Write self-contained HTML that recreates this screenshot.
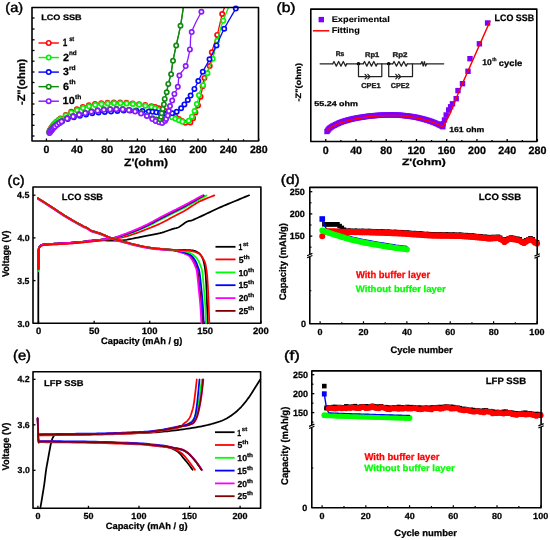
<!DOCTYPE html>
<html><head><meta charset="utf-8"><style>
html,body{margin:0;padding:0;background:#fff;width:550px;height:540px;overflow:hidden}
svg{display:block;will-change:transform}
text{font-family:"Liberation Sans",sans-serif;text-rendering:geometricPrecision}
</style></head><body>
<svg xmlns="http://www.w3.org/2000/svg" width="550" height="540" viewBox="0 0 550 540">
<rect width="550" height="540" fill="#fff"/>
<polyline points="49.50,131.00 49.76,130.57 50.09,130.00 50.49,129.32 50.94,128.56 51.42,127.77 51.94,126.97 52.47,126.20 53.00,125.50 53.54,124.85 54.10,124.21 54.68,123.59 55.28,122.97 55.91,122.35 56.57,121.74 57.27,121.12 58.00,120.50 58.76,119.88 59.54,119.26 60.35,118.65 61.19,118.03 62.07,117.41 62.99,116.79 63.97,116.15 65.00,115.50 66.09,114.83 67.22,114.14 68.40,113.43 69.62,112.72 70.90,112.01 72.22,111.32 73.59,110.64 75.00,110.00 76.49,109.37 78.06,108.75 79.70,108.13 81.38,107.54 83.07,106.97 84.75,106.43 86.40,105.94 88.00,105.50 89.55,105.11 91.07,104.78 92.57,104.48 94.06,104.22 95.54,103.99 97.02,103.78 98.51,103.59 100.00,103.40 101.50,103.22 103.00,103.06 104.50,102.93 106.00,102.81 107.50,102.70 109.00,102.62 110.50,102.55 112.00,102.50 113.50,102.47 115.00,102.45 116.50,102.45 118.00,102.48 119.50,102.51 121.00,102.56 122.50,102.62 124.00,102.70 125.50,102.79 127.00,102.90 128.50,103.02 130.00,103.16 131.50,103.30 133.00,103.46 134.50,103.63 136.00,103.80 137.51,103.98 139.05,104.16 140.59,104.36 142.12,104.56 143.65,104.78 145.14,105.00 146.60,105.25 148.00,105.50 149.35,105.76 150.66,106.03 151.94,106.31 153.19,106.61 154.41,106.92 155.62,107.25 156.81,107.61 158.00,108.00 159.18,108.42 160.34,108.88 161.49,109.37 162.62,109.88 163.74,110.40 164.84,110.93 165.93,111.47 167.00,112.00 168.05,112.54 169.09,113.09 170.12,113.65 171.12,114.22 172.12,114.79 173.09,115.36 174.05,115.93 175.00,116.50 175.94,117.08 176.87,117.67 177.79,118.27 178.69,118.87 179.57,119.45 180.41,120.01 181.23,120.53 182.00,121.00 182.73,121.44 183.41,121.88 184.07,122.30 184.69,122.68 185.29,123.02 185.87,123.29 186.44,123.49 187.00,123.60 187.55,123.63 188.09,123.60 188.62,123.50 189.12,123.34 189.62,123.11 190.09,122.81 190.55,122.44 191.00,122.00 191.42,121.47 191.82,120.86 192.20,120.16 192.56,119.40 192.92,118.59 193.27,117.74 193.63,116.88 194.00,116.00 194.38,115.09 194.76,114.12 195.15,113.10 195.53,112.06 195.91,111.01 196.29,109.98 196.65,108.97 197.00,108.00 197.34,107.10 197.66,106.27 197.97,105.48 198.28,104.69 198.58,103.87 198.89,103.01 199.19,102.06 199.50,101.00 199.81,99.82 200.13,98.56 200.44,97.22 200.76,95.82 201.07,94.38 201.38,92.92 201.69,91.45 202.00,90.00 202.28,88.54 202.54,87.05 202.78,85.53 203.03,84.00 203.29,82.46 203.60,80.93 203.96,79.41 204.40,77.90 204.95,76.43 205.60,74.98 206.32,73.55 207.07,72.11 207.82,70.67 208.53,69.19 209.17,67.67 209.70,66.10 210.09,64.49 210.37,62.85 210.58,61.19 210.74,59.49 210.91,57.75 211.12,55.96 211.40,54.11 211.80,52.20 212.32,50.22 212.93,48.20 213.60,46.12 214.32,43.99 215.06,41.80 215.80,39.56 216.52,37.26 217.20,34.90 217.86,32.36 218.54,29.59 219.22,26.69 219.89,23.77 220.53,20.93 221.14,18.29 221.70,15.94 222.20,14.00 222.64,12.46 223.04,11.23 223.40,10.26 223.71,9.49 223.99,8.89 224.23,8.41 224.43,7.99 224.60,7.60" fill="none" stroke="#ff0808" stroke-width="1.3" stroke-linejoin="round" stroke-linecap="round"/>
<circle cx="49.50" cy="131.00" r="2.15" fill="#fff" stroke="#ff0808" stroke-width="1.7"/>
<circle cx="50.21" cy="129.80" r="2.15" fill="#fff" stroke="#ff0808" stroke-width="1.7"/>
<circle cx="50.92" cy="128.59" r="2.15" fill="#fff" stroke="#ff0808" stroke-width="1.7"/>
<circle cx="51.66" cy="127.40" r="2.15" fill="#fff" stroke="#ff0808" stroke-width="1.7"/>
<circle cx="52.44" cy="126.24" r="2.15" fill="#fff" stroke="#ff0808" stroke-width="1.7"/>
<circle cx="53.30" cy="125.13" r="2.15" fill="#fff" stroke="#ff0808" stroke-width="1.7"/>
<circle cx="54.22" cy="124.08" r="2.15" fill="#fff" stroke="#ff0808" stroke-width="1.7"/>
<circle cx="56.19" cy="122.09" r="2.15" fill="#fff" stroke="#ff0808" stroke-width="1.7"/>
<circle cx="58.30" cy="120.25" r="2.15" fill="#fff" stroke="#ff0808" stroke-width="1.7"/>
<circle cx="60.51" cy="118.53" r="2.15" fill="#fff" stroke="#ff0808" stroke-width="1.7"/>
<circle cx="65.75" cy="115.04" r="2.15" fill="#fff" stroke="#ff0808" stroke-width="1.7"/>
<circle cx="71.19" cy="111.86" r="2.15" fill="#fff" stroke="#ff0808" stroke-width="1.7"/>
<circle cx="76.90" cy="109.21" r="2.15" fill="#fff" stroke="#ff0808" stroke-width="1.7"/>
<circle cx="82.82" cy="107.05" r="2.15" fill="#fff" stroke="#ff0808" stroke-width="1.7"/>
<circle cx="88.86" cy="105.28" r="2.15" fill="#fff" stroke="#ff0808" stroke-width="1.7"/>
<circle cx="95.04" cy="104.07" r="2.15" fill="#fff" stroke="#ff0808" stroke-width="1.7"/>
<circle cx="101.29" cy="103.25" r="2.15" fill="#fff" stroke="#ff0808" stroke-width="1.7"/>
<circle cx="107.56" cy="102.70" r="2.15" fill="#fff" stroke="#ff0808" stroke-width="1.7"/>
<circle cx="113.86" cy="102.46" r="2.15" fill="#fff" stroke="#ff0808" stroke-width="1.7"/>
<circle cx="120.16" cy="102.53" r="2.15" fill="#fff" stroke="#ff0808" stroke-width="1.7"/>
<circle cx="126.45" cy="102.86" r="2.15" fill="#fff" stroke="#ff0808" stroke-width="1.7"/>
<circle cx="132.72" cy="103.43" r="2.15" fill="#fff" stroke="#ff0808" stroke-width="1.7"/>
<circle cx="138.98" cy="104.16" r="2.15" fill="#fff" stroke="#ff0808" stroke-width="1.7"/>
<circle cx="145.22" cy="105.02" r="2.15" fill="#fff" stroke="#ff0808" stroke-width="1.7"/>
<circle cx="151.41" cy="106.19" r="2.15" fill="#fff" stroke="#ff0808" stroke-width="1.7"/>
<circle cx="155.10" cy="107.10" r="2.15" fill="#fff" stroke="#ff0808" stroke-width="1.7"/>
<circle cx="158.72" cy="108.26" r="2.15" fill="#fff" stroke="#ff0808" stroke-width="1.7"/>
<circle cx="162.23" cy="109.70" r="2.15" fill="#fff" stroke="#ff0808" stroke-width="1.7"/>
<circle cx="165.66" cy="111.33" r="2.15" fill="#fff" stroke="#ff0808" stroke-width="1.7"/>
<circle cx="169.05" cy="113.06" r="2.15" fill="#fff" stroke="#ff0808" stroke-width="1.7"/>
<circle cx="172.36" cy="114.93" r="2.15" fill="#fff" stroke="#ff0808" stroke-width="1.7"/>
<circle cx="175.62" cy="116.88" r="2.15" fill="#fff" stroke="#ff0808" stroke-width="1.7"/>
<circle cx="178.81" cy="118.95" r="2.15" fill="#fff" stroke="#ff0808" stroke-width="1.7"/>
<circle cx="182.00" cy="121.00" r="2.15" fill="#fff" stroke="#ff0808" stroke-width="1.7"/>
<circle cx="185.36" cy="122.79" r="2.15" fill="#fff" stroke="#ff0808" stroke-width="1.7"/>
<circle cx="190.40" cy="122.50" r="2.15" fill="#fff" stroke="#ff0808" stroke-width="1.7"/>
<circle cx="193.10" cy="118.15" r="2.15" fill="#fff" stroke="#ff0808" stroke-width="1.7"/>
<circle cx="195.42" cy="112.38" r="2.15" fill="#fff" stroke="#ff0808" stroke-width="1.7"/>
<circle cx="198.01" cy="105.38" r="2.15" fill="#fff" stroke="#ff0808" stroke-width="1.7"/>
<circle cx="200.54" cy="96.80" r="2.15" fill="#fff" stroke="#ff0808" stroke-width="1.7"/>
<circle cx="202.66" cy="86.26" r="2.15" fill="#fff" stroke="#ff0808" stroke-width="1.7"/>
<circle cx="204.40" cy="77.90" r="2.15" fill="#fff" stroke="#ff0808" stroke-width="1.7"/>
<circle cx="209.70" cy="66.10" r="2.15" fill="#fff" stroke="#ff0808" stroke-width="1.7"/>
<circle cx="211.80" cy="52.20" r="2.15" fill="#fff" stroke="#ff0808" stroke-width="1.7"/>
<circle cx="217.20" cy="34.90" r="2.15" fill="#fff" stroke="#ff0808" stroke-width="1.7"/>
<circle cx="222.20" cy="14.00" r="2.15" fill="#fff" stroke="#ff0808" stroke-width="1.7"/>
<polyline points="49.50,131.50 49.76,131.07 50.09,130.50 50.49,129.82 50.94,129.06 51.42,128.27 51.94,127.47 52.47,126.70 53.00,126.00 53.54,125.35 54.10,124.71 54.68,124.09 55.28,123.47 55.91,122.85 56.57,122.24 57.27,121.62 58.00,121.00 58.76,120.38 59.54,119.75 60.35,119.12 61.19,118.50 62.07,117.88 62.99,117.25 63.97,116.62 65.00,116.00 66.09,115.37 67.22,114.74 68.40,114.10 69.62,113.47 70.90,112.84 72.22,112.21 73.59,111.60 75.00,111.00 76.49,110.40 78.06,109.79 79.70,109.17 81.38,108.58 83.07,108.00 84.75,107.45 86.40,106.95 88.00,106.50 89.55,106.11 91.07,105.76 92.57,105.45 94.06,105.18 95.54,104.94 97.02,104.71 98.51,104.50 100.00,104.30 101.50,104.11 103.00,103.94 104.50,103.79 106.00,103.66 107.50,103.55 109.00,103.45 110.50,103.37 112.00,103.30 113.50,103.25 115.00,103.21 116.50,103.18 118.00,103.17 119.50,103.18 121.00,103.21 122.50,103.25 124.00,103.30 125.51,103.37 127.05,103.47 128.59,103.58 130.12,103.70 131.65,103.84 133.14,103.98 134.60,104.14 136.00,104.30 137.36,104.47 138.69,104.65 139.98,104.84 141.25,105.04 142.48,105.25 143.69,105.46 144.86,105.68 146.00,105.90 147.11,106.12 148.19,106.34 149.23,106.56 150.25,106.78 151.23,107.02 152.19,107.26 153.11,107.52 154.00,107.80 154.84,108.09 155.62,108.39 156.35,108.70 157.06,109.02 157.76,109.36 158.48,109.71 159.22,110.09 160.00,110.50 160.83,110.94 161.70,111.43 162.58,111.94 163.48,112.46 164.38,112.99 165.28,113.52 166.15,114.02 167.00,114.50 167.83,114.95 168.66,115.40 169.48,115.85 170.29,116.28 171.09,116.69 171.85,117.08 172.59,117.45 173.30,117.80 173.97,118.11 174.60,118.40 175.21,118.66 175.79,118.90 176.36,119.13 176.91,119.35 177.46,119.57 178.00,119.80 178.54,120.03 179.06,120.26 179.57,120.49 180.07,120.72 180.56,120.93 181.04,121.14 181.52,121.33 182.00,121.50 182.47,121.67 182.93,121.84 183.39,122.01 183.84,122.17 184.28,122.30 184.72,122.38 185.16,122.42 185.60,122.40 186.04,122.32 186.47,122.19 186.91,122.02 187.34,121.81 187.76,121.56 188.18,121.28 188.60,120.95 189.00,120.60 189.40,120.20 189.80,119.75 190.19,119.25 190.57,118.72 190.95,118.17 191.32,117.61 191.67,117.05 192.00,116.50 192.32,115.96 192.62,115.43 192.90,114.89 193.18,114.34 193.44,113.78 193.70,113.20 193.95,112.61 194.20,112.00 194.44,111.37 194.67,110.72 194.90,110.05 195.11,109.38 195.33,108.68 195.55,107.97 195.77,107.24 196.00,106.50 196.24,105.74 196.50,104.96 196.76,104.16 197.02,103.34 197.28,102.52 197.53,101.68 197.77,100.84 198.00,100.00 198.21,99.14 198.40,98.24 198.58,97.32 198.75,96.41 198.92,95.50 199.10,94.62 199.29,93.78 199.50,93.00 199.73,92.27 199.96,91.57 200.21,90.91 200.47,90.28 200.73,89.68 200.99,89.10 201.25,88.54 201.50,88.00 201.75,87.50 202.00,87.07 202.25,86.67 202.50,86.28 202.75,85.89 203.00,85.48 203.25,85.02 203.50,84.50 203.75,83.91 204.00,83.26 204.26,82.57 204.51,81.85 204.76,81.12 205.01,80.39 205.26,79.68 205.50,79.00 205.73,78.36 205.94,77.76 206.15,77.18 206.36,76.60 206.57,76.00 206.79,75.36 207.03,74.67 207.30,73.90 207.60,73.03 207.92,72.06 208.27,71.02 208.62,69.96 208.98,68.89 209.34,67.85 209.68,66.88 210.00,66.00 210.29,65.29 210.55,64.76 210.79,64.32 211.03,63.89 211.28,63.41 211.55,62.78 211.85,61.94 212.20,60.80 212.60,59.31 213.04,57.51 213.52,55.48 214.02,53.32 214.53,51.11 215.03,48.93 215.53,46.87 216.00,45.00 216.47,43.28 216.94,41.59 217.42,39.96 217.89,38.39 218.35,36.89 218.77,35.49 219.16,34.19 219.50,33.00 219.77,32.00 219.96,31.20 220.10,30.53 220.22,29.94 220.34,29.35 220.50,28.71 220.71,27.95 221.00,27.00 221.38,25.85 221.84,24.54 222.34,23.13 222.88,21.65 223.43,20.15 223.98,18.68 224.51,17.28 225.00,16.00 225.49,14.77 225.99,13.52 226.50,12.29 227.00,11.11 227.47,10.02 227.88,9.05 228.23,8.23 228.50,7.60" fill="none" stroke="#0af00a" stroke-width="1.3" stroke-linejoin="round" stroke-linecap="round"/>
<circle cx="49.50" cy="131.50" r="2.15" fill="#fff" stroke="#0af00a" stroke-width="1.7"/>
<circle cx="50.21" cy="130.30" r="2.15" fill="#fff" stroke="#0af00a" stroke-width="1.7"/>
<circle cx="50.92" cy="129.09" r="2.15" fill="#fff" stroke="#0af00a" stroke-width="1.7"/>
<circle cx="51.66" cy="127.90" r="2.15" fill="#fff" stroke="#0af00a" stroke-width="1.7"/>
<circle cx="52.44" cy="126.74" r="2.15" fill="#fff" stroke="#0af00a" stroke-width="1.7"/>
<circle cx="53.30" cy="125.63" r="2.15" fill="#fff" stroke="#0af00a" stroke-width="1.7"/>
<circle cx="54.22" cy="124.58" r="2.15" fill="#fff" stroke="#0af00a" stroke-width="1.7"/>
<circle cx="56.19" cy="122.59" r="2.15" fill="#fff" stroke="#0af00a" stroke-width="1.7"/>
<circle cx="58.30" cy="120.75" r="2.15" fill="#fff" stroke="#0af00a" stroke-width="1.7"/>
<circle cx="60.50" cy="119.01" r="2.15" fill="#fff" stroke="#0af00a" stroke-width="1.7"/>
<circle cx="65.76" cy="115.56" r="2.15" fill="#fff" stroke="#0af00a" stroke-width="1.7"/>
<circle cx="71.34" cy="112.63" r="2.15" fill="#fff" stroke="#0af00a" stroke-width="1.7"/>
<circle cx="77.13" cy="110.15" r="2.15" fill="#fff" stroke="#0af00a" stroke-width="1.7"/>
<circle cx="83.05" cy="108.00" r="2.15" fill="#fff" stroke="#0af00a" stroke-width="1.7"/>
<circle cx="89.09" cy="106.22" r="2.15" fill="#fff" stroke="#0af00a" stroke-width="1.7"/>
<circle cx="95.26" cy="104.98" r="2.15" fill="#fff" stroke="#0af00a" stroke-width="1.7"/>
<circle cx="101.50" cy="104.11" r="2.15" fill="#fff" stroke="#0af00a" stroke-width="1.7"/>
<circle cx="107.78" cy="103.53" r="2.15" fill="#fff" stroke="#0af00a" stroke-width="1.7"/>
<circle cx="114.07" cy="103.23" r="2.15" fill="#fff" stroke="#0af00a" stroke-width="1.7"/>
<circle cx="120.37" cy="103.19" r="2.15" fill="#fff" stroke="#0af00a" stroke-width="1.7"/>
<circle cx="126.66" cy="103.44" r="2.15" fill="#fff" stroke="#0af00a" stroke-width="1.7"/>
<circle cx="132.94" cy="103.96" r="2.15" fill="#fff" stroke="#0af00a" stroke-width="1.7"/>
<circle cx="139.19" cy="104.72" r="2.15" fill="#fff" stroke="#0af00a" stroke-width="1.7"/>
<circle cx="145.40" cy="105.78" r="2.15" fill="#fff" stroke="#0af00a" stroke-width="1.7"/>
<circle cx="151.56" cy="107.10" r="2.15" fill="#fff" stroke="#0af00a" stroke-width="1.7"/>
<circle cx="155.19" cy="108.22" r="2.15" fill="#fff" stroke="#0af00a" stroke-width="1.7"/>
<circle cx="158.65" cy="109.80" r="2.15" fill="#fff" stroke="#0af00a" stroke-width="1.7"/>
<circle cx="161.99" cy="111.60" r="2.15" fill="#fff" stroke="#0af00a" stroke-width="1.7"/>
<circle cx="165.27" cy="113.52" r="2.15" fill="#fff" stroke="#0af00a" stroke-width="1.7"/>
<circle cx="168.59" cy="115.37" r="2.15" fill="#fff" stroke="#0af00a" stroke-width="1.7"/>
<circle cx="171.96" cy="117.13" r="2.15" fill="#fff" stroke="#0af00a" stroke-width="1.7"/>
<circle cx="175.40" cy="118.74" r="2.15" fill="#fff" stroke="#0af00a" stroke-width="1.7"/>
<circle cx="178.91" cy="120.20" r="2.15" fill="#fff" stroke="#0af00a" stroke-width="1.7"/>
<circle cx="182.42" cy="121.64" r="2.15" fill="#fff" stroke="#0af00a" stroke-width="1.7"/>
<circle cx="188.80" cy="120.77" r="2.15" fill="#fff" stroke="#0af00a" stroke-width="1.7"/>
<circle cx="191.91" cy="116.65" r="2.15" fill="#fff" stroke="#0af00a" stroke-width="1.7"/>
<circle cx="194.56" cy="111.04" r="2.15" fill="#fff" stroke="#0af00a" stroke-width="1.7"/>
<circle cx="196.83" cy="103.93" r="2.15" fill="#fff" stroke="#0af00a" stroke-width="1.7"/>
<circle cx="198.97" cy="95.24" r="2.15" fill="#fff" stroke="#0af00a" stroke-width="1.7"/>
<circle cx="203.06" cy="85.37" r="2.15" fill="#fff" stroke="#0af00a" stroke-width="1.7"/>
<circle cx="207.51" cy="73.28" r="2.15" fill="#fff" stroke="#0af00a" stroke-width="1.7"/>
<circle cx="212.74" cy="58.74" r="2.15" fill="#fff" stroke="#0af00a" stroke-width="1.7"/>
<circle cx="217.20" cy="40.71" r="2.15" fill="#fff" stroke="#0af00a" stroke-width="1.7"/>
<circle cx="223.25" cy="20.63" r="2.15" fill="#fff" stroke="#0af00a" stroke-width="1.7"/>
<polyline points="49.50,132.50 49.76,132.15 50.09,131.68 50.49,131.12 50.94,130.50 51.42,129.85 51.94,129.20 52.47,128.57 53.00,128.00 53.54,127.48 54.10,126.96 54.68,126.46 55.28,125.97 55.91,125.48 56.57,124.99 57.27,124.50 58.00,124.00 58.76,123.49 59.54,122.98 60.35,122.46 61.19,121.94 62.07,121.43 62.99,120.93 63.97,120.45 65.00,120.00 66.09,119.58 67.22,119.18 68.40,118.80 69.62,118.44 70.90,118.08 72.22,117.73 73.59,117.37 75.00,117.00 76.49,116.62 78.06,116.22 79.70,115.81 81.38,115.41 83.07,115.02 84.75,114.65 86.40,114.31 88.00,114.00 89.55,113.73 91.07,113.49 92.57,113.27 94.06,113.07 95.54,112.89 97.02,112.72 98.51,112.56 100.00,112.40 101.50,112.25 103.00,112.13 104.50,112.01 106.00,111.91 107.50,111.81 109.00,111.71 110.50,111.61 112.00,111.50 113.51,111.38 115.02,111.26 116.54,111.13 118.06,111.01 119.57,110.89 121.07,110.78 122.55,110.68 124.00,110.60 125.43,110.53 126.84,110.48 128.24,110.43 129.62,110.39 130.99,110.37 132.34,110.36 133.68,110.37 135.00,110.40 136.30,110.45 137.59,110.53 138.87,110.63 140.12,110.74 141.37,110.86 142.59,110.98 143.80,111.09 145.00,111.20 146.19,111.30 147.39,111.40 148.58,111.49 149.75,111.59 150.89,111.69 151.98,111.79 153.03,111.89 154.00,112.00 154.89,112.12 155.70,112.24 156.45,112.36 157.16,112.49 157.85,112.62 158.54,112.75 159.25,112.87 160.00,113.00 160.78,113.14 161.59,113.29 162.40,113.45 163.21,113.61 164.03,113.75 164.83,113.87 165.63,113.96 166.40,114.00 167.16,114.00 167.92,113.97 168.68,113.90 169.42,113.81 170.15,113.70 170.86,113.58 171.54,113.44 172.20,113.30 172.83,113.16 173.42,113.01 173.99,112.85 174.54,112.67 175.08,112.47 175.61,112.25 176.15,111.99 176.70,111.70 177.26,111.36 177.83,110.99 178.41,110.58 178.97,110.14 179.53,109.69 180.08,109.23 180.60,108.76 181.10,108.30 181.56,107.84 182.00,107.37 182.41,106.90 182.81,106.41 183.20,105.92 183.59,105.42 183.99,104.91 184.40,104.40 184.82,103.87 185.26,103.34 185.69,102.79 186.13,102.23 186.56,101.67 186.99,101.11 187.40,100.55 187.80,100.00 188.17,99.47 188.52,98.95 188.85,98.45 189.18,97.94 189.50,97.42 189.84,96.86 190.21,96.26 190.60,95.60 191.03,94.88 191.48,94.11 191.95,93.30 192.43,92.46 192.92,91.59 193.42,90.71 193.91,89.81 194.40,88.90 194.88,87.99 195.35,87.06 195.83,86.13 196.31,85.17 196.79,84.19 197.28,83.19 197.78,82.16 198.30,81.10 198.82,80.02 199.33,78.93 199.85,77.82 200.38,76.69 200.93,75.52 201.51,74.30 202.13,73.03 202.80,71.70 203.53,70.30 204.31,68.85 205.14,67.34 205.99,65.78 206.87,64.19 207.75,62.58 208.63,60.94 209.50,59.30 210.36,57.65 211.21,55.99 212.07,54.32 212.94,52.61 213.81,50.88 214.69,49.10 215.59,47.28 216.50,45.40 217.40,43.48 218.28,41.52 219.16,39.53 220.06,37.49 221.00,35.41 221.98,33.27 223.05,31.07 224.20,28.80 225.54,26.32 227.09,23.55 228.75,20.64 230.45,17.73 232.09,14.93 233.59,12.38 234.85,10.23 235.80,8.60 236.40,7.55 236.72,6.98 236.82,6.77 236.78,6.84 236.64,7.06 236.47,7.33 236.34,7.55 236.30,7.60" fill="none" stroke="#0808ff" stroke-width="1.3" stroke-linejoin="round" stroke-linecap="round"/>
<circle cx="49.50" cy="132.50" r="2.15" fill="#fff" stroke="#0808ff" stroke-width="1.7"/>
<circle cx="50.32" cy="131.36" r="2.15" fill="#fff" stroke="#0808ff" stroke-width="1.7"/>
<circle cx="51.14" cy="130.23" r="2.15" fill="#fff" stroke="#0808ff" stroke-width="1.7"/>
<circle cx="52.00" cy="129.12" r="2.15" fill="#fff" stroke="#0808ff" stroke-width="1.7"/>
<circle cx="52.93" cy="128.08" r="2.15" fill="#fff" stroke="#0808ff" stroke-width="1.7"/>
<circle cx="53.94" cy="127.11" r="2.15" fill="#fff" stroke="#0808ff" stroke-width="1.7"/>
<circle cx="55.00" cy="126.20" r="2.15" fill="#fff" stroke="#0808ff" stroke-width="1.7"/>
<circle cx="57.24" cy="124.52" r="2.15" fill="#fff" stroke="#0808ff" stroke-width="1.7"/>
<circle cx="59.56" cy="122.96" r="2.15" fill="#fff" stroke="#0808ff" stroke-width="1.7"/>
<circle cx="61.95" cy="121.49" r="2.15" fill="#fff" stroke="#0808ff" stroke-width="1.7"/>
<circle cx="67.73" cy="119.01" r="2.15" fill="#fff" stroke="#0808ff" stroke-width="1.7"/>
<circle cx="73.79" cy="117.31" r="2.15" fill="#fff" stroke="#0808ff" stroke-width="1.7"/>
<circle cx="79.90" cy="115.77" r="2.15" fill="#fff" stroke="#0808ff" stroke-width="1.7"/>
<circle cx="86.05" cy="114.38" r="2.15" fill="#fff" stroke="#0808ff" stroke-width="1.7"/>
<circle cx="92.25" cy="113.31" r="2.15" fill="#fff" stroke="#0808ff" stroke-width="1.7"/>
<circle cx="98.51" cy="112.56" r="2.15" fill="#fff" stroke="#0808ff" stroke-width="1.7"/>
<circle cx="104.78" cy="111.99" r="2.15" fill="#fff" stroke="#0808ff" stroke-width="1.7"/>
<circle cx="111.07" cy="111.57" r="2.15" fill="#fff" stroke="#0808ff" stroke-width="1.7"/>
<circle cx="117.35" cy="111.07" r="2.15" fill="#fff" stroke="#0808ff" stroke-width="1.7"/>
<circle cx="123.63" cy="110.62" r="2.15" fill="#fff" stroke="#0808ff" stroke-width="1.7"/>
<circle cx="129.93" cy="110.39" r="2.15" fill="#fff" stroke="#0808ff" stroke-width="1.7"/>
<circle cx="136.23" cy="110.45" r="2.15" fill="#fff" stroke="#0808ff" stroke-width="1.7"/>
<circle cx="142.50" cy="110.97" r="2.15" fill="#fff" stroke="#0808ff" stroke-width="1.7"/>
<circle cx="148.78" cy="111.51" r="2.15" fill="#fff" stroke="#0808ff" stroke-width="1.7"/>
<circle cx="152.56" cy="111.84" r="2.15" fill="#fff" stroke="#0808ff" stroke-width="1.7"/>
<circle cx="156.33" cy="112.34" r="2.15" fill="#fff" stroke="#0808ff" stroke-width="1.7"/>
<circle cx="160.07" cy="113.01" r="2.15" fill="#fff" stroke="#0808ff" stroke-width="1.7"/>
<circle cx="163.83" cy="113.60" r="2.15" fill="#fff" stroke="#0808ff" stroke-width="1.7"/>
<circle cx="166.40" cy="114.00" r="2.15" fill="#fff" stroke="#0808ff" stroke-width="1.7"/>
<circle cx="172.20" cy="113.30" r="2.15" fill="#fff" stroke="#0808ff" stroke-width="1.7"/>
<circle cx="176.70" cy="111.70" r="2.15" fill="#fff" stroke="#0808ff" stroke-width="1.7"/>
<circle cx="181.10" cy="108.30" r="2.15" fill="#fff" stroke="#0808ff" stroke-width="1.7"/>
<circle cx="184.40" cy="104.40" r="2.15" fill="#fff" stroke="#0808ff" stroke-width="1.7"/>
<circle cx="187.80" cy="100.00" r="2.15" fill="#fff" stroke="#0808ff" stroke-width="1.7"/>
<circle cx="190.60" cy="95.60" r="2.15" fill="#fff" stroke="#0808ff" stroke-width="1.7"/>
<circle cx="194.40" cy="88.90" r="2.15" fill="#fff" stroke="#0808ff" stroke-width="1.7"/>
<circle cx="198.30" cy="81.10" r="2.15" fill="#fff" stroke="#0808ff" stroke-width="1.7"/>
<circle cx="202.80" cy="71.70" r="2.15" fill="#fff" stroke="#0808ff" stroke-width="1.7"/>
<circle cx="209.50" cy="59.30" r="2.15" fill="#fff" stroke="#0808ff" stroke-width="1.7"/>
<circle cx="216.50" cy="45.40" r="2.15" fill="#fff" stroke="#0808ff" stroke-width="1.7"/>
<circle cx="224.20" cy="28.80" r="2.15" fill="#fff" stroke="#0808ff" stroke-width="1.7"/>
<circle cx="235.80" cy="8.60" r="2.15" fill="#fff" stroke="#0808ff" stroke-width="1.7"/>
<polyline points="49.50,132.50 49.76,132.15 50.09,131.69 50.49,131.14 50.94,130.53 51.42,129.89 51.94,129.23 52.47,128.59 53.00,128.00 53.54,127.44 54.10,126.88 54.68,126.31 55.28,125.75 55.91,125.19 56.57,124.62 57.27,124.06 58.00,123.50 58.76,122.93 59.54,122.35 60.35,121.77 61.19,121.19 62.07,120.61 62.99,120.05 63.97,119.51 65.00,119.00 66.09,118.51 67.22,118.05 68.40,117.61 69.62,117.19 70.90,116.77 72.22,116.35 73.59,115.93 75.00,115.50 76.49,115.05 78.06,114.59 79.70,114.13 81.38,113.67 83.07,113.22 84.75,112.78 86.40,112.38 88.00,112.00 89.55,111.65 91.07,111.33 92.57,111.03 94.06,110.74 95.54,110.48 97.02,110.24 98.51,110.01 100.00,109.80 101.50,109.61 103.00,109.44 104.50,109.28 106.00,109.15 107.50,109.03 109.00,108.94 110.50,108.86 112.00,108.80 113.52,108.76 115.07,108.74 116.63,108.73 118.19,108.74 119.72,108.78 121.21,108.83 122.64,108.90 124.00,109.00 125.28,109.12 126.48,109.26 127.64,109.42 128.75,109.61 129.83,109.81 130.89,110.02 131.94,110.26 133.00,110.50 134.06,110.76 135.12,111.05 136.16,111.36 137.19,111.69 138.19,112.02 139.16,112.35 140.10,112.68 141.00,113.00 141.85,113.31 142.64,113.61 143.40,113.91 144.12,114.21 144.84,114.52 145.55,114.83 146.26,115.16 147.00,115.50 147.76,115.87 148.55,116.28 149.34,116.72 150.12,117.15 150.90,117.57 151.64,117.97 152.35,118.31 153.00,118.60 153.60,118.83 154.16,119.01 154.69,119.15 155.19,119.26 155.66,119.35 156.12,119.41 156.56,119.46 157.00,119.50 157.44,119.53 157.86,119.56 158.28,119.57 158.68,119.56 159.06,119.53 159.41,119.46 159.72,119.35 160.00,119.20 160.23,119.00 160.42,118.75 160.57,118.46 160.70,118.14 160.81,117.80 160.90,117.44 161.00,117.07 161.10,116.70 161.20,116.32 161.27,115.94 161.34,115.53 161.40,115.12 161.46,114.69 161.53,114.24 161.60,113.78 161.70,113.30 161.81,112.80 161.94,112.27 162.08,111.73 162.22,111.17 162.37,110.60 162.51,110.03 162.66,109.46 162.80,108.90 162.94,108.35 163.08,107.81 163.23,107.26 163.37,106.72 163.51,106.17 163.65,105.60 163.78,105.01 163.90,104.40 164.01,103.77 164.09,103.12 164.17,102.46 164.24,101.79 164.33,101.09 164.42,100.38 164.54,99.65 164.70,98.90 164.90,98.13 165.12,97.35 165.38,96.55 165.65,95.73 165.93,94.88 166.20,94.02 166.46,93.12 166.70,92.20 166.91,91.25 167.10,90.28 167.28,89.28 167.46,88.26 167.64,87.21 167.83,86.14 168.05,85.03 168.30,83.90 168.59,82.74 168.91,81.57 169.26,80.37 169.62,79.14 169.99,77.88 170.35,76.57 170.69,75.21 171.00,73.80 171.28,72.33 171.52,70.81 171.75,69.24 171.97,67.62 172.19,65.97 172.43,64.28 172.70,62.55 173.00,60.80 173.34,59.03 173.69,57.24 174.06,55.42 174.46,53.57 174.87,51.66 175.29,49.69 175.74,47.64 176.20,45.50 176.70,43.24 177.23,40.85 177.80,38.37 178.38,35.83 178.95,33.27 179.50,30.72 180.03,28.22 180.50,25.80 180.94,23.33 181.37,20.72 181.78,18.07 182.17,15.47 182.52,13.03 182.83,10.84 183.09,8.99 183.30,7.60" fill="none" stroke="#128a12" stroke-width="1.3" stroke-linejoin="round" stroke-linecap="round"/>
<circle cx="49.50" cy="132.50" r="2.15" fill="#fff" stroke="#128a12" stroke-width="1.7"/>
<circle cx="50.33" cy="131.37" r="2.15" fill="#fff" stroke="#128a12" stroke-width="1.7"/>
<circle cx="51.15" cy="130.24" r="2.15" fill="#fff" stroke="#128a12" stroke-width="1.7"/>
<circle cx="52.01" cy="129.14" r="2.15" fill="#fff" stroke="#128a12" stroke-width="1.7"/>
<circle cx="52.93" cy="128.08" r="2.15" fill="#fff" stroke="#128a12" stroke-width="1.7"/>
<circle cx="53.90" cy="127.07" r="2.15" fill="#fff" stroke="#128a12" stroke-width="1.7"/>
<circle cx="54.91" cy="126.10" r="2.15" fill="#fff" stroke="#128a12" stroke-width="1.7"/>
<circle cx="57.02" cy="124.26" r="2.15" fill="#fff" stroke="#128a12" stroke-width="1.7"/>
<circle cx="59.25" cy="122.57" r="2.15" fill="#fff" stroke="#128a12" stroke-width="1.7"/>
<circle cx="61.54" cy="120.95" r="2.15" fill="#fff" stroke="#128a12" stroke-width="1.7"/>
<circle cx="67.13" cy="118.09" r="2.15" fill="#fff" stroke="#128a12" stroke-width="1.7"/>
<circle cx="73.10" cy="116.08" r="2.15" fill="#fff" stroke="#128a12" stroke-width="1.7"/>
<circle cx="79.14" cy="114.29" r="2.15" fill="#fff" stroke="#128a12" stroke-width="1.7"/>
<circle cx="85.23" cy="112.66" r="2.15" fill="#fff" stroke="#128a12" stroke-width="1.7"/>
<circle cx="91.37" cy="111.27" r="2.15" fill="#fff" stroke="#128a12" stroke-width="1.7"/>
<circle cx="97.57" cy="110.15" r="2.15" fill="#fff" stroke="#128a12" stroke-width="1.7"/>
<circle cx="103.82" cy="109.35" r="2.15" fill="#fff" stroke="#128a12" stroke-width="1.7"/>
<circle cx="110.10" cy="108.88" r="2.15" fill="#fff" stroke="#128a12" stroke-width="1.7"/>
<circle cx="116.40" cy="108.73" r="2.15" fill="#fff" stroke="#128a12" stroke-width="1.7"/>
<circle cx="122.70" cy="108.91" r="2.15" fill="#fff" stroke="#128a12" stroke-width="1.7"/>
<circle cx="128.95" cy="109.64" r="2.15" fill="#fff" stroke="#128a12" stroke-width="1.7"/>
<circle cx="135.09" cy="111.05" r="2.15" fill="#fff" stroke="#128a12" stroke-width="1.7"/>
<circle cx="141.07" cy="113.03" r="2.15" fill="#fff" stroke="#128a12" stroke-width="1.7"/>
<circle cx="146.88" cy="115.45" r="2.15" fill="#fff" stroke="#128a12" stroke-width="1.7"/>
<circle cx="152.46" cy="118.37" r="2.15" fill="#fff" stroke="#128a12" stroke-width="1.7"/>
<circle cx="156.10" cy="119.41" r="2.15" fill="#fff" stroke="#128a12" stroke-width="1.7"/>
<circle cx="159.87" cy="119.22" r="2.15" fill="#fff" stroke="#128a12" stroke-width="1.7"/>
<polyline points="49.50,133.00 49.76,132.65 50.09,132.19 50.49,131.64 50.94,131.03 51.42,130.39 51.94,129.73 52.47,129.09 53.00,128.50 53.54,127.94 54.10,127.38 54.68,126.81 55.28,126.25 55.91,125.69 56.57,125.12 57.27,124.56 58.00,124.00 58.76,123.43 59.54,122.85 60.35,122.27 61.19,121.69 62.07,121.11 62.99,120.55 63.97,120.01 65.00,119.50 66.09,119.01 67.22,118.55 68.40,118.11 69.62,117.69 70.90,117.27 72.22,116.85 73.59,116.43 75.00,116.00 76.49,115.55 78.06,115.09 79.70,114.63 81.38,114.17 83.07,113.72 84.75,113.28 86.40,112.88 88.00,112.50 89.55,112.15 91.07,111.83 92.57,111.53 94.06,111.24 95.54,110.98 97.02,110.74 98.51,110.51 100.00,110.30 101.50,110.11 103.00,109.94 104.50,109.78 106.00,109.65 107.50,109.53 109.00,109.44 110.50,109.36 112.00,109.30 113.52,109.26 115.07,109.24 116.63,109.23 118.19,109.24 119.72,109.28 121.21,109.33 122.64,109.40 124.00,109.50 125.28,109.62 126.48,109.76 127.64,109.92 128.75,110.11 129.83,110.31 130.89,110.52 131.94,110.76 133.00,111.00 134.06,111.26 135.12,111.55 136.16,111.86 137.19,112.19 138.19,112.52 139.16,112.85 140.10,113.18 141.00,113.50 141.85,113.81 142.64,114.10 143.40,114.39 144.12,114.69 144.84,114.99 145.55,115.30 146.26,115.64 147.00,116.00 147.76,116.40 148.52,116.83 149.29,117.28 150.06,117.75 150.82,118.22 151.57,118.67 152.30,119.10 153.00,119.50 153.68,119.87 154.34,120.23 154.98,120.58 155.61,120.91 156.23,121.22 156.83,121.50 157.42,121.77 158.00,122.00 158.57,122.22 159.14,122.43 159.70,122.62 160.24,122.78 160.76,122.91 161.27,123.00 161.75,123.03 162.20,123.00 162.63,122.89 163.04,122.71 163.43,122.47 163.79,122.19 164.14,121.89 164.45,121.58 164.74,121.28 165.00,121.00 165.21,120.75 165.38,120.51 165.51,120.27 165.62,120.03 165.72,119.78 165.82,119.51 165.95,119.22 166.10,118.90 166.29,118.55 166.50,118.19 166.72,117.80 166.95,117.40 167.18,116.98 167.40,116.54 167.61,116.08 167.80,115.60 167.97,115.10 168.12,114.57 168.26,114.02 168.39,113.46 168.51,112.88 168.64,112.29 168.77,111.69 168.90,111.10 169.03,110.50 169.15,109.90 169.26,109.28 169.38,108.66 169.51,108.03 169.65,107.40 169.81,106.75 170.00,106.10 170.22,105.44 170.47,104.79 170.74,104.13 171.03,103.46 171.33,102.77 171.62,102.07 171.92,101.35 172.20,100.60 172.47,99.82 172.72,99.02 172.97,98.20 173.22,97.36 173.49,96.50 173.77,95.64 174.07,94.77 174.40,93.90 174.78,93.05 175.21,92.23 175.67,91.41 176.14,90.58 176.60,89.71 177.05,88.79 177.45,87.79 177.80,86.70 178.05,85.49 178.22,84.16 178.33,82.75 178.42,81.29 178.53,79.82 178.71,78.35 178.99,76.94 179.40,75.60 179.98,74.39 180.69,73.28 181.51,72.24 182.39,71.20 183.28,70.12 184.16,68.94 184.98,67.62 185.70,66.10 186.34,64.36 186.95,62.45 187.53,60.39 188.08,58.24 188.59,56.02 189.07,53.79 189.50,51.57 189.90,49.40 190.19,47.29 190.33,45.19 190.40,43.09 190.46,40.98 190.55,38.84 190.75,36.66 191.11,34.41 191.70,32.10 192.60,29.56 193.80,26.74 195.19,23.78 196.66,20.82 198.13,17.99 199.47,15.44 200.60,13.30 201.40,11.70" fill="none" stroke="#8c1aff" stroke-width="1.3" stroke-linejoin="round" stroke-linecap="round"/>
<circle cx="49.50" cy="133.00" r="2.15" fill="#fff" stroke="#8c1aff" stroke-width="1.7"/>
<circle cx="50.33" cy="131.87" r="2.15" fill="#fff" stroke="#8c1aff" stroke-width="1.7"/>
<circle cx="51.15" cy="130.74" r="2.15" fill="#fff" stroke="#8c1aff" stroke-width="1.7"/>
<circle cx="52.01" cy="129.64" r="2.15" fill="#fff" stroke="#8c1aff" stroke-width="1.7"/>
<circle cx="52.93" cy="128.58" r="2.15" fill="#fff" stroke="#8c1aff" stroke-width="1.7"/>
<circle cx="53.90" cy="127.57" r="2.15" fill="#fff" stroke="#8c1aff" stroke-width="1.7"/>
<circle cx="54.91" cy="126.60" r="2.15" fill="#fff" stroke="#8c1aff" stroke-width="1.7"/>
<circle cx="57.02" cy="124.76" r="2.15" fill="#fff" stroke="#8c1aff" stroke-width="1.7"/>
<circle cx="59.25" cy="123.07" r="2.15" fill="#fff" stroke="#8c1aff" stroke-width="1.7"/>
<circle cx="61.54" cy="121.45" r="2.15" fill="#fff" stroke="#8c1aff" stroke-width="1.7"/>
<circle cx="67.13" cy="118.59" r="2.15" fill="#fff" stroke="#8c1aff" stroke-width="1.7"/>
<circle cx="73.10" cy="116.58" r="2.15" fill="#fff" stroke="#8c1aff" stroke-width="1.7"/>
<circle cx="79.14" cy="114.79" r="2.15" fill="#fff" stroke="#8c1aff" stroke-width="1.7"/>
<circle cx="85.23" cy="113.16" r="2.15" fill="#fff" stroke="#8c1aff" stroke-width="1.7"/>
<circle cx="91.37" cy="111.77" r="2.15" fill="#fff" stroke="#8c1aff" stroke-width="1.7"/>
<circle cx="97.57" cy="110.65" r="2.15" fill="#fff" stroke="#8c1aff" stroke-width="1.7"/>
<circle cx="103.82" cy="109.85" r="2.15" fill="#fff" stroke="#8c1aff" stroke-width="1.7"/>
<circle cx="110.10" cy="109.38" r="2.15" fill="#fff" stroke="#8c1aff" stroke-width="1.7"/>
<circle cx="116.40" cy="109.23" r="2.15" fill="#fff" stroke="#8c1aff" stroke-width="1.7"/>
<circle cx="122.70" cy="109.41" r="2.15" fill="#fff" stroke="#8c1aff" stroke-width="1.7"/>
<circle cx="128.95" cy="110.14" r="2.15" fill="#fff" stroke="#8c1aff" stroke-width="1.7"/>
<circle cx="135.09" cy="111.55" r="2.15" fill="#fff" stroke="#8c1aff" stroke-width="1.7"/>
<circle cx="141.07" cy="113.53" r="2.15" fill="#fff" stroke="#8c1aff" stroke-width="1.7"/>
<circle cx="146.88" cy="115.94" r="2.15" fill="#fff" stroke="#8c1aff" stroke-width="1.7"/>
<circle cx="152.32" cy="119.12" r="2.15" fill="#fff" stroke="#8c1aff" stroke-width="1.7"/>
<circle cx="155.66" cy="120.93" r="2.15" fill="#fff" stroke="#8c1aff" stroke-width="1.7"/>
<circle cx="159.17" cy="122.37" r="2.15" fill="#fff" stroke="#8c1aff" stroke-width="1.7"/>
<circle cx="162.20" cy="123.00" r="2.15" fill="#fff" stroke="#8c1aff" stroke-width="1.7"/>
<circle cx="165.00" cy="121.00" r="2.15" fill="#fff" stroke="#8c1aff" stroke-width="1.7"/>
<circle cx="166.10" cy="118.90" r="2.15" fill="#fff" stroke="#8c1aff" stroke-width="1.7"/>
<circle cx="167.80" cy="115.60" r="2.15" fill="#fff" stroke="#8c1aff" stroke-width="1.7"/>
<circle cx="168.90" cy="111.10" r="2.15" fill="#fff" stroke="#8c1aff" stroke-width="1.7"/>
<circle cx="170.00" cy="106.10" r="2.15" fill="#fff" stroke="#8c1aff" stroke-width="1.7"/>
<circle cx="172.20" cy="100.60" r="2.15" fill="#fff" stroke="#8c1aff" stroke-width="1.7"/>
<circle cx="174.40" cy="93.90" r="2.15" fill="#fff" stroke="#8c1aff" stroke-width="1.7"/>
<circle cx="177.80" cy="86.70" r="2.15" fill="#fff" stroke="#8c1aff" stroke-width="1.7"/>
<circle cx="179.40" cy="75.60" r="2.15" fill="#fff" stroke="#8c1aff" stroke-width="1.7"/>
<circle cx="185.70" cy="66.10" r="2.15" fill="#fff" stroke="#8c1aff" stroke-width="1.7"/>
<circle cx="189.90" cy="49.40" r="2.15" fill="#fff" stroke="#8c1aff" stroke-width="1.7"/>
<circle cx="191.70" cy="32.10" r="2.15" fill="#fff" stroke="#8c1aff" stroke-width="1.7"/>
<circle cx="201.40" cy="11.70" r="2.15" fill="#fff" stroke="#8c1aff" stroke-width="1.7"/>
<polyline points="157.00,119.50 157.24,119.49 157.58,119.50 157.99,119.51 158.43,119.51 158.88,119.49 159.31,119.44 159.70,119.34 160.00,119.20 160.23,119.00 160.42,118.75 160.57,118.46 160.70,118.14 160.81,117.80 160.90,117.44 161.00,117.07 161.10,116.70 161.20,116.32 161.27,115.94 161.34,115.53 161.40,115.12 161.46,114.69 161.53,114.24 161.60,113.78 161.70,113.30 161.81,112.80 161.94,112.27 162.08,111.73 162.22,111.17 162.37,110.60 162.51,110.03 162.66,109.46 162.80,108.90 162.94,108.35 163.08,107.81 163.23,107.26 163.37,106.72 163.51,106.17 163.65,105.60 163.78,105.01 163.90,104.40 164.01,103.77 164.09,103.12 164.17,102.46 164.24,101.79 164.33,101.09 164.42,100.38 164.54,99.65 164.70,98.90 164.90,98.13 165.12,97.35 165.38,96.55 165.65,95.73 165.93,94.88 166.20,94.02 166.46,93.12 166.70,92.20 166.91,91.25 167.10,90.28 167.28,89.28 167.46,88.26 167.64,87.21 167.83,86.14 168.05,85.03 168.30,83.90 168.59,82.74 168.91,81.57 169.26,80.37 169.62,79.14 169.99,77.88 170.35,76.57 170.69,75.21 171.00,73.80 171.28,72.33 171.52,70.81 171.75,69.24 171.97,67.62 172.19,65.97 172.43,64.28 172.70,62.55 173.00,60.80 173.34,59.03 173.69,57.24 174.06,55.42 174.46,53.57 174.87,51.66 175.29,49.69 175.74,47.64 176.20,45.50 176.70,43.24 177.23,40.85 177.80,38.37 178.38,35.83 178.95,33.27 179.50,30.72 180.03,28.22 180.50,25.80 180.94,23.33 181.37,20.72 181.78,18.07 182.17,15.47 182.52,13.03 182.83,10.84 183.09,8.99 183.30,7.60" fill="none" stroke="#128a12" stroke-width="1.3" stroke-linejoin="round" stroke-linecap="round"/>
<circle cx="160.00" cy="119.20" r="2.15" fill="#fff" stroke="#128a12" stroke-width="1.7"/>
<circle cx="161.10" cy="116.70" r="2.15" fill="#fff" stroke="#128a12" stroke-width="1.7"/>
<circle cx="161.70" cy="113.30" r="2.15" fill="#fff" stroke="#128a12" stroke-width="1.7"/>
<circle cx="162.80" cy="108.90" r="2.15" fill="#fff" stroke="#128a12" stroke-width="1.7"/>
<circle cx="163.90" cy="104.40" r="2.15" fill="#fff" stroke="#128a12" stroke-width="1.7"/>
<circle cx="164.70" cy="98.90" r="2.15" fill="#fff" stroke="#128a12" stroke-width="1.7"/>
<circle cx="166.70" cy="92.20" r="2.15" fill="#fff" stroke="#128a12" stroke-width="1.7"/>
<circle cx="168.30" cy="83.90" r="2.15" fill="#fff" stroke="#128a12" stroke-width="1.7"/>
<circle cx="171.10" cy="74.20" r="2.15" fill="#fff" stroke="#128a12" stroke-width="1.7"/>
<circle cx="173.00" cy="60.80" r="2.15" fill="#fff" stroke="#128a12" stroke-width="1.7"/>
<circle cx="176.20" cy="45.50" r="2.15" fill="#fff" stroke="#128a12" stroke-width="1.7"/>
<circle cx="180.50" cy="25.80" r="2.15" fill="#fff" stroke="#128a12" stroke-width="1.7"/>
<rect x="32" y="7.5" width="226.50" height="133.50" fill="none" stroke="#000" stroke-width="1.6" stroke-linejoin="round"/>
<line x1="32.00" y1="18.00" x2="34.50" y2="18.00" stroke="#000" stroke-width="1.3"/>
<line x1="32.00" y1="29.00" x2="34.50" y2="29.00" stroke="#000" stroke-width="1.3"/>
<line x1="32.00" y1="39.80" x2="34.50" y2="39.80" stroke="#000" stroke-width="1.3"/>
<line x1="32.00" y1="50.50" x2="34.50" y2="50.50" stroke="#000" stroke-width="1.3"/>
<line x1="32.00" y1="61.20" x2="34.50" y2="61.20" stroke="#000" stroke-width="1.3"/>
<line x1="32.00" y1="72.00" x2="34.50" y2="72.00" stroke="#000" stroke-width="1.3"/>
<line x1="32.00" y1="82.50" x2="34.50" y2="82.50" stroke="#000" stroke-width="1.3"/>
<line x1="32.00" y1="93.20" x2="34.50" y2="93.20" stroke="#000" stroke-width="1.3"/>
<line x1="32.00" y1="104.00" x2="34.50" y2="104.00" stroke="#000" stroke-width="1.3"/>
<line x1="32.00" y1="114.60" x2="34.50" y2="114.60" stroke="#000" stroke-width="1.3"/>
<line x1="32.00" y1="125.30" x2="34.50" y2="125.30" stroke="#000" stroke-width="1.3"/>
<line x1="32.00" y1="136.00" x2="34.50" y2="136.00" stroke="#000" stroke-width="1.3"/>
<line x1="46.45" y1="141.00" x2="46.45" y2="138.50" stroke="#000" stroke-width="1.3"/>
<line x1="61.61" y1="141.00" x2="61.61" y2="139.30" stroke="#000" stroke-width="1.3"/>
<line x1="76.77" y1="141.00" x2="76.77" y2="138.50" stroke="#000" stroke-width="1.3"/>
<line x1="91.93" y1="141.00" x2="91.93" y2="139.30" stroke="#000" stroke-width="1.3"/>
<line x1="107.09" y1="141.00" x2="107.09" y2="138.50" stroke="#000" stroke-width="1.3"/>
<line x1="122.25" y1="141.00" x2="122.25" y2="139.30" stroke="#000" stroke-width="1.3"/>
<line x1="137.41" y1="141.00" x2="137.41" y2="138.50" stroke="#000" stroke-width="1.3"/>
<line x1="152.57" y1="141.00" x2="152.57" y2="139.30" stroke="#000" stroke-width="1.3"/>
<line x1="167.73" y1="141.00" x2="167.73" y2="138.50" stroke="#000" stroke-width="1.3"/>
<line x1="182.89" y1="141.00" x2="182.89" y2="139.30" stroke="#000" stroke-width="1.3"/>
<line x1="198.05" y1="141.00" x2="198.05" y2="138.50" stroke="#000" stroke-width="1.3"/>
<line x1="213.21" y1="141.00" x2="213.21" y2="139.30" stroke="#000" stroke-width="1.3"/>
<line x1="228.37" y1="141.00" x2="228.37" y2="138.50" stroke="#000" stroke-width="1.3"/>
<line x1="243.53" y1="141.00" x2="243.53" y2="139.30" stroke="#000" stroke-width="1.3"/>
<line x1="258.69" y1="141.00" x2="258.69" y2="138.50" stroke="#000" stroke-width="1.3"/>
<text x="43.53" y="153.45" font-size="10.52" font-weight="bold" fill="#000" textLength="5.85" lengthAdjust="spacingAndGlyphs" stroke="#000" stroke-width="0.25">0</text>
<text x="71.05" y="153.45" font-size="10.52" font-weight="bold" fill="#000" textLength="11.70" lengthAdjust="spacingAndGlyphs" stroke="#000" stroke-width="0.25">40</text>
<text x="101.29" y="153.45" font-size="10.52" font-weight="bold" fill="#000" textLength="11.70" lengthAdjust="spacingAndGlyphs" stroke="#000" stroke-width="0.25">80</text>
<text x="128.52" y="153.45" font-size="10.52" font-weight="bold" fill="#000" textLength="17.56" lengthAdjust="spacingAndGlyphs" stroke="#000" stroke-width="0.25">120</text>
<text x="158.84" y="153.45" font-size="10.52" font-weight="bold" fill="#000" textLength="17.56" lengthAdjust="spacingAndGlyphs" stroke="#000" stroke-width="0.25">160</text>
<text x="189.31" y="153.45" font-size="10.52" font-weight="bold" fill="#000" textLength="17.56" lengthAdjust="spacingAndGlyphs" stroke="#000" stroke-width="0.25">200</text>
<text x="219.63" y="153.45" font-size="10.52" font-weight="bold" fill="#000" textLength="17.56" lengthAdjust="spacingAndGlyphs" stroke="#000" stroke-width="0.25">240</text>
<text x="249.95" y="153.45" font-size="10.52" font-weight="bold" fill="#000" textLength="17.56" lengthAdjust="spacingAndGlyphs" stroke="#000" stroke-width="0.25">280</text>
<text x="123.94" y="166.20" font-size="10.62" font-weight="bold" fill="#000" textLength="44.17" lengthAdjust="spacingAndGlyphs" stroke="#000" stroke-width="0.25">Z'(ohm)</text>
<text transform="translate(25.07,105.03) rotate(-90)" font-size="10.73" font-weight="bold" fill="#000" textLength="46.18" lengthAdjust="spacingAndGlyphs" stroke="#000" stroke-width="0.25">-Z"(ohm)</text>
<text x="5.30" y="12.28" font-size="13.63" font-weight="normal" fill="#000" textLength="17.81" lengthAdjust="spacingAndGlyphs" stroke="#000" stroke-width="0.45">(a)</text>
<text x="41.19" y="19.72" font-size="7.91" font-weight="bold" fill="#000" textLength="40.52" lengthAdjust="spacingAndGlyphs" stroke="#000" stroke-width="0.25">LCO SSB</text>
<line x1="38.50" y1="43.00" x2="58.90" y2="43.00" stroke="#ff0808" stroke-width="1.45"/>
<circle cx="48.7" cy="43.00" r="2.2" fill="#fff" stroke="#ff0808" stroke-width="1.6"/>
<text x="62.79" y="46.00" font-size="10.61" font-weight="bold" fill="#000" textLength="4.54" lengthAdjust="spacingAndGlyphs" stroke="#000" stroke-width="0.25">1</text>
<text x="69.20" y="40.80" font-size="6.30" font-weight="bold" fill="#000" textLength="4.96" lengthAdjust="spacingAndGlyphs" stroke="#000" stroke-width="0.25">st</text>
<line x1="38.50" y1="57.55" x2="58.90" y2="57.55" stroke="#0af00a" stroke-width="1.45"/>
<circle cx="48.7" cy="57.55" r="2.2" fill="#fff" stroke="#0af00a" stroke-width="1.6"/>
<text x="62.93" y="60.55" font-size="10.45" font-weight="bold" fill="#000" textLength="6.01" lengthAdjust="spacingAndGlyphs" stroke="#000" stroke-width="0.25">2</text>
<text x="68.98" y="55.35" font-size="6.30" font-weight="bold" fill="#000" textLength="7.73" lengthAdjust="spacingAndGlyphs" stroke="#000" stroke-width="0.25">nd</text>
<line x1="38.50" y1="72.10" x2="58.90" y2="72.10" stroke="#0808ff" stroke-width="1.45"/>
<circle cx="48.7" cy="72.10" r="2.2" fill="#fff" stroke="#0808ff" stroke-width="1.6"/>
<text x="63.06" y="74.98" font-size="10.29" font-weight="bold" fill="#000" textLength="5.82" lengthAdjust="spacingAndGlyphs" stroke="#000" stroke-width="0.25">3</text>
<text x="68.96" y="69.90" font-size="6.30" font-weight="bold" fill="#000" textLength="6.68" lengthAdjust="spacingAndGlyphs" stroke="#000" stroke-width="0.25">rd</text>
<line x1="38.50" y1="86.65" x2="58.90" y2="86.65" stroke="#128a12" stroke-width="1.45"/>
<circle cx="48.7" cy="86.65" r="2.2" fill="#fff" stroke="#128a12" stroke-width="1.6"/>
<text x="62.91" y="89.55" font-size="10.31" font-weight="bold" fill="#000" textLength="5.98" lengthAdjust="spacingAndGlyphs" stroke="#000" stroke-width="0.25">6</text>
<text x="69.32" y="84.45" font-size="6.30" font-weight="bold" fill="#000" textLength="6.30" lengthAdjust="spacingAndGlyphs" stroke="#000" stroke-width="0.25">th</text>
<line x1="38.50" y1="101.20" x2="58.90" y2="101.20" stroke="#8c1aff" stroke-width="1.45"/>
<circle cx="48.7" cy="101.20" r="2.2" fill="#fff" stroke="#8c1aff" stroke-width="1.6"/>
<text x="62.61" y="104.10" font-size="10.31" font-weight="bold" fill="#000" textLength="12.24" lengthAdjust="spacingAndGlyphs" stroke="#000" stroke-width="0.25">10</text>
<text x="75.12" y="99.00" font-size="6.30" font-weight="bold" fill="#000" textLength="6.30" lengthAdjust="spacingAndGlyphs" stroke="#000" stroke-width="0.25">th</text>
<rect x="324.30" y="128.80" width="5.4" height="5.4" fill="#7d00ff"/>
<rect x="325.20" y="127.47" width="5.4" height="5.4" fill="#7d00ff"/>
<rect x="326.19" y="126.22" width="5.4" height="5.4" fill="#7d00ff"/>
<rect x="327.37" y="125.15" width="5.4" height="5.4" fill="#7d00ff"/>
<rect x="328.66" y="124.21" width="5.4" height="5.4" fill="#7d00ff"/>
<rect x="330.03" y="123.38" width="5.4" height="5.4" fill="#7d00ff"/>
<rect x="331.47" y="122.67" width="5.4" height="5.4" fill="#7d00ff"/>
<rect x="332.91" y="121.99" width="5.4" height="5.4" fill="#7d00ff"/>
<rect x="334.35" y="121.27" width="5.4" height="5.4" fill="#7d00ff"/>
<rect x="335.78" y="120.56" width="5.4" height="5.4" fill="#7d00ff"/>
<rect x="337.25" y="119.92" width="5.4" height="5.4" fill="#7d00ff"/>
<rect x="338.74" y="119.36" width="5.4" height="5.4" fill="#7d00ff"/>
<rect x="340.26" y="118.85" width="5.4" height="5.4" fill="#7d00ff"/>
<rect x="341.78" y="118.36" width="5.4" height="5.4" fill="#7d00ff"/>
<rect x="343.31" y="117.90" width="5.4" height="5.4" fill="#7d00ff"/>
<rect x="344.85" y="117.46" width="5.4" height="5.4" fill="#7d00ff"/>
<rect x="346.40" y="117.04" width="5.4" height="5.4" fill="#7d00ff"/>
<rect x="347.95" y="116.65" width="5.4" height="5.4" fill="#7d00ff"/>
<rect x="349.51" y="116.28" width="5.4" height="5.4" fill="#7d00ff"/>
<rect x="351.07" y="115.93" width="5.4" height="5.4" fill="#7d00ff"/>
<rect x="352.64" y="115.62" width="5.4" height="5.4" fill="#7d00ff"/>
<rect x="354.21" y="115.33" width="5.4" height="5.4" fill="#7d00ff"/>
<rect x="355.79" y="115.05" width="5.4" height="5.4" fill="#7d00ff"/>
<rect x="357.36" y="114.79" width="5.4" height="5.4" fill="#7d00ff"/>
<rect x="358.94" y="114.53" width="5.4" height="5.4" fill="#7d00ff"/>
<rect x="360.52" y="114.28" width="5.4" height="5.4" fill="#7d00ff"/>
<rect x="362.11" y="114.04" width="5.4" height="5.4" fill="#7d00ff"/>
<rect x="363.69" y="113.81" width="5.4" height="5.4" fill="#7d00ff"/>
<rect x="365.28" y="113.60" width="5.4" height="5.4" fill="#7d00ff"/>
<rect x="366.86" y="113.41" width="5.4" height="5.4" fill="#7d00ff"/>
<rect x="368.45" y="113.23" width="5.4" height="5.4" fill="#7d00ff"/>
<rect x="370.05" y="113.07" width="5.4" height="5.4" fill="#7d00ff"/>
<rect x="371.64" y="112.93" width="5.4" height="5.4" fill="#7d00ff"/>
<rect x="373.23" y="112.80" width="5.4" height="5.4" fill="#7d00ff"/>
<rect x="374.83" y="112.70" width="5.4" height="5.4" fill="#7d00ff"/>
<rect x="376.43" y="112.60" width="5.4" height="5.4" fill="#7d00ff"/>
<rect x="378.03" y="112.51" width="5.4" height="5.4" fill="#7d00ff"/>
<rect x="379.62" y="112.43" width="5.4" height="5.4" fill="#7d00ff"/>
<rect x="381.22" y="112.37" width="5.4" height="5.4" fill="#7d00ff"/>
<rect x="382.82" y="112.31" width="5.4" height="5.4" fill="#7d00ff"/>
<rect x="384.42" y="112.27" width="5.4" height="5.4" fill="#7d00ff"/>
<rect x="386.02" y="112.24" width="5.4" height="5.4" fill="#7d00ff"/>
<rect x="387.62" y="112.22" width="5.4" height="5.4" fill="#7d00ff"/>
<rect x="389.22" y="112.22" width="5.4" height="5.4" fill="#7d00ff"/>
<rect x="390.82" y="112.23" width="5.4" height="5.4" fill="#7d00ff"/>
<rect x="392.42" y="112.27" width="5.4" height="5.4" fill="#7d00ff"/>
<rect x="394.02" y="112.33" width="5.4" height="5.4" fill="#7d00ff"/>
<rect x="395.62" y="112.42" width="5.4" height="5.4" fill="#7d00ff"/>
<rect x="397.21" y="112.52" width="5.4" height="5.4" fill="#7d00ff"/>
<rect x="398.81" y="112.65" width="5.4" height="5.4" fill="#7d00ff"/>
<rect x="400.40" y="112.79" width="5.4" height="5.4" fill="#7d00ff"/>
<rect x="401.99" y="112.96" width="5.4" height="5.4" fill="#7d00ff"/>
<rect x="403.58" y="113.13" width="5.4" height="5.4" fill="#7d00ff"/>
<rect x="405.17" y="113.32" width="5.4" height="5.4" fill="#7d00ff"/>
<rect x="406.76" y="113.53" width="5.4" height="5.4" fill="#7d00ff"/>
<rect x="408.34" y="113.75" width="5.4" height="5.4" fill="#7d00ff"/>
<rect x="409.92" y="113.99" width="5.4" height="5.4" fill="#7d00ff"/>
<rect x="411.50" y="114.26" width="5.4" height="5.4" fill="#7d00ff"/>
<rect x="413.07" y="114.56" width="5.4" height="5.4" fill="#7d00ff"/>
<rect x="414.64" y="114.88" width="5.4" height="5.4" fill="#7d00ff"/>
<rect x="416.20" y="115.23" width="5.4" height="5.4" fill="#7d00ff"/>
<rect x="417.76" y="115.61" width="5.4" height="5.4" fill="#7d00ff"/>
<rect x="419.31" y="116.00" width="5.4" height="5.4" fill="#7d00ff"/>
<rect x="420.85" y="116.41" width="5.4" height="5.4" fill="#7d00ff"/>
<rect x="422.40" y="116.84" width="5.4" height="5.4" fill="#7d00ff"/>
<rect x="423.93" y="117.29" width="5.4" height="5.4" fill="#7d00ff"/>
<rect x="425.46" y="117.75" width="5.4" height="5.4" fill="#7d00ff"/>
<rect x="426.98" y="118.25" width="5.4" height="5.4" fill="#7d00ff"/>
<rect x="428.50" y="118.77" width="5.4" height="5.4" fill="#7d00ff"/>
<rect x="430.00" y="119.31" width="5.4" height="5.4" fill="#7d00ff"/>
<rect x="431.50" y="119.88" width="5.4" height="5.4" fill="#7d00ff"/>
<rect x="432.98" y="120.49" width="5.4" height="5.4" fill="#7d00ff"/>
<rect x="434.44" y="121.14" width="5.4" height="5.4" fill="#7d00ff"/>
<rect x="435.89" y="121.82" width="5.4" height="5.4" fill="#7d00ff"/>
<rect x="437.33" y="122.51" width="5.4" height="5.4" fill="#7d00ff"/>
<rect x="438.75" y="123.24" width="5.4" height="5.4" fill="#7d00ff"/>
<rect x="440.15" y="124.02" width="5.4" height="5.4" fill="#7d00ff"/>
<rect x="440.30" y="121.10" width="5.4" height="5.4" fill="#7d00ff"/>
<rect x="441.80" y="117.30" width="5.4" height="5.4" fill="#7d00ff"/>
<rect x="443.50" y="112.30" width="5.4" height="5.4" fill="#7d00ff"/>
<rect x="446.00" y="107.30" width="5.4" height="5.4" fill="#7d00ff"/>
<rect x="447.90" y="104.10" width="5.4" height="5.4" fill="#7d00ff"/>
<rect x="449.80" y="101.10" width="5.4" height="5.4" fill="#7d00ff"/>
<rect x="453.50" y="96.00" width="5.4" height="5.4" fill="#7d00ff"/>
<rect x="455.30" y="87.90" width="5.4" height="5.4" fill="#7d00ff"/>
<rect x="459.80" y="81.00" width="5.4" height="5.4" fill="#7d00ff"/>
<rect x="465.30" y="68.60" width="5.4" height="5.4" fill="#7d00ff"/>
<rect x="467.30" y="56.00" width="5.4" height="5.4" fill="#7d00ff"/>
<rect x="476.70" y="41.10" width="5.4" height="5.4" fill="#7d00ff"/>
<rect x="484.90" y="20.30" width="5.4" height="5.4" fill="#7d00ff"/>
<polyline points="327.50,130.50 327.68,130.31 327.91,130.05 328.19,129.74 328.50,129.39 328.84,129.03 329.21,128.67 329.60,128.32 330.00,128.00 330.41,127.70 330.85,127.42 331.30,127.13 331.78,126.85 332.29,126.57 332.82,126.28 333.39,126.00 334.00,125.70 334.64,125.40 335.31,125.09 336.02,124.77 336.75,124.46 337.52,124.14 338.31,123.82 339.14,123.51 340.00,123.20 340.89,122.90 341.81,122.59 342.77,122.29 343.75,121.99 344.77,121.70 345.81,121.40 346.89,121.10 348.00,120.80 349.15,120.49 350.36,120.18 351.60,119.86 352.88,119.55 354.16,119.24 355.45,118.94 356.74,118.66 358.00,118.40 359.25,118.16 360.50,117.93 361.75,117.71 363.00,117.51 364.25,117.31 365.50,117.13 366.75,116.96 368.00,116.80 369.25,116.65 370.50,116.51 371.75,116.39 373.00,116.27 374.25,116.17 375.50,116.07 376.75,115.98 378.00,115.90 379.25,115.82 380.50,115.75 381.75,115.69 383.00,115.64 384.25,115.59 385.50,115.55 386.75,115.52 388.00,115.50 389.25,115.48 390.50,115.47 391.75,115.47 393.00,115.47 394.25,115.48 395.50,115.51 396.75,115.55 398.00,115.60 399.25,115.67 400.50,115.75 401.75,115.84 403.00,115.95 404.25,116.07 405.50,116.20 406.75,116.34 408.00,116.50 409.25,116.67 410.50,116.85 411.75,117.04 413.00,117.24 414.25,117.46 415.50,117.69 416.75,117.94 418.00,118.20 419.26,118.48 420.55,118.78 421.84,119.10 423.12,119.43 424.40,119.77 425.64,120.11 426.85,120.46 428.00,120.80 429.10,121.14 430.17,121.47 431.19,121.80 432.19,122.14 433.17,122.49 434.12,122.85 435.07,123.22 436.00,123.60 436.96,124.03 437.96,124.51 438.97,125.02 439.95,125.52 440.87,126.01 441.69,126.45 442.38,126.83 442.90,127.10" fill="none" stroke="#ff0000" stroke-width="1.5" stroke-linejoin="round" stroke-linecap="round"/>
<polyline points="442.90,127.10 449.50,114.70 459.60,90.00 490.00,21.30" fill="none" stroke="#ff0000" stroke-width="1.5" stroke-linejoin="round" stroke-linecap="round"/>
<rect x="310.8" y="9.1" width="226.00" height="132.40" fill="none" stroke="#000" stroke-width="1.6" stroke-linejoin="round"/>
<line x1="325.75" y1="141.50" x2="325.75" y2="139.00" stroke="#000" stroke-width="1.3"/>
<line x1="340.87" y1="141.50" x2="340.87" y2="140.00" stroke="#000" stroke-width="1.3"/>
<line x1="355.99" y1="141.50" x2="355.99" y2="139.00" stroke="#000" stroke-width="1.3"/>
<line x1="371.11" y1="141.50" x2="371.11" y2="140.00" stroke="#000" stroke-width="1.3"/>
<line x1="386.23" y1="141.50" x2="386.23" y2="139.00" stroke="#000" stroke-width="1.3"/>
<line x1="401.35" y1="141.50" x2="401.35" y2="140.00" stroke="#000" stroke-width="1.3"/>
<line x1="416.47" y1="141.50" x2="416.47" y2="139.00" stroke="#000" stroke-width="1.3"/>
<line x1="431.59" y1="141.50" x2="431.59" y2="140.00" stroke="#000" stroke-width="1.3"/>
<line x1="446.71" y1="141.50" x2="446.71" y2="139.00" stroke="#000" stroke-width="1.3"/>
<line x1="461.83" y1="141.50" x2="461.83" y2="140.00" stroke="#000" stroke-width="1.3"/>
<line x1="476.95" y1="141.50" x2="476.95" y2="139.00" stroke="#000" stroke-width="1.3"/>
<line x1="492.07" y1="141.50" x2="492.07" y2="140.00" stroke="#000" stroke-width="1.3"/>
<line x1="507.19" y1="141.50" x2="507.19" y2="139.00" stroke="#000" stroke-width="1.3"/>
<line x1="522.31" y1="141.50" x2="522.31" y2="140.00" stroke="#000" stroke-width="1.3"/>
<line x1="537.43" y1="141.50" x2="537.43" y2="139.00" stroke="#000" stroke-width="1.3"/>
<text x="322.77" y="153.50" font-size="10.73" font-weight="bold" fill="#000" textLength="5.97" lengthAdjust="spacingAndGlyphs" stroke="#000" stroke-width="0.25">0</text>
<text x="350.16" y="153.50" font-size="10.73" font-weight="bold" fill="#000" textLength="11.94" lengthAdjust="spacingAndGlyphs" stroke="#000" stroke-width="0.25">40</text>
<text x="380.31" y="153.50" font-size="10.73" font-weight="bold" fill="#000" textLength="11.94" lengthAdjust="spacingAndGlyphs" stroke="#000" stroke-width="0.25">80</text>
<text x="407.40" y="153.50" font-size="10.73" font-weight="bold" fill="#000" textLength="17.91" lengthAdjust="spacingAndGlyphs" stroke="#000" stroke-width="0.25">120</text>
<text x="437.64" y="153.50" font-size="10.73" font-weight="bold" fill="#000" textLength="17.91" lengthAdjust="spacingAndGlyphs" stroke="#000" stroke-width="0.25">160</text>
<text x="468.03" y="153.50" font-size="10.73" font-weight="bold" fill="#000" textLength="17.91" lengthAdjust="spacingAndGlyphs" stroke="#000" stroke-width="0.25">200</text>
<text x="498.27" y="153.50" font-size="10.73" font-weight="bold" fill="#000" textLength="17.91" lengthAdjust="spacingAndGlyphs" stroke="#000" stroke-width="0.25">240</text>
<text x="528.51" y="153.50" font-size="10.73" font-weight="bold" fill="#000" textLength="17.91" lengthAdjust="spacingAndGlyphs" stroke="#000" stroke-width="0.25">280</text>
<text x="401.94" y="164.61" font-size="9.12" font-weight="bold" fill="#000" textLength="43.76" lengthAdjust="spacingAndGlyphs" stroke="#000" stroke-width="0.25">Z'(ohm)</text>
<text transform="translate(300.97,101.56) rotate(-90)" font-size="7.83" font-weight="bold" fill="#000" textLength="38.62" lengthAdjust="spacingAndGlyphs" stroke="#000" stroke-width="0.25">-Z"(ohm)</text>
<text x="276.43" y="12.30" font-size="13.52" font-weight="normal" fill="#000" textLength="19.14" lengthAdjust="spacingAndGlyphs" stroke="#000" stroke-width="0.45">(b)</text>
<text x="494.60" y="21.21" font-size="9.32" font-weight="bold" fill="#000" textLength="39.60" lengthAdjust="spacingAndGlyphs" stroke="#000" stroke-width="0.25">LCO SSB</text>
<rect x="318.6" y="16.9" width="5.4" height="5.4" fill="#7d00ff"/>
<text x="331.68" y="22.01" font-size="8.15" font-weight="bold" fill="#000" textLength="58.18" lengthAdjust="spacingAndGlyphs" stroke="#000" stroke-width="0.1">Experimental</text>
<line x1="312.90" y1="30.80" x2="329.30" y2="30.80" stroke="#ff0000" stroke-width="1.5"/>
<text x="331.68" y="33.24" font-size="8.33" font-weight="bold" fill="#000" textLength="28.13" lengthAdjust="spacingAndGlyphs" stroke="#000" stroke-width="0.1">Fitting</text>
<text x="314.33" y="106.33" font-size="7.08" font-weight="bold" fill="#000" textLength="43.63" lengthAdjust="spacingAndGlyphs" stroke="#000" stroke-width="0.25">55.24 ohm</text>
<text x="449.15" y="131.93" font-size="7.35" font-weight="bold" fill="#000" textLength="35.18" lengthAdjust="spacingAndGlyphs" stroke="#000" stroke-width="0.25">161 ohm</text>
<text x="482.16" y="65.22" font-size="8.33" font-weight="bold" fill="#000" textLength="9.49" lengthAdjust="spacingAndGlyphs" stroke="#000" stroke-width="0.25">10</text>
<text x="492.35" y="61.26" font-size="4.91" font-weight="bold" fill="#000" textLength="4.23" lengthAdjust="spacingAndGlyphs" stroke="#000" stroke-width="0.25">th</text>
<text x="498.83" y="65.54" font-size="8.48" font-weight="bold" fill="#000" textLength="23.49" lengthAdjust="spacingAndGlyphs" stroke="#000" stroke-width="0.25">cycle</text>
<polyline points="320.10,63.80 332.80,63.80" fill="none" stroke="#222" stroke-width="1.25" stroke-linejoin="round" stroke-linecap="round"/>
<polyline points="332.80,63.80 333.97,61.50 336.30,66.10 338.63,61.50 340.97,66.10 343.30,61.50 345.63,66.10 346.80,63.80" fill="none" stroke="#222" stroke-width="1.25" stroke-linejoin="round" stroke-linecap="round"/>
<polyline points="346.80,63.80 363.30,63.80" fill="none" stroke="#222" stroke-width="1.25" stroke-linejoin="round" stroke-linecap="round"/>
<polyline points="363.30,63.80 364.47,61.50 366.80,66.10 369.13,61.50 371.47,66.10 373.80,61.50 376.13,66.10 377.30,63.80" fill="none" stroke="#222" stroke-width="1.25" stroke-linejoin="round" stroke-linecap="round"/>
<polyline points="377.30,63.80 392.80,63.80" fill="none" stroke="#222" stroke-width="1.25" stroke-linejoin="round" stroke-linecap="round"/>
<polyline points="392.80,63.80 394.02,61.50 396.45,66.10 398.88,61.50 401.32,66.10 403.75,61.50 406.18,66.10 407.40,63.80" fill="none" stroke="#222" stroke-width="1.25" stroke-linejoin="round" stroke-linecap="round"/>
<polyline points="407.40,63.80 420.80,63.80" fill="none" stroke="#222" stroke-width="1.25" stroke-linejoin="round" stroke-linecap="round"/>
<polyline points="420.80,63.80 422.00,61.60 423.20,66.00 424.40,61.60 425.60,66.00 426.80,63.80" fill="none" stroke="#222" stroke-width="1.25" stroke-linejoin="round" stroke-linecap="round"/>
<polyline points="426.80,63.80 443.70,63.80" fill="none" stroke="#222" stroke-width="1.25" stroke-linejoin="round" stroke-linecap="round"/>
<circle cx="358.5" cy="63.8" r="1.8" fill="#000"/>
<polyline points="358.50,63.80 358.50,76.60 365.90,76.60" fill="none" stroke="#222" stroke-width="1.25" stroke-linejoin="round" stroke-linecap="round"/>
<polyline points="367.50,76.60 381.80,76.60 381.80,63.80" fill="none" stroke="#222" stroke-width="1.25" stroke-linejoin="round" stroke-linecap="round"/>
<polyline points="365.10,74.30 367.20,76.60 365.10,78.90" fill="none" stroke="#222" stroke-width="1.25" stroke-linejoin="round" stroke-linecap="round"/>
<polyline points="367.90,74.30 370.00,76.60 367.90,78.90" fill="none" stroke="#222" stroke-width="1.25" stroke-linejoin="round" stroke-linecap="round"/>
<circle cx="388.7" cy="63.8" r="1.8" fill="#000"/>
<polyline points="388.70,63.80 388.70,76.60 396.60,76.60" fill="none" stroke="#222" stroke-width="1.25" stroke-linejoin="round" stroke-linecap="round"/>
<polyline points="398.20,76.60 412.50,76.60 412.50,63.80" fill="none" stroke="#222" stroke-width="1.25" stroke-linejoin="round" stroke-linecap="round"/>
<polyline points="395.80,74.30 397.90,76.60 395.80,78.90" fill="none" stroke="#222" stroke-width="1.25" stroke-linejoin="round" stroke-linecap="round"/>
<polyline points="398.60,74.30 400.70,76.60 398.60,78.90" fill="none" stroke="#222" stroke-width="1.25" stroke-linejoin="round" stroke-linecap="round"/>
<text x="335.75" y="56.43" font-size="6.88" font-weight="bold" fill="#222" textLength="8.63" lengthAdjust="spacingAndGlyphs" stroke="#222" stroke-width="0.35">Rs</text>
<text x="365.00" y="56.54" font-size="7.04" font-weight="bold" fill="#222" textLength="14.21" lengthAdjust="spacingAndGlyphs" stroke="#222" stroke-width="0.35">Rp1</text>
<text x="392.47" y="56.56" font-size="6.96" font-weight="bold" fill="#222" textLength="15.05" lengthAdjust="spacingAndGlyphs" stroke="#222" stroke-width="0.35">Rp2</text>
<text x="361.30" y="87.83" font-size="7.20" font-weight="bold" fill="#222" textLength="19.21" lengthAdjust="spacingAndGlyphs" stroke="#222" stroke-width="0.35">CPE1</text>
<text x="390.81" y="87.83" font-size="7.20" font-weight="bold" fill="#222" textLength="18.68" lengthAdjust="spacingAndGlyphs" stroke="#222" stroke-width="0.35">CPE2</text>
<rect x="33" y="187" width="227.90" height="136.30" fill="none" stroke="#000" stroke-width="1.6" stroke-linejoin="round"/>
<line x1="33.00" y1="195.20" x2="35.50" y2="195.20" stroke="#000" stroke-width="1.3"/>
<line x1="33.00" y1="237.90" x2="35.50" y2="237.90" stroke="#000" stroke-width="1.3"/>
<line x1="33.00" y1="280.60" x2="35.50" y2="280.60" stroke="#000" stroke-width="1.3"/>
<line x1="38.55" y1="323.30" x2="38.55" y2="320.80" stroke="#000" stroke-width="1.3"/>
<line x1="94.15" y1="323.30" x2="94.15" y2="320.80" stroke="#000" stroke-width="1.3"/>
<line x1="149.75" y1="323.30" x2="149.75" y2="320.80" stroke="#000" stroke-width="1.3"/>
<line x1="205.35" y1="323.30" x2="205.35" y2="320.80" stroke="#000" stroke-width="1.3"/>
<line x1="260.95" y1="323.30" x2="260.95" y2="320.80" stroke="#000" stroke-width="1.3"/>
<polyline points="38.30,323.30 38.30,321.60 38.30,319.46 38.30,316.92 38.29,314.03 38.29,310.84 38.29,307.40 38.30,303.78 38.30,300.00 38.31,295.78 38.32,290.92 38.33,285.68 38.34,280.29 38.35,274.99 38.37,270.02 38.38,265.61 38.40,262.00 38.42,259.20 38.43,256.97 38.44,255.21 38.45,253.83 38.47,252.71 38.50,251.77 38.54,250.90 38.60,250.00 38.67,249.17 38.74,248.55 38.82,248.10 38.91,247.78 39.01,247.53 39.15,247.31 39.31,247.08 39.50,246.80 39.70,246.48 39.90,246.19 40.10,245.91 40.34,245.65 40.63,245.41 40.99,245.19 41.44,244.98 42.00,244.80 42.63,244.64 43.30,244.52 44.03,244.42 44.84,244.33 45.76,244.25 46.81,244.18 48.02,244.10 49.40,244.00 51.01,243.90 52.85,243.79 54.86,243.69 56.99,243.58 59.19,243.47 61.41,243.36 63.60,243.23 65.70,243.10 67.80,242.96 69.99,242.80 72.22,242.64 74.43,242.47 76.57,242.30 78.60,242.13 80.46,241.96 82.10,241.80 83.48,241.64 84.62,241.47 85.59,241.30 86.45,241.14 87.26,240.98 88.08,240.83 88.97,240.71 90.00,240.60 91.18,240.52 92.45,240.45 93.77,240.40 95.12,240.36 96.45,240.34 97.73,240.32 98.93,240.31 100.00,240.30 100.93,240.30 101.74,240.32 102.47,240.34 103.15,240.38 103.81,240.41 104.48,240.45 105.20,240.48 106.00,240.50 106.85,240.52 107.70,240.55 108.57,240.58 109.46,240.60 110.40,240.62 111.40,240.63 112.46,240.62 113.60,240.60 114.82,240.57 116.10,240.55 117.44,240.53 118.84,240.49 120.29,240.42 121.81,240.33 123.38,240.19 125.00,240.00 126.67,239.76 128.38,239.46 130.14,239.13 131.96,238.76 133.85,238.37 135.81,237.96 137.86,237.53 140.00,237.10 142.32,236.65 144.84,236.17 147.49,235.68 150.19,235.16 152.87,234.64 155.45,234.12 157.85,233.60 160.00,233.10 161.92,232.59 163.70,232.07 165.35,231.53 166.88,231.01 168.29,230.50 169.61,230.02 170.84,229.58 172.00,229.20 173.05,228.89 173.97,228.64 174.78,228.44 175.50,228.26 176.16,228.10 176.78,227.93 177.39,227.74 178.00,227.50 178.60,227.23 179.15,226.93 179.67,226.62 180.16,226.30 180.62,225.97 181.08,225.64 181.54,225.32 182.00,225.00 182.47,224.68 182.92,224.35 183.38,224.01 183.82,223.68 184.25,223.36 184.68,223.05 185.09,222.76 185.50,222.50 185.88,222.27 186.23,222.07 186.57,221.88 186.90,221.71 187.24,221.55 187.59,221.40 187.97,221.25 188.40,221.10 188.83,220.97 189.22,220.89 189.62,220.83 190.05,220.77 190.54,220.68 191.13,220.54 191.84,220.32 192.70,220.00 193.71,219.59 194.83,219.11 196.06,218.56 197.39,217.96 198.82,217.31 200.33,216.61 201.93,215.87 203.60,215.10 205.40,214.26 207.37,213.33 209.45,212.34 211.61,211.31 213.78,210.28 215.94,209.26 218.03,208.30 220.00,207.40 221.86,206.58 223.64,205.81 225.38,205.07 227.08,204.36 228.77,203.66 230.48,202.95 232.21,202.24 234.00,201.50 235.94,200.70 238.05,199.83 240.25,198.92 242.43,198.03 244.50,197.18 246.36,196.42 247.93,195.78 249.10,195.30" fill="none" stroke="#000" stroke-width="1.75" stroke-linejoin="round" stroke-linecap="round"/>
<polyline points="38.50,268.80 38.50,267.95 38.51,266.79 38.52,265.42 38.52,263.90 38.53,262.32 38.54,260.76 38.54,259.29 38.55,258.00 38.55,256.83 38.54,255.67 38.53,254.55 38.52,253.48 38.52,252.47 38.53,251.55 38.55,250.72 38.60,250.00 38.66,249.42 38.73,248.98 38.80,248.64 38.90,248.38 39.01,248.16 39.14,247.96 39.31,247.75 39.50,247.50 39.70,247.22 39.90,246.94 40.10,246.66 40.34,246.39 40.63,246.14 40.99,245.90 41.44,245.69 42.00,245.50 42.63,245.34 43.30,245.22 44.03,245.12 44.84,245.03 45.76,244.95 46.81,244.88 48.02,244.80 49.40,244.70 51.01,244.60 52.85,244.49 54.86,244.39 56.99,244.28 59.19,244.17 61.41,244.06 63.60,243.93 65.70,243.80 67.80,243.65 69.99,243.49 72.22,243.32 74.43,243.15 76.57,242.98 78.60,242.81 80.46,242.65 82.10,242.50 83.48,242.37 84.62,242.25 85.59,242.14 86.45,242.04 87.26,241.93 88.08,241.83 88.97,241.72 90.00,241.60 91.13,241.48 92.30,241.35 93.50,241.22 94.72,241.09 95.99,240.96 97.29,240.81 98.63,240.66 100.00,240.50 101.43,240.33 102.93,240.14 104.47,239.95 106.04,239.75 107.63,239.54 109.21,239.33 110.78,239.12 112.30,238.90 113.78,238.69 115.23,238.50 116.66,238.31 118.09,238.11 119.52,237.89 120.98,237.64 122.47,237.35 124.00,237.00 125.60,236.59 127.25,236.12 128.94,235.61 130.65,235.06 132.36,234.50 134.05,233.93 135.70,233.36 137.30,232.80 138.84,232.26 140.33,231.71 141.80,231.16 143.24,230.60 144.67,230.04 146.10,229.47 147.54,228.89 149.00,228.30 150.48,227.71 151.96,227.12 153.45,226.52 154.94,225.91 156.44,225.29 157.93,224.65 159.42,223.99 160.90,223.30 162.38,222.57 163.85,221.81 165.33,221.03 166.80,220.23 168.27,219.41 169.75,218.60 171.22,217.79 172.70,217.00 174.17,216.24 175.61,215.51 177.05,214.79 178.49,214.07 179.95,213.33 181.45,212.54 182.99,211.71 184.60,210.80 186.27,209.79 188.00,208.69 189.78,207.52 191.59,206.31 193.42,205.11 195.28,203.93 197.14,202.82 199.00,201.80 200.97,200.83 203.12,199.87 205.34,198.93 207.55,198.04 209.64,197.22 211.53,196.49 213.11,195.88 214.30,195.40" fill="none" stroke="#ff0000" stroke-width="1.75" stroke-linejoin="round" stroke-linecap="round"/>
<polyline points="38.50,271.30 38.50,270.24 38.51,268.79 38.52,267.05 38.52,265.15 38.53,263.18 38.54,261.26 38.54,259.50 38.55,258.00 38.55,256.71 38.54,255.51 38.53,254.40 38.52,253.37 38.52,252.42 38.53,251.54 38.55,250.73 38.60,250.00 38.66,249.36 38.73,248.83 38.80,248.40 38.90,248.03 39.01,247.70 39.14,247.40 39.31,247.11 39.50,246.80 39.70,246.48 39.90,246.19 40.10,245.91 40.34,245.65 40.63,245.41 40.99,245.19 41.44,244.98 42.00,244.80 42.63,244.64 43.30,244.52 44.03,244.42 44.84,244.33 45.76,244.25 46.81,244.18 48.02,244.10 49.40,244.00 51.01,243.90 52.85,243.79 54.86,243.69 56.99,243.58 59.19,243.47 61.41,243.36 63.60,243.23 65.70,243.10 67.80,242.95 69.99,242.79 72.22,242.62 74.43,242.45 76.57,242.28 78.60,242.11 80.46,241.95 82.10,241.80 83.48,241.67 84.62,241.55 85.59,241.44 86.45,241.34 87.26,241.23 88.08,241.13 88.97,241.02 90.00,240.90 91.13,240.78 92.30,240.65 93.50,240.52 94.72,240.39 95.99,240.26 97.29,240.11 98.63,239.96 100.00,239.80 101.43,239.63 102.93,239.46 104.47,239.28 106.04,239.10 107.63,238.90 109.21,238.69 110.78,238.46 112.30,238.20 113.78,237.93 115.23,237.65 116.66,237.36 118.09,237.04 119.52,236.71 120.98,236.34 122.47,235.94 124.00,235.50 125.60,235.01 127.25,234.48 128.94,233.91 130.65,233.31 132.36,232.69 134.05,232.06 135.70,231.43 137.30,230.80 138.84,230.18 140.33,229.56 141.80,228.93 143.24,228.29 144.67,227.64 146.10,226.98 147.54,226.30 149.00,225.60 150.48,224.88 151.96,224.14 153.45,223.37 154.94,222.60 156.44,221.82 157.93,221.04 159.42,220.26 160.90,219.50 162.38,218.74 163.85,217.99 165.33,217.24 166.80,216.49 168.27,215.74 169.75,214.99 171.22,214.24 172.70,213.50 174.11,212.80 175.43,212.16 176.72,211.55 178.02,210.93 179.40,210.26 180.92,209.51 182.63,208.63 184.60,207.60 187.01,206.30 189.89,204.73 193.04,202.98 196.29,201.18 199.45,199.42 202.33,197.82 204.74,196.48 206.50,195.50" fill="none" stroke="#00ff00" stroke-width="1.75" stroke-linejoin="round" stroke-linecap="round"/>
<polyline points="38.50,269.30 38.50,268.41 38.51,267.19 38.52,265.75 38.52,264.15 38.53,262.49 38.54,260.86 38.54,259.33 38.55,258.00 38.55,256.81 38.54,255.66 38.53,254.55 38.52,253.49 38.52,252.50 38.53,251.59 38.55,250.75 38.60,250.00 38.66,249.36 38.73,248.83 38.80,248.40 38.90,248.03 39.01,247.70 39.14,247.40 39.31,247.11 39.50,246.80 39.70,246.48 39.90,246.19 40.10,245.91 40.34,245.65 40.63,245.41 40.99,245.19 41.44,244.98 42.00,244.80 42.63,244.64 43.30,244.52 44.03,244.42 44.84,244.33 45.76,244.25 46.81,244.18 48.02,244.10 49.40,244.00 51.01,243.90 52.85,243.79 54.86,243.69 56.99,243.58 59.19,243.47 61.41,243.36 63.60,243.23 65.70,243.10 67.80,242.95 69.99,242.79 72.22,242.62 74.43,242.45 76.57,242.28 78.60,242.11 80.46,241.95 82.10,241.80 83.48,241.67 84.62,241.55 85.59,241.44 86.45,241.34 87.26,241.23 88.08,241.13 88.97,241.02 90.00,240.90 91.13,240.78 92.30,240.65 93.50,240.52 94.72,240.39 95.99,240.26 97.29,240.11 98.63,239.96 100.00,239.80 101.43,239.63 102.93,239.47 104.47,239.30 106.04,239.12 107.63,238.93 109.21,238.72 110.78,238.48 112.30,238.20 113.78,237.90 115.23,237.57 116.66,237.23 118.09,236.86 119.52,236.47 120.98,236.04 122.47,235.59 124.00,235.10 125.60,234.57 127.25,233.99 128.94,233.38 130.65,232.74 132.36,232.09 134.05,231.42 135.70,230.76 137.30,230.10 138.84,229.45 140.33,228.80 141.80,228.14 143.24,227.48 144.67,226.81 146.10,226.12 147.54,225.42 149.00,224.70 150.48,223.95 151.96,223.18 153.45,222.39 154.94,221.59 156.44,220.78 157.93,219.97 159.42,219.18 160.90,218.40 162.38,217.63 163.85,216.88 165.33,216.12 166.80,215.38 168.27,214.63 169.75,213.89 171.22,213.14 172.70,212.40 174.13,211.69 175.50,211.04 176.83,210.40 178.19,209.76 179.60,209.08 181.11,208.33 182.76,207.48 184.60,206.50 186.78,205.29 189.34,203.85 192.11,202.27 194.94,200.63 197.69,199.04 200.18,197.60 202.27,196.38 203.80,195.50" fill="none" stroke="#0000ff" stroke-width="1.75" stroke-linejoin="round" stroke-linecap="round"/>
<polyline points="38.50,268.50 38.50,267.67 38.51,266.55 38.52,265.22 38.52,263.75 38.53,262.22 38.54,260.70 38.54,259.26 38.55,258.00 38.55,256.85 38.54,255.71 38.53,254.61 38.52,253.54 38.52,252.54 38.53,251.60 38.55,250.75 38.60,250.00 38.66,249.36 38.73,248.83 38.80,248.40 38.90,248.03 39.01,247.70 39.14,247.40 39.31,247.11 39.50,246.80 39.70,246.48 39.90,246.19 40.10,245.91 40.34,245.65 40.63,245.41 40.99,245.19 41.44,244.98 42.00,244.80 42.63,244.64 43.30,244.52 44.03,244.42 44.84,244.33 45.76,244.25 46.81,244.18 48.02,244.10 49.40,244.00 51.01,243.90 52.85,243.79 54.86,243.69 56.99,243.58 59.19,243.47 61.41,243.36 63.60,243.23 65.70,243.10 67.80,242.95 69.99,242.79 72.22,242.62 74.43,242.45 76.57,242.28 78.60,242.11 80.46,241.95 82.10,241.80 83.48,241.67 84.62,241.55 85.59,241.44 86.45,241.34 87.26,241.23 88.08,241.13 88.97,241.02 90.00,240.90 91.13,240.78 92.30,240.65 93.50,240.52 94.72,240.39 95.99,240.26 97.29,240.11 98.63,239.96 100.00,239.80 101.43,239.64 102.93,239.48 104.47,239.32 106.04,239.15 107.63,238.96 109.21,238.75 110.78,238.49 112.30,238.20 113.78,237.87 115.23,237.50 116.66,237.10 118.09,236.67 119.52,236.22 120.98,235.74 122.47,235.23 124.00,234.70 125.60,234.13 127.25,233.53 128.94,232.89 130.65,232.22 132.36,231.55 134.05,230.86 135.70,230.18 137.30,229.50 138.84,228.83 140.33,228.16 141.80,227.49 143.24,226.82 144.67,226.13 146.10,225.44 147.54,224.73 149.00,224.00 150.48,223.25 151.96,222.47 153.45,221.68 154.94,220.88 156.44,220.08 157.93,219.27 159.42,218.48 160.90,217.70 162.38,216.94 163.85,216.18 165.33,215.43 166.80,214.68 168.27,213.94 169.75,213.19 171.22,212.45 172.70,211.70 174.14,210.98 175.51,210.30 176.86,209.63 178.22,208.96 179.64,208.26 181.14,207.50 182.79,206.65 184.60,205.70 186.74,204.56 189.24,203.21 191.94,201.73 194.69,200.22 197.36,198.76 199.78,197.43 201.81,196.32 203.30,195.50" fill="none" stroke="#800000" stroke-width="1.75" stroke-linejoin="round" stroke-linecap="round"/>
<polyline points="38.50,268.50 38.50,267.67 38.51,266.55 38.52,265.22 38.52,263.75 38.53,262.22 38.54,260.70 38.54,259.26 38.55,258.00 38.55,256.85 38.54,255.71 38.53,254.61 38.52,253.54 38.52,252.54 38.53,251.60 38.55,250.75 38.60,250.00 38.66,249.36 38.73,248.83 38.80,248.40 38.90,248.03 39.01,247.70 39.14,247.40 39.31,247.11 39.50,246.80 39.70,246.48 39.90,246.19 40.10,245.91 40.34,245.65 40.63,245.41 40.99,245.19 41.44,244.98 42.00,244.80 42.63,244.64 43.30,244.52 44.03,244.42 44.84,244.33 45.76,244.25 46.81,244.18 48.02,244.10 49.40,244.00 51.01,243.90 52.85,243.79 54.86,243.69 56.99,243.58 59.19,243.47 61.41,243.36 63.60,243.23 65.70,243.10 67.80,242.95 69.99,242.79 72.22,242.62 74.43,242.45 76.57,242.28 78.60,242.11 80.46,241.95 82.10,241.80 83.48,241.67 84.62,241.55 85.59,241.44 86.45,241.34 87.26,241.23 88.08,241.13 88.97,241.02 90.00,240.90 91.13,240.78 92.30,240.65 93.50,240.52 94.72,240.39 95.99,240.26 97.29,240.11 98.63,239.96 100.00,239.80 101.43,239.64 102.93,239.49 104.47,239.34 106.04,239.18 107.63,238.99 109.21,238.77 110.78,238.51 112.30,238.20 113.78,237.83 115.23,237.42 116.66,236.97 118.09,236.48 119.52,235.97 120.98,235.43 122.47,234.87 124.00,234.30 125.60,233.71 127.25,233.08 128.94,232.42 130.65,231.75 132.36,231.06 134.05,230.37 135.70,229.68 137.30,229.00 138.84,228.33 140.33,227.66 141.80,226.99 143.24,226.32 144.67,225.64 146.10,224.94 147.54,224.23 149.00,223.50 150.48,222.74 151.96,221.95 153.45,221.15 154.94,220.33 156.44,219.51 157.93,218.69 159.42,217.89 160.90,217.10 162.38,216.33 163.85,215.57 165.33,214.82 166.80,214.07 168.27,213.33 169.75,212.59 171.22,211.85 172.70,211.10 174.14,210.37 175.53,209.68 176.90,209.01 178.28,208.33 179.71,207.61 181.21,206.85 182.83,206.02 184.60,205.10 186.66,204.01 189.03,202.73 191.59,201.34 194.19,199.92 196.70,198.56 198.98,197.31 200.89,196.27 202.30,195.50" fill="none" stroke="#ff00ff" stroke-width="1.75" stroke-linejoin="round" stroke-linecap="round"/>
<polyline points="38.50,268.80 38.50,267.95 38.51,266.79 38.52,265.42 38.52,263.90 38.53,262.32 38.54,260.76 38.54,259.29 38.55,258.00 38.55,256.83 38.54,255.67 38.53,254.55 38.52,253.48 38.52,252.47 38.53,251.55 38.55,250.72 38.60,250.00 38.66,249.42 38.73,248.98 38.80,248.64 38.90,248.38 39.01,248.16 39.14,247.96 39.31,247.75 39.50,247.50 39.70,247.22 39.90,246.94 40.10,246.66 40.34,246.39 40.63,246.14 40.99,245.90 41.44,245.69 42.00,245.50 42.63,245.34 43.30,245.22 44.03,245.12 44.84,245.03 45.76,244.95 46.81,244.88 48.02,244.80 49.40,244.70 51.01,244.60 52.85,244.49 54.86,244.39 56.99,244.28 59.19,244.17 61.41,244.06 63.60,243.93 65.70,243.80 67.80,243.65 69.99,243.49 72.22,243.32 74.43,243.15 76.57,242.98 78.60,242.81 80.46,242.65 82.10,242.50 83.48,242.37 84.62,242.25 85.59,242.14 86.45,242.04 87.26,241.93 88.08,241.83 88.97,241.72 90.00,241.60 91.22,241.46 92.59,241.31 94.04,241.15 95.49,240.99 96.89,240.84 98.15,240.70 99.21,240.59 100.00,240.50" fill="none" stroke="#ff0000" stroke-width="1.75" stroke-linejoin="round" stroke-linecap="round"/>
<polyline points="37.90,198.60 38.75,199.14 39.85,199.83 41.16,200.65 42.63,201.58 44.23,202.59 45.92,203.66 47.65,204.77 49.40,205.90 51.21,207.08 53.14,208.37 55.16,209.72 57.24,211.12 59.37,212.53 61.51,213.94 63.62,215.30 65.70,216.60 67.83,217.89 70.09,219.22 72.39,220.56 74.68,221.86 76.86,223.10 78.88,224.22 80.65,225.20 82.10,226.00 83.19,226.58 83.98,226.97 84.54,227.21 84.91,227.34 85.18,227.41 85.41,227.46 85.66,227.54 86.00,227.70 86.38,227.90 86.72,228.10 87.04,228.29 87.34,228.48 87.63,228.68 87.93,228.87 88.25,229.08 88.60,229.30 88.95,229.53 89.26,229.76 89.58,230.00 89.91,230.24 90.28,230.50 90.72,230.76 91.25,231.02 91.90,231.30 92.65,231.57 93.49,231.83 94.40,232.09 95.39,232.36 96.44,232.66 97.57,232.99 98.75,233.36 100.00,233.80 101.33,234.31 102.77,234.91 104.29,235.55 105.86,236.23 107.47,236.92 109.10,237.59 110.71,238.22 112.30,238.80 113.85,239.32 115.39,239.79 116.93,240.24 118.48,240.68 120.05,241.10 121.65,241.52 123.30,241.95 125.00,242.40 126.78,242.88 128.64,243.37 130.54,243.88 132.48,244.38 134.42,244.88 136.34,245.35 138.20,245.80 140.00,246.20 141.71,246.57 143.34,246.90 144.93,247.22 146.50,247.51 148.07,247.78 149.66,248.03 151.29,248.27 153.00,248.50 154.80,248.72 156.68,248.93 158.61,249.12 160.56,249.29 162.51,249.45 164.41,249.59 166.25,249.71 168.00,249.80 169.67,249.86 171.30,249.88 172.90,249.88 174.44,249.86 175.92,249.84 177.35,249.81 178.71,249.79 180.00,249.80 181.21,249.82 182.34,249.85 183.40,249.88 184.40,249.92 185.35,249.96 186.26,250.00 187.14,250.05 188.00,250.10 188.83,250.15 189.61,250.19 190.35,250.22 191.06,250.27 191.73,250.32 192.38,250.39 193.00,250.48 193.60,250.60 194.17,250.74 194.72,250.90 195.23,251.08 195.71,251.27 196.18,251.48 196.63,251.70 197.07,251.94 197.50,252.20 197.92,252.46 198.32,252.72 198.70,252.99 199.07,253.28 199.44,253.59 199.79,253.94 200.15,254.34 200.50,254.80 200.86,255.29 201.21,255.80 201.57,256.35 201.91,256.94 202.25,257.58 202.58,258.30 202.90,259.10 203.20,260.00 203.49,260.99 203.77,262.05 204.04,263.18 204.30,264.39 204.55,265.67 204.78,267.04 205.00,268.48 205.20,270.00 205.38,271.62 205.55,273.33 205.70,275.13 205.83,277.00 205.96,278.94 206.07,280.92 206.19,282.95 206.30,285.00 206.41,287.09 206.50,289.24 206.59,291.43 206.68,293.67 206.76,295.95 206.83,298.27 206.92,300.62 207.00,303.00 207.09,305.57 207.19,308.39 207.29,311.34 207.39,314.27 207.49,317.07 207.57,319.60 207.65,321.72 207.70,323.30" fill="none" stroke="#000" stroke-width="1.75" stroke-linejoin="round" stroke-linecap="round"/>
<polyline points="37.90,198.20 38.75,198.74 39.85,199.43 41.16,200.25 42.63,201.18 44.23,202.19 45.92,203.26 47.65,204.37 49.40,205.50 51.21,206.68 53.14,207.97 55.16,209.32 57.24,210.72 59.37,212.13 61.51,213.54 63.62,214.90 65.70,216.20 67.83,217.49 70.09,218.82 72.39,220.16 74.68,221.46 76.86,222.70 78.88,223.82 80.65,224.80 82.10,225.60 83.19,226.18 83.98,226.57 84.54,226.81 84.91,226.94 85.18,227.01 85.41,227.06 85.66,227.14 86.00,227.30 86.38,227.50 86.72,227.70 87.04,227.89 87.34,228.08 87.63,228.28 87.93,228.47 88.25,228.68 88.60,228.90 88.95,229.13 89.26,229.36 89.58,229.60 89.91,229.84 90.28,230.10 90.72,230.36 91.25,230.62 91.90,230.90 92.65,231.17 93.49,231.43 94.40,231.69 95.39,231.96 96.44,232.26 97.57,232.59 98.75,232.96 100.00,233.40 101.33,233.91 102.77,234.51 104.29,235.15 105.86,235.83 107.47,236.52 109.10,237.19 110.71,237.82 112.30,238.40 113.85,238.92 115.39,239.39 116.93,239.84 118.48,240.28 120.05,240.70 121.65,241.12 123.30,241.55 125.00,242.00 126.78,242.48 128.64,242.97 130.54,243.48 132.48,243.98 134.42,244.48 136.34,244.95 138.20,245.40 140.00,245.80 141.71,246.17 143.34,246.50 144.93,246.82 146.50,247.11 148.07,247.38 149.66,247.63 151.29,247.87 153.00,248.10 154.84,248.31 156.82,248.50 158.87,248.67 160.94,248.82 162.95,248.97 164.84,249.11 166.54,249.25 168.00,249.40 169.18,249.55 170.13,249.68 170.91,249.81 171.56,249.94 172.15,250.07 172.71,250.21 173.31,250.35 174.00,250.50 174.75,250.66 175.50,250.81 176.25,250.97 177.00,251.14 177.75,251.31 178.50,251.49 179.25,251.69 180.00,251.90 180.76,252.13 181.54,252.37 182.33,252.63 183.11,252.89 183.88,253.17 184.63,253.44 185.34,253.72 186.00,254.00 186.62,254.26 187.20,254.50 187.74,254.74 188.26,254.99 188.76,255.25 189.25,255.55 189.73,255.90 190.20,256.30 190.67,256.77 191.12,257.29 191.57,257.85 192.00,258.45 192.42,259.07 192.82,259.71 193.22,260.36 193.60,261.00 193.97,261.65 194.33,262.32 194.68,263.00 195.01,263.70 195.33,264.40 195.64,265.11 195.93,265.81 196.20,266.50 196.45,267.10 196.66,267.58 196.86,268.01 197.04,268.47 197.21,269.02 197.40,269.75 197.59,270.71 197.80,272.00 198.03,273.67 198.28,275.69 198.54,277.97 198.80,280.41 199.06,282.92 199.32,285.42 199.57,287.81 199.80,290.00 200.02,292.00 200.23,293.88 200.43,295.70 200.63,297.48 200.82,299.27 201.02,301.09 201.21,302.99 201.40,305.00 201.60,307.25 201.82,309.77 202.04,312.42 202.25,315.09 202.45,317.63 202.63,319.93 202.78,321.87 202.90,323.30" fill="none" stroke="#800000" stroke-width="1.75" stroke-linejoin="round" stroke-linecap="round"/>
<polyline points="37.90,199.00 38.75,199.54 39.85,200.23 41.16,201.05 42.63,201.98 44.23,202.99 45.92,204.06 47.65,205.17 49.40,206.30 51.21,207.48 53.14,208.77 55.16,210.12 57.24,211.52 59.37,212.93 61.51,214.34 63.62,215.70 65.70,217.00 67.83,218.29 70.09,219.62 72.39,220.96 74.68,222.26 76.86,223.50 78.88,224.62 80.65,225.60 82.10,226.40 83.19,226.98 83.98,227.37 84.54,227.61 84.91,227.74 85.18,227.81 85.41,227.86 85.66,227.94 86.00,228.10 86.38,228.30 86.72,228.50 87.04,228.69 87.34,228.88 87.63,229.08 87.93,229.27 88.25,229.48 88.60,229.70 88.95,229.93 89.26,230.16 89.58,230.40 89.91,230.64 90.28,230.90 90.72,231.16 91.25,231.42 91.90,231.70 92.65,231.97 93.49,232.23 94.40,232.49 95.39,232.76 96.44,233.06 97.57,233.39 98.75,233.76 100.00,234.20 101.33,234.71 102.77,235.31 104.29,235.95 105.86,236.63 107.47,237.32 109.10,237.99 110.71,238.62 112.30,239.20 113.85,239.72 115.39,240.19 116.93,240.64 118.48,241.08 120.05,241.50 121.65,241.92 123.30,242.35 125.00,242.80 126.78,243.28 128.64,243.77 130.54,244.28 132.48,244.78 134.42,245.28 136.34,245.75 138.20,246.20 140.00,246.60 141.71,246.97 143.34,247.30 144.93,247.62 146.50,247.91 148.07,248.18 149.66,248.43 151.29,248.67 153.00,248.90 154.84,249.12 156.82,249.32 158.87,249.50 160.94,249.67 162.95,249.82 164.84,249.96 166.54,250.09 168.00,250.20 169.18,250.29 170.13,250.34 170.91,250.37 171.56,250.39 172.15,250.42 172.71,250.45 173.31,250.51 174.00,250.60 174.75,250.72 175.51,250.87 176.27,251.03 177.03,251.20 177.79,251.39 178.54,251.58 179.27,251.79 180.00,252.00 180.72,252.22 181.45,252.45 182.17,252.69 182.88,252.94 183.57,253.20 184.24,253.46 184.89,253.73 185.50,254.00 186.08,254.26 186.62,254.50 187.14,254.74 187.64,254.98 188.12,255.25 188.58,255.55 189.04,255.90 189.50,256.30 189.95,256.77 190.39,257.29 190.82,257.85 191.24,258.45 191.65,259.07 192.05,259.71 192.43,260.36 192.80,261.00 193.16,261.65 193.50,262.32 193.84,263.00 194.16,263.70 194.46,264.40 194.76,265.11 195.04,265.81 195.30,266.50 195.54,267.10 195.76,267.58 195.95,268.01 196.14,268.47 196.32,269.02 196.50,269.75 196.69,270.71 196.90,272.00 197.13,273.67 197.36,275.69 197.61,277.97 197.86,280.41 198.10,282.92 198.35,285.42 198.58,287.81 198.80,290.00 199.01,292.00 199.21,293.88 199.41,295.70 199.60,297.48 199.78,299.27 199.96,301.09 200.13,302.99 200.30,305.00 200.46,307.25 200.63,309.77 200.79,312.42 200.94,315.09 201.09,317.63 201.21,319.93 201.32,321.87 201.40,323.30" fill="none" stroke="#ff00ff" stroke-width="1.75" stroke-linejoin="round" stroke-linecap="round"/>
<polyline points="37.90,198.20 38.75,198.74 39.85,199.43 41.16,200.25 42.63,201.18 44.23,202.19 45.92,203.26 47.65,204.37 49.40,205.50 51.21,206.68 53.14,207.97 55.16,209.32 57.24,210.72 59.37,212.13 61.51,213.54 63.62,214.90 65.70,216.20 67.83,217.49 70.09,218.82 72.39,220.16 74.68,221.46 76.86,222.70 78.88,223.82 80.65,224.80 82.10,225.60 83.19,226.18 83.98,226.57 84.54,226.81 84.91,226.94 85.18,227.01 85.41,227.06 85.66,227.14 86.00,227.30 86.38,227.50 86.72,227.70 87.04,227.89 87.34,228.08 87.63,228.28 87.93,228.47 88.25,228.68 88.60,228.90 88.95,229.13 89.26,229.36 89.58,229.60 89.91,229.84 90.28,230.10 90.72,230.36 91.25,230.62 91.90,230.90 92.65,231.17 93.49,231.43 94.40,231.69 95.39,231.96 96.44,232.26 97.57,232.59 98.75,232.96 100.00,233.40 101.33,233.91 102.77,234.51 104.29,235.15 105.86,235.83 107.47,236.52 109.10,237.19 110.71,237.82 112.30,238.40 113.85,238.92 115.39,239.39 116.93,239.84 118.48,240.28 120.05,240.70 121.65,241.12 123.30,241.55 125.00,242.00 126.78,242.48 128.64,242.97 130.54,243.48 132.48,243.98 134.42,244.48 136.34,244.95 138.20,245.40 140.00,245.80 141.71,246.17 143.34,246.50 144.93,246.82 146.50,247.11 148.07,247.38 149.66,247.63 151.29,247.87 153.00,248.10 154.83,248.31 156.80,248.50 158.83,248.67 160.88,248.83 162.87,248.98 164.77,249.12 166.49,249.26 168.00,249.40 169.26,249.54 170.31,249.66 171.21,249.78 172.00,249.89 172.73,250.01 173.44,250.13 174.18,250.26 175.00,250.40 175.88,250.55 176.77,250.71 177.67,250.87 178.56,251.04 179.45,251.21 180.32,251.40 181.17,251.59 182.00,251.80 182.81,252.02 183.62,252.25 184.41,252.49 185.19,252.74 185.94,252.99 186.66,253.26 187.35,253.53 188.00,253.80 188.60,254.06 189.15,254.32 189.67,254.57 190.16,254.82 190.62,255.11 191.08,255.42 191.54,255.78 192.00,256.20 192.47,256.68 192.93,257.20 193.39,257.77 193.84,258.38 194.28,259.01 194.71,259.66 195.11,260.33 195.50,261.00 195.87,261.69 196.22,262.42 196.55,263.16 196.87,263.93 197.17,264.70 197.46,265.47 197.74,266.24 198.00,267.00 198.24,267.67 198.46,268.24 198.65,268.77 198.84,269.31 199.02,269.94 199.20,270.73 199.39,271.72 199.60,273.00 199.83,274.61 200.07,276.52 200.32,278.66 200.57,280.94 200.82,283.29 201.06,285.63 201.29,287.90 201.50,290.00 201.69,291.95 201.87,293.81 202.04,295.63 202.21,297.42 202.36,299.22 202.51,301.06 202.66,302.98 202.80,305.00 202.95,307.25 203.09,309.77 203.24,312.42 203.38,315.09 203.51,317.63 203.63,319.93 203.72,321.87 203.80,323.30" fill="none" stroke="#0000ff" stroke-width="1.75" stroke-linejoin="round" stroke-linecap="round"/>
<polyline points="37.90,198.20 38.75,198.74 39.85,199.43 41.16,200.25 42.63,201.18 44.23,202.19 45.92,203.26 47.65,204.37 49.40,205.50 51.21,206.68 53.14,207.97 55.16,209.32 57.24,210.72 59.37,212.13 61.51,213.54 63.62,214.90 65.70,216.20 67.83,217.49 70.09,218.82 72.39,220.16 74.68,221.46 76.86,222.70 78.88,223.82 80.65,224.80 82.10,225.60 83.19,226.18 83.98,226.57 84.54,226.81 84.91,226.94 85.18,227.01 85.41,227.06 85.66,227.14 86.00,227.30 86.38,227.50 86.72,227.70 87.04,227.89 87.34,228.08 87.63,228.28 87.93,228.47 88.25,228.68 88.60,228.90 88.95,229.13 89.26,229.36 89.58,229.60 89.91,229.84 90.28,230.10 90.72,230.36 91.25,230.62 91.90,230.90 92.65,231.17 93.49,231.43 94.40,231.69 95.39,231.96 96.44,232.26 97.57,232.59 98.75,232.96 100.00,233.40 101.33,233.91 102.77,234.51 104.29,235.15 105.86,235.83 107.47,236.52 109.10,237.19 110.71,237.82 112.30,238.40 113.85,238.92 115.39,239.39 116.93,239.84 118.48,240.28 120.05,240.70 121.65,241.12 123.30,241.55 125.00,242.00 126.78,242.48 128.64,242.97 130.54,243.48 132.48,243.98 134.42,244.48 136.34,244.95 138.20,245.40 140.00,245.80 141.71,246.17 143.34,246.50 144.93,246.82 146.50,247.11 148.07,247.38 149.66,247.63 151.29,247.87 153.00,248.10 154.83,248.31 156.77,248.51 158.79,248.68 160.81,248.84 162.80,248.99 164.70,249.13 166.45,249.27 168.00,249.40 169.33,249.52 170.49,249.63 171.51,249.73 172.44,249.82 173.31,249.91 174.16,250.00 175.05,250.09 176.00,250.20 177.01,250.31 178.05,250.42 179.09,250.53 180.12,250.64 181.15,250.76 182.14,250.89 183.10,251.04 184.00,251.20 184.86,251.38 185.68,251.57 186.46,251.77 187.22,251.99 187.95,252.22 188.65,252.46 189.34,252.72 190.00,253.00 190.64,253.29 191.25,253.59 191.83,253.89 192.39,254.22 192.94,254.57 193.47,254.94 193.99,255.35 194.50,255.80 195.01,256.29 195.51,256.82 196.00,257.39 196.48,257.98 196.94,258.60 197.39,259.22 197.81,259.86 198.20,260.50 198.57,261.15 198.91,261.81 199.23,262.48 199.52,263.17 199.81,263.87 200.08,264.57 200.34,265.28 200.60,266.00 200.85,266.64 201.07,267.18 201.29,267.69 201.49,268.22 201.69,268.85 201.89,269.64 202.09,270.67 202.30,272.00 202.52,273.70 202.74,275.73 202.96,278.00 203.18,280.44 203.40,282.94 203.61,285.43 203.81,287.81 204.00,290.00 204.18,292.00 204.34,293.88 204.50,295.70 204.65,297.48 204.79,299.27 204.93,301.09 205.07,302.99 205.20,305.00 205.33,307.25 205.47,309.77 205.60,312.42 205.72,315.09 205.84,317.63 205.95,319.93 206.03,321.87 206.10,323.30" fill="none" stroke="#00ff00" stroke-width="1.75" stroke-linejoin="round" stroke-linecap="round"/>
<polyline points="37.90,198.20 38.75,198.74 39.85,199.43 41.16,200.25 42.63,201.18 44.23,202.19 45.92,203.26 47.65,204.37 49.40,205.50 51.21,206.68 53.14,207.97 55.16,209.32 57.24,210.72 59.37,212.13 61.51,213.54 63.62,214.90 65.70,216.20 67.83,217.49 70.09,218.82 72.39,220.16 74.68,221.46 76.86,222.70 78.88,223.82 80.65,224.80 82.10,225.60 83.19,226.18 83.98,226.57 84.54,226.81 84.91,226.94 85.18,227.01 85.41,227.06 85.66,227.14 86.00,227.30 86.38,227.50 86.72,227.70 87.04,227.89 87.34,228.08 87.63,228.28 87.93,228.47 88.25,228.68 88.60,228.90 88.95,229.13 89.26,229.36 89.58,229.60 89.91,229.84 90.28,230.10 90.72,230.36 91.25,230.62 91.90,230.90 92.65,231.17 93.49,231.43 94.40,231.69 95.39,231.96 96.44,232.26 97.57,232.59 98.75,232.96 100.00,233.40 101.33,233.91 102.77,234.51 104.29,235.15 105.86,235.83 107.47,236.52 109.10,237.19 110.71,237.82 112.30,238.40 113.85,238.92 115.39,239.39 116.93,239.84 118.48,240.28 120.05,240.70 121.65,241.12 123.30,241.55 125.00,242.00 126.78,242.48 128.64,242.97 130.54,243.48 132.48,243.98 134.42,244.48 136.34,244.95 138.20,245.40 140.00,245.80 141.71,246.17 143.34,246.50 144.93,246.82 146.50,247.11 148.07,247.38 149.66,247.63 151.29,247.87 153.00,248.10 154.81,248.32 156.73,248.51 158.70,248.69 160.69,248.86 162.65,249.01 164.55,249.15 166.35,249.28 168.00,249.40 169.50,249.51 170.90,249.60 172.20,249.68 173.44,249.75 174.62,249.81 175.76,249.87 176.88,249.93 178.00,250.00 179.11,250.07 180.19,250.13 181.23,250.19 182.25,250.24 183.23,250.30 184.19,250.36 185.11,250.43 186.00,250.50 186.86,250.57 187.68,250.65 188.46,250.72 189.22,250.80 189.95,250.88 190.65,250.98 191.34,251.08 192.00,251.20 192.64,251.33 193.25,251.47 193.84,251.61 194.41,251.77 194.95,251.93 195.48,252.11 196.00,252.30 196.50,252.50 196.99,252.70 197.46,252.90 197.91,253.11 198.34,253.33 198.77,253.57 199.18,253.84 199.59,254.15 200.00,254.50 200.40,254.89 200.80,255.32 201.19,255.79 201.57,256.28 201.94,256.80 202.30,257.35 202.66,257.91 203.00,258.50 203.33,259.08 203.66,259.66 203.98,260.25 204.29,260.88 204.58,261.54 204.87,262.27 205.14,263.09 205.40,264.00 205.64,265.01 205.87,266.11 206.09,267.29 206.29,268.53 206.49,269.83 206.67,271.18 206.84,272.58 207.00,274.00 207.15,275.45 207.28,276.92 207.39,278.44 207.50,280.00 207.60,281.63 207.70,283.33 207.80,285.12 207.90,287.00 208.01,289.01 208.11,291.14 208.22,293.37 208.32,295.67 208.42,298.01 208.52,300.36 208.61,302.70 208.70,305.00 208.79,307.40 208.88,309.98 208.97,312.64 209.05,315.27 209.13,317.76 209.20,320.00 209.26,321.89 209.30,323.30" fill="none" stroke="#ff0000" stroke-width="1.75" stroke-linejoin="round" stroke-linecap="round"/>
<line x1="215.50" y1="246.80" x2="235.50" y2="246.80" stroke="#000" stroke-width="1.8"/>
<text x="238.57" y="250.10" font-size="8.87" font-weight="bold" fill="#000" textLength="3.82" lengthAdjust="spacingAndGlyphs" stroke="#000" stroke-width="0.25">1</text>
<text x="243.09" y="245.90" font-size="5.60" font-weight="bold" fill="#000" textLength="5.28" lengthAdjust="spacingAndGlyphs" stroke="#000" stroke-width="0.25">st</text>
<line x1="215.50" y1="259.40" x2="235.50" y2="259.40" stroke="#ff0000" stroke-width="1.8"/>
<text x="238.73" y="262.61" font-size="8.74" font-weight="bold" fill="#000" textLength="4.81" lengthAdjust="spacingAndGlyphs" stroke="#000" stroke-width="0.25">5</text>
<text x="243.52" y="258.50" font-size="5.60" font-weight="bold" fill="#000" textLength="6.08" lengthAdjust="spacingAndGlyphs" stroke="#000" stroke-width="0.25">th</text>
<line x1="215.50" y1="272.40" x2="235.50" y2="272.40" stroke="#00ff00" stroke-width="1.8"/>
<text x="238.44" y="275.62" font-size="8.62" font-weight="bold" fill="#000" textLength="9.82" lengthAdjust="spacingAndGlyphs" stroke="#000" stroke-width="0.25">10</text>
<text x="248.12" y="271.50" font-size="5.60" font-weight="bold" fill="#000" textLength="6.08" lengthAdjust="spacingAndGlyphs" stroke="#000" stroke-width="0.25">th</text>
<line x1="215.50" y1="285.20" x2="235.50" y2="285.20" stroke="#0000ff" stroke-width="1.8"/>
<text x="238.45" y="288.41" font-size="8.74" font-weight="bold" fill="#000" textLength="9.69" lengthAdjust="spacingAndGlyphs" stroke="#000" stroke-width="0.25">15</text>
<text x="248.12" y="284.30" font-size="5.60" font-weight="bold" fill="#000" textLength="6.08" lengthAdjust="spacingAndGlyphs" stroke="#000" stroke-width="0.25">th</text>
<line x1="215.50" y1="298.10" x2="235.50" y2="298.10" stroke="#ff00ff" stroke-width="1.8"/>
<text x="238.70" y="301.32" font-size="8.62" font-weight="bold" fill="#000" textLength="9.55" lengthAdjust="spacingAndGlyphs" stroke="#000" stroke-width="0.25">20</text>
<text x="248.12" y="297.20" font-size="5.60" font-weight="bold" fill="#000" textLength="6.08" lengthAdjust="spacingAndGlyphs" stroke="#000" stroke-width="0.25">th</text>
<line x1="215.50" y1="310.90" x2="235.50" y2="310.90" stroke="#800000" stroke-width="1.8"/>
<text x="238.71" y="314.12" font-size="8.62" font-weight="bold" fill="#000" textLength="9.43" lengthAdjust="spacingAndGlyphs" stroke="#000" stroke-width="0.25">25</text>
<text x="248.12" y="310.00" font-size="5.60" font-weight="bold" fill="#000" textLength="6.08" lengthAdjust="spacingAndGlyphs" stroke="#000" stroke-width="0.25">th</text>
<text x="17.10" y="198.11" font-size="8.89" font-weight="bold" fill="#000" textLength="12.35" lengthAdjust="spacingAndGlyphs" stroke="#000" stroke-width="0.25">4.5</text>
<text x="17.39" y="240.81" font-size="8.76" font-weight="bold" fill="#000" textLength="12.17" lengthAdjust="spacingAndGlyphs" stroke="#000" stroke-width="0.25">4.0</text>
<text x="17.29" y="283.50" font-size="8.74" font-weight="bold" fill="#000" textLength="12.15" lengthAdjust="spacingAndGlyphs" stroke="#000" stroke-width="0.25">3.5</text>
<text x="17.41" y="326.50" font-size="8.74" font-weight="bold" fill="#000" textLength="12.15" lengthAdjust="spacingAndGlyphs" stroke="#000" stroke-width="0.25">3.0</text>
<text x="35.93" y="334.31" font-size="9.18" font-weight="bold" fill="#000" textLength="5.26" lengthAdjust="spacingAndGlyphs" stroke="#000" stroke-width="0.25">0</text>
<text x="88.94" y="334.31" font-size="9.18" font-weight="bold" fill="#000" textLength="10.52" lengthAdjust="spacingAndGlyphs" stroke="#000" stroke-width="0.25">50</text>
<text x="141.76" y="334.31" font-size="9.18" font-weight="bold" fill="#000" textLength="15.78" lengthAdjust="spacingAndGlyphs" stroke="#000" stroke-width="0.25">100</text>
<text x="197.36" y="334.31" font-size="9.18" font-weight="bold" fill="#000" textLength="15.78" lengthAdjust="spacingAndGlyphs" stroke="#000" stroke-width="0.25">150</text>
<text x="253.09" y="334.31" font-size="9.18" font-weight="bold" fill="#000" textLength="15.78" lengthAdjust="spacingAndGlyphs" stroke="#000" stroke-width="0.25">200</text>
<text x="101.12" y="343.53" font-size="9.29" font-weight="bold" fill="#000" textLength="81.24" lengthAdjust="spacingAndGlyphs" stroke="#000" stroke-width="0.25">Capacity (mAh / g)</text>
<text transform="translate(9.44,277.06) rotate(-90)" font-size="9.72" font-weight="bold" fill="#000" textLength="46.71" lengthAdjust="spacingAndGlyphs" stroke="#000" stroke-width="0.25">Voltage (V)</text>
<text x="7.60" y="184.71" font-size="13.95" font-weight="normal" fill="#000" textLength="17.01" lengthAdjust="spacingAndGlyphs" stroke="#000" stroke-width="0.45">(c)</text>
<text x="61.88" y="200.41" font-size="9.04" font-weight="bold" fill="#000" textLength="41.14" lengthAdjust="spacingAndGlyphs" stroke="#000" stroke-width="0.25">LCO SSB</text>
<rect x="322.14" y="222.00" width="4.6" height="4.6" fill="#000"/>
<rect x="324.31" y="222.00" width="4.6" height="4.6" fill="#000"/>
<rect x="326.48" y="222.00" width="4.6" height="4.6" fill="#000"/>
<rect x="328.65" y="222.00" width="4.6" height="4.6" fill="#000"/>
<rect x="330.81" y="222.00" width="4.6" height="4.6" fill="#000"/>
<rect x="332.98" y="222.00" width="4.6" height="4.6" fill="#000"/>
<rect x="335.15" y="222.00" width="4.6" height="4.6" fill="#000"/>
<rect x="337.32" y="223.80" width="4.6" height="4.6" fill="#000"/>
<rect x="339.49" y="225.60" width="4.6" height="4.6" fill="#000"/>
<rect x="341.66" y="227.40" width="4.6" height="4.6" fill="#000"/>
<rect x="343.83" y="228.88" width="4.6" height="4.6" fill="#000"/>
<rect x="346.00" y="228.42" width="4.6" height="4.6" fill="#000"/>
<rect x="348.17" y="228.45" width="4.6" height="4.6" fill="#000"/>
<rect x="350.34" y="228.99" width="4.6" height="4.6" fill="#000"/>
<rect x="352.50" y="228.53" width="4.6" height="4.6" fill="#000"/>
<rect x="354.67" y="228.57" width="4.6" height="4.6" fill="#000"/>
<rect x="356.84" y="229.11" width="4.6" height="4.6" fill="#000"/>
<rect x="359.01" y="228.65" width="4.6" height="4.6" fill="#000"/>
<rect x="361.18" y="228.68" width="4.6" height="4.6" fill="#000"/>
<rect x="363.35" y="229.22" width="4.6" height="4.6" fill="#000"/>
<rect x="365.52" y="228.76" width="4.6" height="4.6" fill="#000"/>
<rect x="367.69" y="228.80" width="4.6" height="4.6" fill="#000"/>
<rect x="369.86" y="229.38" width="4.6" height="4.6" fill="#000"/>
<rect x="372.03" y="228.96" width="4.6" height="4.6" fill="#000"/>
<rect x="374.19" y="229.04" width="4.6" height="4.6" fill="#000"/>
<rect x="376.36" y="229.61" width="4.6" height="4.6" fill="#000"/>
<rect x="378.53" y="229.19" width="4.6" height="4.6" fill="#000"/>
<rect x="380.70" y="229.27" width="4.6" height="4.6" fill="#000"/>
<rect x="382.87" y="229.85" width="4.6" height="4.6" fill="#000"/>
<rect x="385.04" y="229.43" width="4.6" height="4.6" fill="#000"/>
<rect x="387.21" y="229.51" width="4.6" height="4.6" fill="#000"/>
<rect x="389.38" y="230.09" width="4.6" height="4.6" fill="#000"/>
<rect x="391.55" y="229.66" width="4.6" height="4.6" fill="#000"/>
<rect x="393.72" y="229.74" width="4.6" height="4.6" fill="#000"/>
<rect x="395.88" y="230.32" width="4.6" height="4.6" fill="#000"/>
<rect x="398.05" y="229.90" width="4.6" height="4.6" fill="#000"/>
<rect x="400.22" y="230.05" width="4.6" height="4.6" fill="#000"/>
<rect x="402.39" y="230.70" width="4.6" height="4.6" fill="#000"/>
<rect x="404.56" y="230.35" width="4.6" height="4.6" fill="#000"/>
<rect x="406.73" y="230.50" width="4.6" height="4.6" fill="#000"/>
<rect x="408.90" y="231.15" width="4.6" height="4.6" fill="#000"/>
<rect x="411.07" y="230.80" width="4.6" height="4.6" fill="#000"/>
<rect x="413.24" y="230.95" width="4.6" height="4.6" fill="#000"/>
<rect x="415.41" y="231.60" width="4.6" height="4.6" fill="#000"/>
<rect x="417.57" y="231.25" width="4.6" height="4.6" fill="#000"/>
<rect x="419.74" y="231.40" width="4.6" height="4.6" fill="#000"/>
<rect x="421.91" y="232.05" width="4.6" height="4.6" fill="#000"/>
<rect x="424.08" y="231.70" width="4.6" height="4.6" fill="#000"/>
<rect x="426.25" y="231.85" width="4.6" height="4.6" fill="#000"/>
<rect x="428.42" y="232.50" width="4.6" height="4.6" fill="#000"/>
<rect x="430.59" y="232.03" width="4.6" height="4.6" fill="#000"/>
<rect x="432.76" y="232.07" width="4.6" height="4.6" fill="#000"/>
<rect x="434.93" y="232.60" width="4.6" height="4.6" fill="#000"/>
<rect x="437.10" y="232.13" width="4.6" height="4.6" fill="#000"/>
<rect x="439.26" y="232.17" width="4.6" height="4.6" fill="#000"/>
<rect x="441.43" y="232.70" width="4.6" height="4.6" fill="#000"/>
<rect x="443.60" y="232.23" width="4.6" height="4.6" fill="#000"/>
<rect x="445.77" y="232.27" width="4.6" height="4.6" fill="#000"/>
<rect x="447.94" y="232.80" width="4.6" height="4.6" fill="#000"/>
<rect x="450.11" y="232.34" width="4.6" height="4.6" fill="#000"/>
<rect x="452.28" y="232.38" width="4.6" height="4.6" fill="#000"/>
<rect x="454.45" y="232.92" width="4.6" height="4.6" fill="#000"/>
<rect x="456.62" y="232.46" width="4.6" height="4.6" fill="#000"/>
<rect x="458.79" y="232.50" width="4.6" height="4.6" fill="#000"/>
<rect x="460.95" y="233.16" width="4.6" height="4.6" fill="#000"/>
<rect x="463.12" y="232.82" width="4.6" height="4.6" fill="#000"/>
<rect x="465.29" y="232.98" width="4.6" height="4.6" fill="#000"/>
<rect x="467.46" y="233.64" width="4.6" height="4.6" fill="#000"/>
<rect x="469.63" y="233.30" width="4.6" height="4.6" fill="#000"/>
<rect x="471.80" y="233.50" width="4.6" height="4.6" fill="#000"/>
<rect x="473.97" y="234.20" width="4.6" height="4.6" fill="#000"/>
<rect x="476.14" y="233.90" width="4.6" height="4.6" fill="#000"/>
<rect x="478.31" y="234.10" width="4.6" height="4.6" fill="#000"/>
<rect x="480.48" y="234.80" width="4.6" height="4.6" fill="#000"/>
<rect x="482.64" y="234.50" width="4.6" height="4.6" fill="#000"/>
<rect x="484.81" y="234.80" width="4.6" height="4.6" fill="#000"/>
<rect x="486.98" y="235.60" width="4.6" height="4.6" fill="#000"/>
<rect x="489.15" y="234.90" width="4.6" height="4.6" fill="#000"/>
<rect x="491.32" y="234.70" width="4.6" height="4.6" fill="#000"/>
<rect x="493.49" y="235.10" width="4.6" height="4.6" fill="#000"/>
<rect x="495.66" y="234.50" width="4.6" height="4.6" fill="#000"/>
<rect x="497.83" y="235.50" width="4.6" height="4.6" fill="#000"/>
<rect x="500.00" y="237.00" width="4.6" height="4.6" fill="#000"/>
<rect x="502.17" y="238.50" width="4.6" height="4.6" fill="#000"/>
<rect x="504.33" y="237.00" width="4.6" height="4.6" fill="#000"/>
<rect x="506.50" y="236.00" width="4.6" height="4.6" fill="#000"/>
<rect x="508.67" y="235.30" width="4.6" height="4.6" fill="#000"/>
<rect x="510.84" y="235.65" width="4.6" height="4.6" fill="#000"/>
<rect x="513.01" y="236.50" width="4.6" height="4.6" fill="#000"/>
<rect x="515.18" y="236.50" width="4.6" height="4.6" fill="#000"/>
<rect x="517.35" y="237.00" width="4.6" height="4.6" fill="#000"/>
<rect x="519.52" y="239.00" width="4.6" height="4.6" fill="#000"/>
<rect x="521.69" y="239.50" width="4.6" height="4.6" fill="#000"/>
<rect x="523.86" y="238.00" width="4.6" height="4.6" fill="#000"/>
<rect x="526.02" y="237.20" width="4.6" height="4.6" fill="#000"/>
<rect x="528.19" y="236.00" width="4.6" height="4.6" fill="#000"/>
<rect x="530.36" y="237.00" width="4.6" height="4.6" fill="#000"/>
<rect x="532.53" y="239.50" width="4.6" height="4.6" fill="#000"/>
<rect x="534.70" y="240.00" width="4.6" height="4.6" fill="#000"/>
<polyline points="322.27,219.00 324.44,225.50 326.61,229.07 328.78,229.83 330.95,230.60 333.11,231.30 335.28,232.00 337.45,232.70 339.62,233.40 341.79,234.10 343.96,234.70 346.13,235.30 348.30,235.90 350.47,236.50 352.64,237.10 354.80,237.60 356.97,238.10 359.14,238.60 361.31,239.10 363.48,239.60 365.65,240.00 367.82,240.40 369.99,240.80 372.16,241.20 374.33,241.60 376.49,241.96 378.66,242.32 380.83,242.68 383.00,243.04 385.17,243.40 387.34,243.74 389.51,244.08 391.68,244.42 393.85,244.76 396.02,245.10 398.18,245.38 400.35,245.66 402.52,245.94 404.69,246.22 406.86,246.50" fill="none" stroke="#0000ff" stroke-width="1.4" stroke-linejoin="round" stroke-linecap="round"/>
<rect x="319.47" y="216.20" width="5.6" height="5.6" fill="#0000ff"/>
<circle cx="322.27" cy="236.2" r="3" fill="#ff0000"/>
<circle cx="324.44" cy="231.50" r="3.1" fill="#ff0000"/>
<circle cx="326.61" cy="231.30" r="3.1" fill="#ff0000"/>
<circle cx="328.78" cy="231.34" r="3.1" fill="#ff0000"/>
<circle cx="330.95" cy="231.38" r="3.1" fill="#ff0000"/>
<circle cx="333.11" cy="231.42" r="3.1" fill="#ff0000"/>
<circle cx="335.28" cy="231.46" r="3.1" fill="#ff0000"/>
<circle cx="337.45" cy="231.50" r="3.1" fill="#ff0000"/>
<circle cx="339.62" cy="231.65" r="3.1" fill="#ff0000"/>
<circle cx="341.79" cy="231.80" r="3.1" fill="#ff0000"/>
<circle cx="343.96" cy="231.84" r="3.1" fill="#ff0000"/>
<circle cx="346.13" cy="231.88" r="3.1" fill="#ff0000"/>
<circle cx="348.30" cy="231.92" r="3.1" fill="#ff0000"/>
<circle cx="350.47" cy="231.95" r="3.1" fill="#ff0000"/>
<circle cx="352.64" cy="231.99" r="3.1" fill="#ff0000"/>
<circle cx="354.80" cy="232.03" r="3.1" fill="#ff0000"/>
<circle cx="356.97" cy="232.07" r="3.1" fill="#ff0000"/>
<circle cx="359.14" cy="232.11" r="3.1" fill="#ff0000"/>
<circle cx="361.31" cy="232.15" r="3.1" fill="#ff0000"/>
<circle cx="363.48" cy="232.18" r="3.1" fill="#ff0000"/>
<circle cx="365.65" cy="232.22" r="3.1" fill="#ff0000"/>
<circle cx="367.82" cy="232.26" r="3.1" fill="#ff0000"/>
<circle cx="369.99" cy="232.30" r="3.1" fill="#ff0000"/>
<circle cx="372.16" cy="232.38" r="3.1" fill="#ff0000"/>
<circle cx="374.33" cy="232.46" r="3.1" fill="#ff0000"/>
<circle cx="376.49" cy="232.54" r="3.1" fill="#ff0000"/>
<circle cx="378.66" cy="232.61" r="3.1" fill="#ff0000"/>
<circle cx="380.83" cy="232.69" r="3.1" fill="#ff0000"/>
<circle cx="383.00" cy="232.77" r="3.1" fill="#ff0000"/>
<circle cx="385.17" cy="232.85" r="3.1" fill="#ff0000"/>
<circle cx="387.34" cy="232.93" r="3.1" fill="#ff0000"/>
<circle cx="389.51" cy="233.01" r="3.1" fill="#ff0000"/>
<circle cx="391.68" cy="233.09" r="3.1" fill="#ff0000"/>
<circle cx="393.85" cy="233.16" r="3.1" fill="#ff0000"/>
<circle cx="396.02" cy="233.24" r="3.1" fill="#ff0000"/>
<circle cx="398.18" cy="233.32" r="3.1" fill="#ff0000"/>
<circle cx="400.35" cy="233.40" r="3.1" fill="#ff0000"/>
<circle cx="402.52" cy="233.55" r="3.1" fill="#ff0000"/>
<circle cx="404.69" cy="233.70" r="3.1" fill="#ff0000"/>
<circle cx="406.86" cy="233.85" r="3.1" fill="#ff0000"/>
<circle cx="409.03" cy="234.00" r="3.1" fill="#ff0000"/>
<circle cx="411.20" cy="234.15" r="3.1" fill="#ff0000"/>
<circle cx="413.37" cy="234.30" r="3.1" fill="#ff0000"/>
<circle cx="415.54" cy="234.45" r="3.1" fill="#ff0000"/>
<circle cx="417.71" cy="234.60" r="3.1" fill="#ff0000"/>
<circle cx="419.87" cy="234.75" r="3.1" fill="#ff0000"/>
<circle cx="422.04" cy="234.90" r="3.1" fill="#ff0000"/>
<circle cx="424.21" cy="235.05" r="3.1" fill="#ff0000"/>
<circle cx="426.38" cy="235.20" r="3.1" fill="#ff0000"/>
<circle cx="428.55" cy="235.35" r="3.1" fill="#ff0000"/>
<circle cx="430.72" cy="235.50" r="3.1" fill="#ff0000"/>
<circle cx="432.89" cy="235.53" r="3.1" fill="#ff0000"/>
<circle cx="435.06" cy="235.57" r="3.1" fill="#ff0000"/>
<circle cx="437.23" cy="235.60" r="3.1" fill="#ff0000"/>
<circle cx="439.40" cy="235.63" r="3.1" fill="#ff0000"/>
<circle cx="441.56" cy="235.67" r="3.1" fill="#ff0000"/>
<circle cx="443.73" cy="235.70" r="3.1" fill="#ff0000"/>
<circle cx="445.90" cy="235.73" r="3.1" fill="#ff0000"/>
<circle cx="448.07" cy="235.77" r="3.1" fill="#ff0000"/>
<circle cx="450.24" cy="235.80" r="3.1" fill="#ff0000"/>
<circle cx="452.41" cy="235.84" r="3.1" fill="#ff0000"/>
<circle cx="454.58" cy="235.88" r="3.1" fill="#ff0000"/>
<circle cx="456.75" cy="235.92" r="3.1" fill="#ff0000"/>
<circle cx="458.92" cy="235.96" r="3.1" fill="#ff0000"/>
<circle cx="461.09" cy="236.00" r="3.1" fill="#ff0000"/>
<circle cx="463.25" cy="236.16" r="3.1" fill="#ff0000"/>
<circle cx="465.42" cy="236.32" r="3.1" fill="#ff0000"/>
<circle cx="467.59" cy="236.48" r="3.1" fill="#ff0000"/>
<circle cx="469.76" cy="236.64" r="3.1" fill="#ff0000"/>
<circle cx="471.93" cy="236.80" r="3.1" fill="#ff0000"/>
<circle cx="474.10" cy="237.00" r="3.1" fill="#ff0000"/>
<circle cx="476.27" cy="237.20" r="3.1" fill="#ff0000"/>
<circle cx="478.44" cy="237.40" r="3.1" fill="#ff0000"/>
<circle cx="480.61" cy="237.60" r="3.1" fill="#ff0000"/>
<circle cx="482.78" cy="237.80" r="3.1" fill="#ff0000"/>
<circle cx="484.94" cy="238.00" r="3.1" fill="#ff0000"/>
<circle cx="487.11" cy="238.30" r="3.1" fill="#ff0000"/>
<circle cx="489.28" cy="238.60" r="3.1" fill="#ff0000"/>
<circle cx="491.45" cy="238.40" r="3.1" fill="#ff0000"/>
<circle cx="493.62" cy="238.20" r="3.1" fill="#ff0000"/>
<circle cx="495.79" cy="238.10" r="3.1" fill="#ff0000"/>
<circle cx="497.96" cy="238.00" r="3.1" fill="#ff0000"/>
<circle cx="500.13" cy="239.00" r="3.1" fill="#ff0000"/>
<circle cx="502.30" cy="240.00" r="3.1" fill="#ff0000"/>
<circle cx="504.47" cy="242.00" r="3.1" fill="#ff0000"/>
<circle cx="506.63" cy="240.50" r="3.1" fill="#ff0000"/>
<circle cx="508.80" cy="239.00" r="3.1" fill="#ff0000"/>
<circle cx="510.97" cy="238.80" r="3.1" fill="#ff0000"/>
<circle cx="513.14" cy="239.15" r="3.1" fill="#ff0000"/>
<circle cx="515.31" cy="239.50" r="3.1" fill="#ff0000"/>
<circle cx="517.48" cy="240.00" r="3.1" fill="#ff0000"/>
<circle cx="519.65" cy="240.50" r="3.1" fill="#ff0000"/>
<circle cx="521.82" cy="242.00" r="3.1" fill="#ff0000"/>
<circle cx="523.99" cy="243.00" r="3.1" fill="#ff0000"/>
<circle cx="526.15" cy="241.50" r="3.1" fill="#ff0000"/>
<circle cx="528.32" cy="240.20" r="3.1" fill="#ff0000"/>
<circle cx="530.49" cy="239.50" r="3.1" fill="#ff0000"/>
<circle cx="532.66" cy="240.50" r="3.1" fill="#ff0000"/>
<circle cx="534.83" cy="242.50" r="3.1" fill="#ff0000"/>
<circle cx="537.00" cy="243.50" r="3.1" fill="#ff0000"/>
<circle cx="322.27" cy="230.50" r="3" fill="#00ff00"/>
<circle cx="324.44" cy="231.20" r="3" fill="#00ff00"/>
<circle cx="326.61" cy="231.97" r="3" fill="#00ff00"/>
<circle cx="328.78" cy="232.73" r="3" fill="#00ff00"/>
<circle cx="330.95" cy="233.50" r="3" fill="#00ff00"/>
<circle cx="333.11" cy="234.20" r="3" fill="#00ff00"/>
<circle cx="335.28" cy="234.90" r="3" fill="#00ff00"/>
<circle cx="337.45" cy="235.60" r="3" fill="#00ff00"/>
<circle cx="339.62" cy="236.30" r="3" fill="#00ff00"/>
<circle cx="341.79" cy="237.00" r="3" fill="#00ff00"/>
<circle cx="343.96" cy="237.60" r="3" fill="#00ff00"/>
<circle cx="346.13" cy="238.20" r="3" fill="#00ff00"/>
<circle cx="348.30" cy="238.80" r="3" fill="#00ff00"/>
<circle cx="350.47" cy="239.40" r="3" fill="#00ff00"/>
<circle cx="352.64" cy="240.00" r="3" fill="#00ff00"/>
<circle cx="354.80" cy="240.50" r="3" fill="#00ff00"/>
<circle cx="356.97" cy="241.00" r="3" fill="#00ff00"/>
<circle cx="359.14" cy="241.50" r="3" fill="#00ff00"/>
<circle cx="361.31" cy="242.00" r="3" fill="#00ff00"/>
<circle cx="363.48" cy="242.50" r="3" fill="#00ff00"/>
<circle cx="365.65" cy="242.90" r="3" fill="#00ff00"/>
<circle cx="367.82" cy="243.30" r="3" fill="#00ff00"/>
<circle cx="369.99" cy="243.70" r="3" fill="#00ff00"/>
<circle cx="372.16" cy="244.10" r="3" fill="#00ff00"/>
<circle cx="374.33" cy="244.50" r="3" fill="#00ff00"/>
<circle cx="376.49" cy="244.86" r="3" fill="#00ff00"/>
<circle cx="378.66" cy="245.22" r="3" fill="#00ff00"/>
<circle cx="380.83" cy="245.58" r="3" fill="#00ff00"/>
<circle cx="383.00" cy="245.94" r="3" fill="#00ff00"/>
<circle cx="385.17" cy="246.30" r="3" fill="#00ff00"/>
<circle cx="387.34" cy="246.64" r="3" fill="#00ff00"/>
<circle cx="389.51" cy="246.98" r="3" fill="#00ff00"/>
<circle cx="391.68" cy="247.32" r="3" fill="#00ff00"/>
<circle cx="393.85" cy="247.66" r="3" fill="#00ff00"/>
<circle cx="396.02" cy="248.00" r="3" fill="#00ff00"/>
<circle cx="398.18" cy="248.28" r="3" fill="#00ff00"/>
<circle cx="400.35" cy="248.56" r="3" fill="#00ff00"/>
<circle cx="402.52" cy="248.84" r="3" fill="#00ff00"/>
<circle cx="404.69" cy="249.12" r="3" fill="#00ff00"/>
<circle cx="406.86" cy="249.40" r="3" fill="#00ff00"/>
<rect x="309.8" y="187.4" width="227.40" height="136.40" fill="none" stroke="#000" stroke-width="1.6" stroke-linejoin="round"/>
<line x1="309.80" y1="191.70" x2="312.30" y2="191.70" stroke="#000" stroke-width="1.3"/>
<line x1="309.80" y1="213.90" x2="312.30" y2="213.90" stroke="#000" stroke-width="1.3"/>
<line x1="309.80" y1="236.10" x2="312.30" y2="236.10" stroke="#000" stroke-width="1.3"/>
<line x1="309.80" y1="202.80" x2="311.50" y2="202.80" stroke="#000" stroke-width="1.2"/>
<line x1="309.80" y1="225.00" x2="311.50" y2="225.00" stroke="#000" stroke-width="1.2"/>
<line x1="309.80" y1="247.20" x2="311.50" y2="247.20" stroke="#000" stroke-width="1.2"/>
<line x1="320.10" y1="323.80" x2="320.10" y2="321.30" stroke="#000" stroke-width="1.2"/>
<line x1="341.79" y1="323.80" x2="341.79" y2="322.20" stroke="#000" stroke-width="1.2"/>
<line x1="363.48" y1="323.80" x2="363.48" y2="321.30" stroke="#000" stroke-width="1.2"/>
<line x1="385.17" y1="323.80" x2="385.17" y2="322.20" stroke="#000" stroke-width="1.2"/>
<line x1="406.86" y1="323.80" x2="406.86" y2="321.30" stroke="#000" stroke-width="1.2"/>
<line x1="428.55" y1="323.80" x2="428.55" y2="322.20" stroke="#000" stroke-width="1.2"/>
<line x1="450.24" y1="323.80" x2="450.24" y2="321.30" stroke="#000" stroke-width="1.2"/>
<line x1="471.93" y1="323.80" x2="471.93" y2="322.20" stroke="#000" stroke-width="1.2"/>
<line x1="493.62" y1="323.80" x2="493.62" y2="321.30" stroke="#000" stroke-width="1.2"/>
<line x1="515.31" y1="323.80" x2="515.31" y2="322.20" stroke="#000" stroke-width="1.2"/>
<line x1="537.00" y1="323.80" x2="537.00" y2="321.30" stroke="#000" stroke-width="1.2"/>
<rect x="305.8" y="254.30" width="8" height="2.4" fill="#fff"/>
<line x1="307.10" y1="255.70" x2="312.40" y2="253.40" stroke="#000" stroke-width="1.15"/>
<line x1="307.10" y1="257.80" x2="312.40" y2="255.50" stroke="#000" stroke-width="1.15"/>
<rect x="533.2" y="254.70" width="8" height="2.4" fill="#fff"/>
<line x1="534.50" y1="256.10" x2="539.80" y2="253.80" stroke="#000" stroke-width="1.15"/>
<line x1="534.50" y1="258.20" x2="539.80" y2="255.90" stroke="#000" stroke-width="1.15"/>
<line x1="309.80" y1="290.70" x2="311.30" y2="290.70" stroke="#000" stroke-width="1.1"/>
<text x="289.79" y="194.51" font-size="9.04" font-weight="bold" fill="#000" textLength="15.08" lengthAdjust="spacingAndGlyphs" stroke="#000" stroke-width="0.25">250</text>
<text x="289.79" y="216.71" font-size="9.04" font-weight="bold" fill="#000" textLength="15.08" lengthAdjust="spacingAndGlyphs" stroke="#000" stroke-width="0.25">200</text>
<text x="289.79" y="238.91" font-size="9.04" font-weight="bold" fill="#000" textLength="15.08" lengthAdjust="spacingAndGlyphs" stroke="#000" stroke-width="0.25">150</text>
<text x="301.04" y="327.31" font-size="9.04" font-weight="bold" fill="#000" textLength="5.03" lengthAdjust="spacingAndGlyphs" stroke="#000" stroke-width="0.25">0</text>
<text x="317.60" y="335.01" font-size="8.76" font-weight="bold" fill="#000" textLength="5.02" lengthAdjust="spacingAndGlyphs" stroke="#000" stroke-width="0.25">0</text>
<text x="358.49" y="335.01" font-size="8.76" font-weight="bold" fill="#000" textLength="10.03" lengthAdjust="spacingAndGlyphs" stroke="#000" stroke-width="0.25">20</text>
<text x="401.96" y="335.01" font-size="8.76" font-weight="bold" fill="#000" textLength="10.03" lengthAdjust="spacingAndGlyphs" stroke="#000" stroke-width="0.25">40</text>
<text x="445.24" y="335.01" font-size="8.76" font-weight="bold" fill="#000" textLength="10.03" lengthAdjust="spacingAndGlyphs" stroke="#000" stroke-width="0.25">60</text>
<text x="488.65" y="335.01" font-size="8.76" font-weight="bold" fill="#000" textLength="10.03" lengthAdjust="spacingAndGlyphs" stroke="#000" stroke-width="0.25">80</text>
<text x="529.38" y="335.01" font-size="8.76" font-weight="bold" fill="#000" textLength="15.05" lengthAdjust="spacingAndGlyphs" stroke="#000" stroke-width="0.25">100</text>
<text x="390.51" y="352.66" font-size="9.33" font-weight="bold" fill="#000" textLength="62.23" lengthAdjust="spacingAndGlyphs" stroke="#000" stroke-width="0.25">Cycle number</text>
<text transform="translate(286.46,300.18) rotate(-90)" font-size="9.61" font-weight="bold" fill="#000" textLength="77.15" lengthAdjust="spacingAndGlyphs" stroke="#000" stroke-width="0.25">Capacity (mAh/g)</text>
<text x="280.84" y="183.88" font-size="13.63" font-weight="normal" fill="#000" textLength="18.92" lengthAdjust="spacingAndGlyphs" stroke="#000" stroke-width="0.45">(d)</text>
<text x="478.66" y="200.21" font-size="9.18" font-weight="bold" fill="#000" textLength="42.47" lengthAdjust="spacingAndGlyphs" stroke="#000" stroke-width="0.25">LCO SSB</text>
<text x="355.89" y="278.33" font-size="9.98" font-weight="bold" fill="#ff0000" textLength="74.25" lengthAdjust="spacingAndGlyphs" stroke="#ff0000" stroke-width="0.25">With buffer layer</text>
<text x="355.89" y="292.14" font-size="9.44" font-weight="bold" fill="#00ff00" textLength="89.95" lengthAdjust="spacingAndGlyphs" stroke="#00ff00" stroke-width="0.25">Without buffer layer</text>
<rect x="33" y="371.7" width="227.60" height="136.60" fill="none" stroke="#000" stroke-width="1.6" stroke-linejoin="round"/>
<line x1="33.00" y1="379.34" x2="35.50" y2="379.34" stroke="#000" stroke-width="1.3"/>
<line x1="33.00" y1="424.82" x2="35.50" y2="424.82" stroke="#000" stroke-width="1.3"/>
<line x1="33.00" y1="470.30" x2="35.50" y2="470.30" stroke="#000" stroke-width="1.3"/>
<line x1="37.90" y1="508.30" x2="37.90" y2="505.80" stroke="#000" stroke-width="1.3"/>
<line x1="88.45" y1="508.30" x2="88.45" y2="505.80" stroke="#000" stroke-width="1.3"/>
<line x1="139.00" y1="508.30" x2="139.00" y2="505.80" stroke="#000" stroke-width="1.3"/>
<line x1="189.55" y1="508.30" x2="189.55" y2="505.80" stroke="#000" stroke-width="1.3"/>
<line x1="240.10" y1="508.30" x2="240.10" y2="505.80" stroke="#000" stroke-width="1.3"/>
<polyline points="40.30,508.30 40.59,506.60 40.98,504.30 41.45,501.57 41.96,498.54 42.49,495.39 43.01,492.26 43.49,489.31 43.90,486.70 44.24,484.34 44.56,482.04 44.84,479.81 45.11,477.67 45.36,475.61 45.60,473.64 45.85,471.77 46.10,470.00 46.34,468.42 46.57,467.05 46.78,465.82 46.99,464.66 47.21,463.50 47.44,462.27 47.70,460.89 48.00,459.30 48.34,457.41 48.72,455.26 49.13,452.96 49.56,450.58 49.99,448.24 50.41,446.03 50.82,444.05 51.20,442.40 51.55,441.06 51.89,439.94 52.21,439.01 52.53,438.23 52.84,437.57 53.16,437.00 53.47,436.49 53.80,436.00 53.99,435.58 53.98,435.27 53.89,435.05 53.84,434.91 53.96,434.81 54.36,434.74 55.17,434.68 56.50,434.60 58.33,434.53 60.53,434.50 63.06,434.50 65.92,434.52 69.06,434.54 72.48,434.55 76.13,434.54 80.00,434.50 84.28,434.43 89.07,434.33 94.23,434.23 99.59,434.11 105.01,433.98 110.32,433.85 115.37,433.72 120.00,433.60 124.30,433.48 128.44,433.37 132.42,433.26 136.25,433.14 139.92,433.02 143.44,432.89 146.80,432.75 150.00,432.60 152.98,432.44 155.70,432.27 158.23,432.09 160.62,431.91 162.94,431.71 165.23,431.49 167.57,431.26 170.00,431.00 172.53,430.72 175.12,430.40 177.72,430.07 180.31,429.72 182.87,429.36 185.35,429.00 187.74,428.65 190.00,428.30 192.15,427.96 194.22,427.62 196.21,427.28 198.12,426.94 199.96,426.61 201.72,426.27 203.40,425.93 205.00,425.60 206.50,425.27 207.88,424.96 209.16,424.64 210.38,424.33 211.54,424.01 212.69,423.69 213.83,423.35 215.00,423.00 216.18,422.64 217.34,422.28 218.49,421.91 219.62,421.54 220.74,421.14 221.84,420.73 222.93,420.28 224.00,419.80 225.05,419.28 226.09,418.74 227.12,418.16 228.12,417.56 229.12,416.94 230.09,416.31 231.05,415.66 232.00,415.00 232.93,414.33 233.84,413.64 234.74,412.94 235.62,412.22 236.49,411.48 237.34,410.74 238.18,409.97 239.00,409.20 239.80,408.41 240.58,407.61 241.35,406.79 242.09,405.96 242.83,405.11 243.56,404.25 244.28,403.38 245.00,402.50 245.71,401.60 246.42,400.69 247.12,399.77 247.81,398.83 248.50,397.88 249.17,396.93 249.84,395.97 250.50,395.00 251.15,394.02 251.79,393.02 252.42,392.01 253.04,391.00 253.66,389.99 254.28,388.98 254.89,387.98 255.50,387.00 256.14,385.99 256.83,384.91 257.53,383.82 258.21,382.75 258.86,381.74 259.44,380.84 259.93,380.08 260.30,379.50" fill="none" stroke="#000" stroke-width="1.75" stroke-linejoin="round" stroke-linecap="round"/>
<polyline points="39.00,435.40 40.17,435.39 41.66,435.37 43.43,435.34 45.44,435.32 47.64,435.29 49.99,435.26 52.46,435.23 55.00,435.20 57.73,435.17 60.73,435.13 63.94,435.09 67.25,435.06 70.60,435.02 73.89,434.98 77.05,434.94 80.00,434.90 82.74,434.86 85.35,434.83 87.87,434.80 90.31,434.77 92.72,434.73 95.12,434.70 97.53,434.65 100.00,434.60 102.50,434.54 105.00,434.48 107.50,434.41 110.00,434.34 112.50,434.26 115.00,434.18 117.50,434.09 120.00,434.00 122.57,433.90 125.23,433.79 127.94,433.67 130.62,433.55 133.23,433.43 135.70,433.31 137.98,433.20 140.00,433.10 141.69,433.02 143.09,432.96 144.26,432.92 145.31,432.88 146.32,432.82 147.38,432.75 148.58,432.64 150.00,432.50 151.64,432.32 153.42,432.10 155.30,431.86 157.24,431.60 159.22,431.32 161.20,431.02 163.13,430.72 165.00,430.40 166.87,430.07 168.80,429.73 170.76,429.38 172.68,429.01 174.53,428.63 176.24,428.23 177.78,427.82 179.10,427.40 180.17,426.95 181.01,426.46 181.69,425.94 182.24,425.42 182.70,424.90 183.12,424.40 183.54,423.93 184.00,423.50 184.47,423.13 184.91,422.81 185.30,422.53 185.67,422.26 186.03,421.99 186.38,421.70 186.73,421.37 187.10,421.00 187.48,420.59 187.86,420.16 188.23,419.71 188.61,419.23 188.97,418.73 189.33,418.19 189.67,417.62 190.00,417.00 190.31,416.33 190.62,415.60 190.91,414.82 191.19,414.01 191.46,413.19 191.72,412.37 191.97,411.57 192.20,410.80 192.41,410.08 192.61,409.42 192.78,408.78 192.95,408.14 193.11,407.47 193.27,406.74 193.43,405.92 193.60,405.00 193.77,403.99 193.94,402.92 194.11,401.80 194.28,400.61 194.45,399.34 194.62,397.99 194.81,396.54 195.00,395.00 195.22,393.22 195.46,391.15 195.72,388.91 195.99,386.62 196.24,384.42 196.47,382.41 196.66,380.73 196.80,379.50" fill="none" stroke="#ff0000" stroke-width="1.75" stroke-linejoin="round" stroke-linecap="round"/>
<polyline points="39.00,434.80 40.17,434.79 41.66,434.77 43.43,434.74 45.44,434.72 47.64,434.69 49.99,434.66 52.46,434.63 55.00,434.60 57.73,434.57 60.73,434.53 63.94,434.49 67.25,434.46 70.60,434.42 73.89,434.38 77.05,434.34 80.00,434.30 82.74,434.26 85.35,434.23 87.87,434.20 90.31,434.17 92.72,434.13 95.12,434.10 97.53,434.05 100.00,434.00 102.50,433.94 105.00,433.88 107.50,433.81 110.00,433.74 112.50,433.66 115.00,433.58 117.50,433.49 120.00,433.40 122.57,433.30 125.23,433.19 127.94,433.07 130.62,432.95 133.23,432.83 135.70,432.71 137.98,432.60 140.00,432.50 141.69,432.42 143.09,432.36 144.26,432.32 145.31,432.27 146.32,432.22 147.38,432.15 148.58,432.04 150.00,431.90 151.64,431.72 153.42,431.50 155.30,431.26 157.24,431.00 159.22,430.72 161.20,430.42 163.13,430.12 165.00,429.80 166.85,429.46 168.76,429.09 170.67,428.70 172.56,428.29 174.38,427.89 176.10,427.50 177.69,427.13 179.10,426.80 180.33,426.50 181.40,426.23 182.34,425.99 183.18,425.75 183.94,425.52 184.65,425.29 185.33,425.05 186.00,424.80 186.64,424.54 187.22,424.30 187.73,424.05 188.21,423.80 188.66,423.54 189.10,423.25 189.54,422.94 190.00,422.60 190.46,422.24 190.92,421.88 191.37,421.50 191.81,421.10 192.25,420.66 192.67,420.17 193.09,419.62 193.50,419.00 193.91,418.30 194.31,417.54 194.71,416.71 195.09,415.84 195.47,414.92 195.83,413.97 196.18,412.99 196.50,412.00 196.80,411.00 197.07,409.98 197.32,408.95 197.56,407.88 197.79,406.76 198.02,405.58 198.26,404.33 198.50,403.00 198.75,401.55 199.01,399.97 199.28,398.31 199.54,396.59 199.79,394.87 200.04,393.17 200.28,391.53 200.50,390.00 200.71,388.50 200.93,386.95 201.13,385.42 201.32,383.94 201.50,382.56 201.66,381.33 201.80,380.29 201.90,379.50" fill="none" stroke="#00ff00" stroke-width="1.75" stroke-linejoin="round" stroke-linecap="round"/>
<polyline points="39.00,434.20 40.17,434.19 41.66,434.17 43.43,434.14 45.44,434.12 47.64,434.09 49.99,434.06 52.46,434.03 55.00,434.00 57.73,433.97 60.73,433.93 63.94,433.89 67.25,433.86 70.60,433.82 73.89,433.78 77.05,433.74 80.00,433.70 82.74,433.66 85.35,433.63 87.87,433.60 90.31,433.57 92.72,433.53 95.12,433.50 97.53,433.45 100.00,433.40 102.50,433.34 105.00,433.28 107.50,433.21 110.00,433.14 112.50,433.06 115.00,432.98 117.50,432.89 120.00,432.80 122.57,432.70 125.23,432.59 127.94,432.47 130.62,432.35 133.23,432.23 135.70,432.11 137.98,432.00 140.00,431.90 141.69,431.82 143.09,431.76 144.26,431.72 145.31,431.67 146.32,431.62 147.38,431.55 148.58,431.44 150.00,431.30 151.64,431.12 153.42,430.90 155.30,430.66 157.24,430.40 159.22,430.12 161.20,429.82 163.13,429.52 165.00,429.20 166.85,428.86 168.76,428.48 170.67,428.07 172.56,427.66 174.38,427.25 176.10,426.86 177.69,426.50 179.10,426.20 180.33,425.95 181.41,425.74 182.36,425.56 183.21,425.41 183.98,425.26 184.68,425.12 185.35,424.97 186.00,424.80 186.61,424.62 187.13,424.44 187.60,424.26 188.01,424.08 188.40,423.89 188.76,423.70 189.12,423.50 189.50,423.30 189.88,423.11 190.23,422.93 190.58,422.77 190.91,422.59 191.23,422.39 191.55,422.15 191.87,421.86 192.20,421.50 192.54,421.10 192.88,420.67 193.22,420.21 193.56,419.70 193.90,419.14 194.22,418.50 194.52,417.80 194.80,417.00 195.06,416.12 195.29,415.16 195.51,414.13 195.72,413.03 195.92,411.87 196.11,410.64 196.30,409.35 196.50,408.00 196.70,406.58 196.89,405.09 197.08,403.53 197.26,401.91 197.45,400.23 197.63,398.52 197.81,396.77 198.00,395.00 198.20,393.08 198.41,390.94 198.63,388.69 198.84,386.44 199.05,384.29 199.23,382.34 199.38,380.71 199.50,379.50" fill="none" stroke="#0000ff" stroke-width="1.75" stroke-linejoin="round" stroke-linecap="round"/>
<polyline points="39.00,434.80 40.17,434.79 41.66,434.77 43.43,434.74 45.44,434.72 47.64,434.69 49.99,434.66 52.46,434.63 55.00,434.60 57.73,434.57 60.73,434.53 63.94,434.49 67.25,434.46 70.60,434.42 73.89,434.38 77.05,434.34 80.00,434.30 82.74,434.26 85.35,434.23 87.87,434.20 90.31,434.17 92.72,434.13 95.12,434.10 97.53,434.05 100.00,434.00 102.50,433.94 105.00,433.88 107.50,433.81 110.00,433.74 112.50,433.66 115.00,433.58 117.50,433.49 120.00,433.40 122.57,433.30 125.23,433.19 127.94,433.07 130.62,432.95 133.23,432.83 135.70,432.71 137.98,432.60 140.00,432.50 141.69,432.42 143.09,432.36 144.26,432.32 145.31,432.27 146.32,432.22 147.38,432.15 148.58,432.04 150.00,431.90 151.64,431.72 153.42,431.50 155.30,431.26 157.24,431.00 159.22,430.72 161.20,430.42 163.13,430.12 165.00,429.80 166.85,429.46 168.73,429.07 170.63,428.66 172.49,428.24 174.31,427.83 176.03,427.44 177.64,427.10 179.10,426.80 180.41,426.56 181.60,426.38 182.69,426.22 183.68,426.09 184.60,425.98 185.44,425.86 186.24,425.74 187.00,425.60 187.70,425.44 188.31,425.28 188.85,425.12 189.33,424.96 189.77,424.79 190.19,424.63 190.59,424.46 191.00,424.30 191.39,424.16 191.74,424.05 192.06,423.95 192.37,423.85 192.66,423.72 192.96,423.55 193.27,423.32 193.60,423.00 193.95,422.60 194.32,422.15 194.71,421.63 195.09,421.07 195.47,420.47 195.83,419.84 196.18,419.18 196.50,418.50 196.79,417.81 197.06,417.10 197.32,416.36 197.56,415.59 197.79,414.78 198.02,413.92 198.26,412.99 198.50,412.00 198.75,410.92 199.01,409.75 199.27,408.51 199.53,407.22 199.79,405.90 200.04,404.58 200.27,403.27 200.50,402.00 200.71,400.77 200.91,399.56 201.10,398.36 201.29,397.16 201.47,395.93 201.64,394.68 201.82,393.37 202.00,392.00 202.19,390.47 202.39,388.76 202.59,386.95 202.79,385.12 202.98,383.38 203.15,381.80 203.29,380.48 203.40,379.50" fill="none" stroke="#ff00ff" stroke-width="1.75" stroke-linejoin="round" stroke-linecap="round"/>
<polyline points="39.00,434.80 40.17,434.79 41.66,434.77 43.43,434.74 45.44,434.72 47.64,434.69 49.99,434.66 52.46,434.63 55.00,434.60 57.73,434.57 60.73,434.53 63.94,434.49 67.25,434.46 70.60,434.42 73.89,434.38 77.05,434.34 80.00,434.30 82.74,434.26 85.35,434.23 87.87,434.20 90.31,434.17 92.72,434.13 95.12,434.10 97.53,434.05 100.00,434.00 102.50,433.94 105.00,433.88 107.50,433.81 110.00,433.74 112.50,433.66 115.00,433.58 117.50,433.49 120.00,433.40 122.57,433.30 125.23,433.19 127.94,433.07 130.62,432.95 133.23,432.83 135.70,432.71 137.98,432.60 140.00,432.50 141.69,432.42 143.09,432.36 144.26,432.32 145.31,432.27 146.32,432.22 147.38,432.15 148.58,432.04 150.00,431.90 151.64,431.72 153.42,431.50 155.30,431.26 157.24,431.00 159.22,430.72 161.20,430.42 163.13,430.12 165.00,429.80 166.85,429.46 168.73,429.08 170.63,428.67 172.49,428.26 174.31,427.85 176.03,427.46 177.64,427.10 179.10,426.80 180.41,426.55 181.60,426.34 182.69,426.16 183.68,426.00 184.60,425.85 185.44,425.71 186.24,425.56 187.00,425.40 187.70,425.23 188.31,425.05 188.85,424.88 189.33,424.71 189.77,424.53 190.19,424.36 190.59,424.18 191.00,424.00 191.39,423.84 191.75,423.70 192.07,423.58 192.38,423.44 192.68,423.29 192.98,423.09 193.28,422.83 193.60,422.50 193.94,422.09 194.28,421.63 194.64,421.12 194.99,420.56 195.33,419.97 195.67,419.34 196.00,418.68 196.30,418.00 196.58,417.31 196.85,416.60 197.10,415.86 197.34,415.09 197.58,414.28 197.82,413.42 198.05,412.49 198.30,411.50 198.55,410.42 198.81,409.26 199.07,408.03 199.33,406.75 199.59,405.44 199.84,404.12 200.07,402.80 200.30,401.50 200.51,400.22 200.72,398.93 200.91,397.64 201.10,396.34 201.28,395.03 201.46,393.71 201.63,392.36 201.80,391.00 201.97,389.53 202.15,387.93 202.32,386.26 202.49,384.59 202.65,383.01 202.79,381.59 202.91,380.39 203.00,379.50" fill="none" stroke="#800000" stroke-width="1.75" stroke-linejoin="round" stroke-linecap="round"/>
<polyline points="41.00,441.80 42.32,441.80 43.92,441.81 45.81,441.81 48.00,441.82 50.50,441.83 53.33,441.84 56.49,441.87 60.00,441.90 64.00,441.94 68.52,441.97 73.46,442.01 78.69,442.06 84.08,442.12 89.51,442.20 94.86,442.29 100.00,442.40 105.19,442.54 110.66,442.71 116.23,442.91 121.75,443.11 127.05,443.32 131.97,443.53 136.34,443.72 140.00,443.90 142.83,444.05 144.94,444.19 146.49,444.32 147.66,444.45 148.63,444.58 149.56,444.71 150.62,444.85 152.00,445.00 153.66,445.17 155.45,445.35 157.29,445.53 159.13,445.73 160.92,445.92 162.60,446.12 164.11,446.31 165.40,446.50 166.43,446.68 167.26,446.86 167.92,447.03 168.47,447.20 168.95,447.38 169.42,447.57 169.92,447.77 170.50,448.00 171.14,448.24 171.80,448.50 172.45,448.76 173.11,449.04 173.75,449.34 174.39,449.64 175.01,449.96 175.60,450.30 176.17,450.65 176.73,451.01 177.27,451.38 177.80,451.77 178.32,452.17 178.82,452.59 179.31,453.04 179.80,453.50 180.26,453.98 180.70,454.49 181.11,455.01 181.52,455.55 181.93,456.11 182.36,456.69 182.81,457.28 183.30,457.90 183.83,458.54 184.39,459.20 184.98,459.88 185.58,460.58 186.19,461.30 186.80,462.02 187.41,462.76 188.00,463.50 188.61,464.30 189.26,465.17 189.93,466.09 190.59,467.00 191.22,467.87 191.78,468.65 192.25,469.31 192.60,469.80" fill="none" stroke="#000" stroke-width="1.75" stroke-linejoin="round" stroke-linecap="round"/>
<polyline points="37.60,418.40 37.64,419.29 37.69,420.48 37.74,421.89 37.81,423.46 37.88,425.13 37.95,426.81 38.03,428.46 38.10,430.00 38.17,431.54 38.22,433.20 38.27,434.91 38.33,436.60 38.40,438.20 38.50,439.65 38.62,440.87 38.78,441.80 38.87,442.40 38.83,442.71 38.76,442.79 38.75,442.73 38.87,442.57 39.23,442.38 39.91,442.24 41.00,442.20 42.43,442.23 44.08,442.25 45.97,442.27 48.14,442.29 50.60,442.30 53.38,442.33 56.51,442.36 60.00,442.40 64.00,442.45 68.52,442.50 73.46,442.56 78.69,442.62 84.08,442.69 89.51,442.78 94.86,442.88 100.00,443.00 105.19,443.15 110.66,443.32 116.23,443.51 121.75,443.72 127.05,443.93 131.97,444.13 136.34,444.33 140.00,444.50 142.83,444.65 144.94,444.79 146.49,444.92 147.66,445.05 148.63,445.18 149.56,445.31 150.62,445.45 152.00,445.60 153.65,445.77 155.41,445.95 157.22,446.15 159.04,446.34 160.81,446.54 162.50,446.74 164.04,446.92 165.40,447.10 166.55,447.25 167.54,447.39 168.39,447.51 169.15,447.63 169.85,447.76 170.54,447.91 171.24,448.09 172.00,448.30 172.80,448.55 173.61,448.83 174.42,449.13 175.21,449.45 176.00,449.79 176.76,450.15 177.49,450.52 178.20,450.90 178.87,451.29 179.51,451.70 180.13,452.13 180.73,452.57 181.31,453.03 181.88,453.50 182.44,453.99 183.00,454.50 183.55,455.03 184.08,455.59 184.60,456.16 185.11,456.76 185.61,457.36 186.11,457.97 186.60,458.59 187.10,459.20 187.60,459.82 188.09,460.44 188.58,461.07 189.06,461.70 189.55,462.34 190.03,462.99 190.51,463.64 191.00,464.30 191.51,465.01 192.07,465.78 192.63,466.57 193.19,467.37 193.72,468.12 194.20,468.80 194.60,469.37 194.90,469.80" fill="none" stroke="#ff0000" stroke-width="1.75" stroke-linejoin="round" stroke-linecap="round"/>
<polyline points="37.60,418.40 37.64,419.30 37.69,420.49 37.75,421.92 37.82,423.50 37.89,425.17 37.96,426.86 38.03,428.49 38.10,430.00 38.15,431.49 38.18,433.08 38.20,434.70 38.23,436.30 38.27,437.81 38.34,439.17 38.45,440.32 38.60,441.20 38.70,441.77 38.68,442.06 38.63,442.15 38.64,442.09 38.80,441.94 39.19,441.77 39.89,441.63 41.00,441.60 42.44,441.63 44.09,441.65 45.99,441.67 48.15,441.69 50.61,441.70 53.38,441.73 56.51,441.76 60.00,441.80 64.00,441.85 68.52,441.90 73.46,441.96 78.69,442.02 84.08,442.09 89.51,442.18 94.86,442.28 100.00,442.40 105.19,442.55 110.66,442.72 116.23,442.91 121.75,443.12 127.05,443.33 131.97,443.53 136.34,443.73 140.00,443.90 142.83,444.05 144.94,444.19 146.49,444.32 147.66,444.45 148.63,444.58 149.56,444.71 150.62,444.85 152.00,445.00 153.64,445.17 155.36,445.35 157.13,445.53 158.91,445.73 160.67,445.92 162.35,446.12 163.95,446.31 165.40,446.50 166.71,446.69 167.90,446.87 169.00,447.05 170.04,447.23 171.03,447.42 172.00,447.60 172.99,447.80 174.00,448.00 175.05,448.20 176.11,448.41 177.18,448.61 178.22,448.83 179.25,449.05 180.22,449.28 181.15,449.53 182.00,449.80 182.78,450.09 183.49,450.39 184.14,450.71 184.76,451.04 185.34,451.39 185.90,451.75 186.45,452.12 187.00,452.50 187.53,452.88 188.01,453.25 188.47,453.62 188.91,454.01 189.36,454.43 189.83,454.90 190.34,455.41 190.90,456.00 191.52,456.66 192.19,457.40 192.90,458.18 193.63,459.01 194.36,459.87 195.10,460.75 195.81,461.63 196.50,462.50 197.20,463.42 197.93,464.44 198.67,465.50 199.40,466.56 200.08,467.56 200.70,468.47 201.21,469.23 201.60,469.80" fill="none" stroke="#00ff00" stroke-width="1.75" stroke-linejoin="round" stroke-linecap="round"/>
<polyline points="37.60,418.40 37.64,419.30 37.69,420.51 37.76,421.94 37.83,423.54 37.90,425.21 37.98,426.90 38.04,428.52 38.10,430.00 38.13,431.44 38.14,432.96 38.13,434.50 38.13,436.00 38.14,437.42 38.19,438.69 38.27,439.77 38.42,440.60 38.52,441.14 38.52,441.42 38.50,441.51 38.54,441.45 38.73,441.31 39.15,441.15 39.88,441.03 41.00,441.00 42.45,441.03 44.10,441.05 46.00,441.07 48.16,441.09 50.62,441.10 53.39,441.13 56.51,441.16 60.00,441.20 64.00,441.25 68.52,441.30 73.46,441.36 78.69,441.42 84.08,441.49 89.51,441.58 94.86,441.68 100.00,441.80 105.19,441.95 110.66,442.12 116.23,442.31 121.75,442.52 127.05,442.73 131.97,442.93 136.34,443.13 140.00,443.30 142.83,443.45 144.94,443.59 146.49,443.72 147.66,443.85 148.63,443.98 149.56,444.11 150.62,444.25 152.00,444.40 153.64,444.56 155.36,444.73 157.13,444.91 158.91,445.09 160.67,445.28 162.35,445.47 163.95,445.68 165.40,445.90 166.71,446.14 167.90,446.39 169.00,446.66 170.04,446.93 171.03,447.21 172.00,447.48 172.99,447.75 174.00,448.00 175.05,448.23 176.11,448.45 177.18,448.66 178.22,448.86 179.25,449.07 180.22,449.29 181.15,449.53 182.00,449.80 182.78,450.09 183.49,450.39 184.14,450.71 184.76,451.04 185.34,451.39 185.90,451.75 186.45,452.12 187.00,452.50 187.53,452.88 188.01,453.25 188.47,453.62 188.91,454.01 189.36,454.43 189.83,454.90 190.34,455.41 190.90,456.00 191.52,456.66 192.19,457.40 192.90,458.18 193.63,459.01 194.36,459.87 195.10,460.75 195.81,461.63 196.50,462.50 197.20,463.42 197.93,464.44 198.67,465.50 199.40,466.56 200.08,467.56 200.70,468.47 201.21,469.23 201.60,469.80" fill="none" stroke="#0000ff" stroke-width="1.75" stroke-linejoin="round" stroke-linecap="round"/>
<polyline points="37.60,418.40 37.64,419.30 37.69,420.49 37.75,421.92 37.82,423.50 37.89,425.17 37.96,426.86 38.03,428.49 38.10,430.00 38.15,431.49 38.18,433.08 38.20,434.70 38.23,436.30 38.27,437.81 38.34,439.17 38.45,440.32 38.60,441.20 38.70,441.77 38.68,442.06 38.63,442.15 38.64,442.09 38.80,441.94 39.19,441.77 39.89,441.63 41.00,441.60 42.44,441.63 44.09,441.65 45.99,441.67 48.15,441.69 50.61,441.70 53.38,441.73 56.51,441.76 60.00,441.80 64.00,441.85 68.52,441.90 73.46,441.96 78.69,442.02 84.08,442.09 89.51,442.18 94.86,442.28 100.00,442.40 105.19,442.55 110.66,442.72 116.23,442.91 121.75,443.12 127.05,443.33 131.97,443.53 136.34,443.73 140.00,443.90 142.83,444.05 144.94,444.19 146.49,444.32 147.66,444.45 148.63,444.58 149.56,444.71 150.62,444.85 152.00,445.00 153.64,445.17 155.36,445.35 157.13,445.54 158.91,445.74 160.67,445.93 162.35,446.13 163.95,446.32 165.40,446.50 166.71,446.67 167.90,446.83 169.00,446.99 170.04,447.14 171.03,447.30 172.00,447.46 172.99,447.62 174.00,447.80 175.05,447.98 176.11,448.16 177.18,448.33 178.22,448.52 179.25,448.71 180.22,448.92 181.15,449.15 182.00,449.40 182.78,449.67 183.48,449.96 184.14,450.26 184.75,450.57 185.33,450.91 185.89,451.26 186.44,451.62 187.00,452.00 187.54,452.38 188.03,452.76 188.50,453.14 188.96,453.54 189.42,453.98 189.90,454.46 190.43,454.99 191.00,455.60 191.63,456.28 192.32,457.04 193.03,457.85 193.78,458.71 194.52,459.59 195.27,460.50 196.00,461.40 196.70,462.30 197.41,463.25 198.16,464.29 198.92,465.38 199.66,466.47 200.35,467.50 200.98,468.43 201.50,469.22 201.90,469.80" fill="none" stroke="#ff00ff" stroke-width="1.75" stroke-linejoin="round" stroke-linecap="round"/>
<polyline points="37.60,418.40 37.64,419.30 37.69,420.49 37.75,421.92 37.82,423.50 37.89,425.17 37.96,426.86 38.03,428.49 38.10,430.00 38.15,431.49 38.18,433.08 38.20,434.70 38.23,436.30 38.27,437.81 38.34,439.17 38.45,440.32 38.60,441.20 38.70,441.77 38.68,442.06 38.63,442.15 38.64,442.09 38.80,441.94 39.19,441.77 39.89,441.63 41.00,441.60 42.44,441.63 44.09,441.65 45.99,441.67 48.15,441.69 50.61,441.70 53.38,441.73 56.51,441.76 60.00,441.80 64.00,441.85 68.52,441.90 73.46,441.96 78.69,442.02 84.08,442.09 89.51,442.18 94.86,442.28 100.00,442.40 105.19,442.55 110.66,442.72 116.23,442.91 121.75,443.12 127.05,443.33 131.97,443.53 136.34,443.73 140.00,443.90 142.83,444.05 144.94,444.19 146.49,444.32 147.66,444.45 148.63,444.58 149.56,444.71 150.62,444.85 152.00,445.00 153.64,445.17 155.36,445.35 157.13,445.54 158.91,445.73 160.67,445.93 162.35,446.12 163.95,446.31 165.40,446.50 166.71,446.68 167.90,446.85 169.00,447.02 170.04,447.19 171.03,447.36 172.00,447.53 172.99,447.71 174.00,447.90 175.05,448.09 176.11,448.28 177.18,448.47 178.22,448.67 179.25,448.88 180.22,449.10 181.15,449.34 182.00,449.60 182.78,449.88 183.49,450.19 184.14,450.50 184.76,450.84 185.34,451.18 185.90,451.55 186.45,451.92 187.00,452.30 187.53,452.68 188.01,453.04 188.47,453.41 188.91,453.80 189.36,454.22 189.83,454.68 190.34,455.20 190.90,455.80 191.52,456.48 192.19,457.24 192.90,458.05 193.63,458.91 194.37,459.80 195.10,460.71 195.82,461.61 196.50,462.50 197.19,463.43 197.91,464.45 198.64,465.51 199.35,466.57 200.02,467.57 200.62,468.47 201.12,469.23 201.50,469.80" fill="none" stroke="#800000" stroke-width="1.75" stroke-linejoin="round" stroke-linecap="round"/>
<line x1="215.00" y1="432.20" x2="234.60" y2="432.20" stroke="#000" stroke-width="1.8"/>
<text x="237.37" y="435.50" font-size="8.87" font-weight="bold" fill="#000" textLength="3.82" lengthAdjust="spacingAndGlyphs" stroke="#000" stroke-width="0.25">1</text>
<text x="241.89" y="431.30" font-size="5.60" font-weight="bold" fill="#000" textLength="5.28" lengthAdjust="spacingAndGlyphs" stroke="#000" stroke-width="0.25">st</text>
<line x1="215.00" y1="445.00" x2="234.60" y2="445.00" stroke="#ff0000" stroke-width="1.8"/>
<text x="237.53" y="448.21" font-size="8.74" font-weight="bold" fill="#000" textLength="4.81" lengthAdjust="spacingAndGlyphs" stroke="#000" stroke-width="0.25">5</text>
<text x="242.32" y="444.10" font-size="5.60" font-weight="bold" fill="#000" textLength="6.08" lengthAdjust="spacingAndGlyphs" stroke="#000" stroke-width="0.25">th</text>
<line x1="215.00" y1="457.80" x2="234.60" y2="457.80" stroke="#00ff00" stroke-width="1.8"/>
<text x="237.24" y="461.02" font-size="8.62" font-weight="bold" fill="#000" textLength="9.82" lengthAdjust="spacingAndGlyphs" stroke="#000" stroke-width="0.25">10</text>
<text x="246.92" y="456.90" font-size="5.60" font-weight="bold" fill="#000" textLength="6.08" lengthAdjust="spacingAndGlyphs" stroke="#000" stroke-width="0.25">th</text>
<line x1="215.00" y1="470.60" x2="234.60" y2="470.60" stroke="#0000ff" stroke-width="1.8"/>
<text x="237.25" y="473.81" font-size="8.74" font-weight="bold" fill="#000" textLength="9.69" lengthAdjust="spacingAndGlyphs" stroke="#000" stroke-width="0.25">15</text>
<text x="246.92" y="469.70" font-size="5.60" font-weight="bold" fill="#000" textLength="6.08" lengthAdjust="spacingAndGlyphs" stroke="#000" stroke-width="0.25">th</text>
<line x1="215.00" y1="483.40" x2="234.60" y2="483.40" stroke="#ff00ff" stroke-width="1.8"/>
<text x="237.50" y="486.62" font-size="8.62" font-weight="bold" fill="#000" textLength="9.55" lengthAdjust="spacingAndGlyphs" stroke="#000" stroke-width="0.25">20</text>
<text x="246.92" y="482.50" font-size="5.60" font-weight="bold" fill="#000" textLength="6.08" lengthAdjust="spacingAndGlyphs" stroke="#000" stroke-width="0.25">th</text>
<line x1="215.00" y1="496.20" x2="234.60" y2="496.20" stroke="#800000" stroke-width="1.8"/>
<text x="237.51" y="499.42" font-size="8.62" font-weight="bold" fill="#000" textLength="9.43" lengthAdjust="spacingAndGlyphs" stroke="#000" stroke-width="0.25">25</text>
<text x="246.92" y="495.30" font-size="5.60" font-weight="bold" fill="#000" textLength="6.08" lengthAdjust="spacingAndGlyphs" stroke="#000" stroke-width="0.25">th</text>
<text x="17.41" y="382.30" font-size="8.88" font-weight="bold" fill="#000" textLength="12.34" lengthAdjust="spacingAndGlyphs" stroke="#000" stroke-width="0.25">4.2</text>
<text x="17.57" y="427.80" font-size="8.74" font-weight="bold" fill="#000" textLength="12.15" lengthAdjust="spacingAndGlyphs" stroke="#000" stroke-width="0.25">3.6</text>
<text x="17.61" y="473.20" font-size="8.74" font-weight="bold" fill="#000" textLength="12.15" lengthAdjust="spacingAndGlyphs" stroke="#000" stroke-width="0.25">3.0</text>
<text x="35.40" y="519.21" font-size="8.76" font-weight="bold" fill="#000" textLength="5.02" lengthAdjust="spacingAndGlyphs" stroke="#000" stroke-width="0.25">0</text>
<text x="83.48" y="519.21" font-size="8.76" font-weight="bold" fill="#000" textLength="10.03" lengthAdjust="spacingAndGlyphs" stroke="#000" stroke-width="0.25">50</text>
<text x="131.38" y="519.21" font-size="8.76" font-weight="bold" fill="#000" textLength="15.05" lengthAdjust="spacingAndGlyphs" stroke="#000" stroke-width="0.25">100</text>
<text x="181.93" y="519.21" font-size="8.76" font-weight="bold" fill="#000" textLength="15.05" lengthAdjust="spacingAndGlyphs" stroke="#000" stroke-width="0.25">150</text>
<text x="232.60" y="519.21" font-size="8.76" font-weight="bold" fill="#000" textLength="15.05" lengthAdjust="spacingAndGlyphs" stroke="#000" stroke-width="0.25">200</text>
<text x="105.72" y="528.88" font-size="9.08" font-weight="bold" fill="#000" textLength="81.85" lengthAdjust="spacingAndGlyphs" stroke="#000" stroke-width="0.25">Capacity (mAh / g)</text>
<text transform="translate(9.44,470.46) rotate(-90)" font-size="9.72" font-weight="bold" fill="#000" textLength="47.92" lengthAdjust="spacingAndGlyphs" stroke="#000" stroke-width="0.25">Voltage (V)</text>
<text x="12.99" y="360.37" font-size="14.17" font-weight="normal" fill="#000" textLength="18.03" lengthAdjust="spacingAndGlyphs" stroke="#000" stroke-width="0.45">(e)</text>
<text x="44.08" y="385.72" font-size="8.47" font-weight="bold" fill="#000" textLength="39.35" lengthAdjust="spacingAndGlyphs" stroke="#000" stroke-width="0.25">LFP SSB</text>
<rect x="324.27" y="405.50" width="4.4" height="4.4" fill="#000"/>
<rect x="326.46" y="405.25" width="4.4" height="4.4" fill="#000"/>
<rect x="328.65" y="405.60" width="4.4" height="4.4" fill="#000"/>
<rect x="330.83" y="404.83" width="4.4" height="4.4" fill="#000"/>
<rect x="333.02" y="404.67" width="4.4" height="4.4" fill="#000"/>
<rect x="335.21" y="405.10" width="4.4" height="4.4" fill="#000"/>
<rect x="337.39" y="404.80" width="4.4" height="4.4" fill="#000"/>
<rect x="339.58" y="405.10" width="4.4" height="4.4" fill="#000"/>
<rect x="341.77" y="405.20" width="4.4" height="4.4" fill="#000"/>
<rect x="343.95" y="404.10" width="4.4" height="4.4" fill="#000"/>
<rect x="346.14" y="404.45" width="4.4" height="4.4" fill="#000"/>
<rect x="348.32" y="405.40" width="4.4" height="4.4" fill="#000"/>
<rect x="350.51" y="404.35" width="4.4" height="4.4" fill="#000"/>
<rect x="352.70" y="403.90" width="4.4" height="4.4" fill="#000"/>
<rect x="354.88" y="404.90" width="4.4" height="4.4" fill="#000"/>
<rect x="357.07" y="404.70" width="4.4" height="4.4" fill="#000"/>
<rect x="359.26" y="404.25" width="4.4" height="4.4" fill="#000"/>
<rect x="361.44" y="404.40" width="4.4" height="4.4" fill="#000"/>
<rect x="363.63" y="404.10" width="4.4" height="4.4" fill="#000"/>
<rect x="365.82" y="404.40" width="4.4" height="4.4" fill="#000"/>
<rect x="368.00" y="404.65" width="4.4" height="4.4" fill="#000"/>
<rect x="370.19" y="403.70" width="4.4" height="4.4" fill="#000"/>
<rect x="372.38" y="404.10" width="4.4" height="4.4" fill="#000"/>
<rect x="374.56" y="405.10" width="4.4" height="4.4" fill="#000"/>
<rect x="376.75" y="404.25" width="4.4" height="4.4" fill="#000"/>
<rect x="378.94" y="404.00" width="4.4" height="4.4" fill="#000"/>
<rect x="381.12" y="405.05" width="4.4" height="4.4" fill="#000"/>
<rect x="383.31" y="404.90" width="4.4" height="4.4" fill="#000"/>
<rect x="385.50" y="405.20" width="4.4" height="4.4" fill="#000"/>
<rect x="387.68" y="406.10" width="4.4" height="4.4" fill="#000"/>
<rect x="389.87" y="405.40" width="4.4" height="4.4" fill="#000"/>
<rect x="392.05" y="405.30" width="4.4" height="4.4" fill="#000"/>
<rect x="394.24" y="405.60" width="4.4" height="4.4" fill="#000"/>
<rect x="396.43" y="404.70" width="4.4" height="4.4" fill="#000"/>
<rect x="398.61" y="405.00" width="4.4" height="4.4" fill="#000"/>
<rect x="400.80" y="405.90" width="4.4" height="4.4" fill="#000"/>
<rect x="402.99" y="405.00" width="4.4" height="4.4" fill="#000"/>
<rect x="405.17" y="404.70" width="4.4" height="4.4" fill="#000"/>
<rect x="407.36" y="405.40" width="4.4" height="4.4" fill="#000"/>
<rect x="409.55" y="404.90" width="4.4" height="4.4" fill="#000"/>
<rect x="411.73" y="405.07" width="4.4" height="4.4" fill="#000"/>
<rect x="413.92" y="405.83" width="4.4" height="4.4" fill="#000"/>
<rect x="416.11" y="405.40" width="4.4" height="4.4" fill="#000"/>
<rect x="418.29" y="405.43" width="4.4" height="4.4" fill="#000"/>
<rect x="420.48" y="406.07" width="4.4" height="4.4" fill="#000"/>
<rect x="422.67" y="405.50" width="4.4" height="4.4" fill="#000"/>
<rect x="424.85" y="405.43" width="4.4" height="4.4" fill="#000"/>
<rect x="427.04" y="405.97" width="4.4" height="4.4" fill="#000"/>
<rect x="429.23" y="405.30" width="4.4" height="4.4" fill="#000"/>
<rect x="431.41" y="405.17" width="4.4" height="4.4" fill="#000"/>
<rect x="433.60" y="405.63" width="4.4" height="4.4" fill="#000"/>
<rect x="435.78" y="404.90" width="4.4" height="4.4" fill="#000"/>
<rect x="437.97" y="404.77" width="4.4" height="4.4" fill="#000"/>
<rect x="440.16" y="405.23" width="4.4" height="4.4" fill="#000"/>
<rect x="442.34" y="404.50" width="4.4" height="4.4" fill="#000"/>
<rect x="444.53" y="404.40" width="4.4" height="4.4" fill="#000"/>
<rect x="446.72" y="404.90" width="4.4" height="4.4" fill="#000"/>
<rect x="448.90" y="404.57" width="4.4" height="4.4" fill="#000"/>
<rect x="451.09" y="404.83" width="4.4" height="4.4" fill="#000"/>
<rect x="453.28" y="405.70" width="4.4" height="4.4" fill="#000"/>
<rect x="455.46" y="405.50" width="4.4" height="4.4" fill="#000"/>
<rect x="457.65" y="405.90" width="4.4" height="4.4" fill="#000"/>
<rect x="459.84" y="406.90" width="4.4" height="4.4" fill="#000"/>
<rect x="462.02" y="406.63" width="4.4" height="4.4" fill="#000"/>
<rect x="464.21" y="406.97" width="4.4" height="4.4" fill="#000"/>
<rect x="466.40" y="407.90" width="4.4" height="4.4" fill="#000"/>
<rect x="468.58" y="407.53" width="4.4" height="4.4" fill="#000"/>
<rect x="470.77" y="407.77" width="4.4" height="4.4" fill="#000"/>
<rect x="472.96" y="408.60" width="4.4" height="4.4" fill="#000"/>
<rect x="475.14" y="408.25" width="4.4" height="4.4" fill="#000"/>
<rect x="477.33" y="408.50" width="4.4" height="4.4" fill="#000"/>
<rect x="479.51" y="408.97" width="4.4" height="4.4" fill="#000"/>
<rect x="481.70" y="408.23" width="4.4" height="4.4" fill="#000"/>
<rect x="483.89" y="408.10" width="4.4" height="4.4" fill="#000"/>
<rect x="486.07" y="409.10" width="4.4" height="4.4" fill="#000"/>
<rect x="488.26" y="408.90" width="4.4" height="4.4" fill="#000"/>
<rect x="490.45" y="409.30" width="4.4" height="4.4" fill="#000"/>
<rect x="492.63" y="410.10" width="4.4" height="4.4" fill="#000"/>
<rect x="494.82" y="409.70" width="4.4" height="4.4" fill="#000"/>
<rect x="497.01" y="409.90" width="4.4" height="4.4" fill="#000"/>
<rect x="499.19" y="410.33" width="4.4" height="4.4" fill="#000"/>
<rect x="501.38" y="409.57" width="4.4" height="4.4" fill="#000"/>
<rect x="503.57" y="409.40" width="4.4" height="4.4" fill="#000"/>
<rect x="505.75" y="410.37" width="4.4" height="4.4" fill="#000"/>
<rect x="507.94" y="410.13" width="4.4" height="4.4" fill="#000"/>
<rect x="510.13" y="410.50" width="4.4" height="4.4" fill="#000"/>
<rect x="512.31" y="411.33" width="4.4" height="4.4" fill="#000"/>
<rect x="514.50" y="410.97" width="4.4" height="4.4" fill="#000"/>
<rect x="516.68" y="411.20" width="4.4" height="4.4" fill="#000"/>
<rect x="518.87" y="411.57" width="4.4" height="4.4" fill="#000"/>
<rect x="521.06" y="410.73" width="4.4" height="4.4" fill="#000"/>
<rect x="523.24" y="410.50" width="4.4" height="4.4" fill="#000"/>
<rect x="525.43" y="411.43" width="4.4" height="4.4" fill="#000"/>
<rect x="527.62" y="411.17" width="4.4" height="4.4" fill="#000"/>
<rect x="529.80" y="411.50" width="4.4" height="4.4" fill="#000"/>
<rect x="531.99" y="412.23" width="4.4" height="4.4" fill="#000"/>
<rect x="534.18" y="411.75" width="4.4" height="4.4" fill="#000"/>
<rect x="536.36" y="411.88" width="4.4" height="4.4" fill="#000"/>
<rect x="538.55" y="412.60" width="4.4" height="4.4" fill="#000"/>
<polyline points="324.29,393.90 326.47,408.10 328.66,412.78" fill="none" stroke="#0000ff" stroke-width="1.4" stroke-linejoin="round" stroke-linecap="round"/>
<rect x="321.89" y="391.30" width="4.8" height="5.2" fill="#0000ff"/>
<rect x="321.99" y="383.80" width="4.6" height="4.6" fill="#000"/>
<rect x="324.27" y="407.30" width="4.4" height="3.2" fill="#000"/>
<circle cx="328.66" cy="408.34" r="2.85" fill="#ff0000"/>
<circle cx="330.85" cy="408.07" r="2.85" fill="#ff0000"/>
<circle cx="333.03" cy="408.49" r="2.85" fill="#ff0000"/>
<circle cx="335.22" cy="408.56" r="2.85" fill="#ff0000"/>
<circle cx="337.41" cy="408.32" r="2.85" fill="#ff0000"/>
<circle cx="339.59" cy="407.69" r="2.85" fill="#ff0000"/>
<circle cx="341.78" cy="408.45" r="2.85" fill="#ff0000"/>
<circle cx="343.97" cy="408.06" r="2.85" fill="#ff0000"/>
<circle cx="346.15" cy="408.34" r="2.85" fill="#ff0000"/>
<circle cx="348.34" cy="407.77" r="2.85" fill="#ff0000"/>
<circle cx="350.52" cy="408.05" r="2.85" fill="#ff0000"/>
<circle cx="352.71" cy="407.38" r="2.85" fill="#ff0000"/>
<circle cx="354.90" cy="407.83" r="2.85" fill="#ff0000"/>
<circle cx="357.08" cy="408.20" r="2.85" fill="#ff0000"/>
<circle cx="359.27" cy="408.15" r="2.85" fill="#ff0000"/>
<circle cx="361.46" cy="407.31" r="2.85" fill="#ff0000"/>
<circle cx="363.64" cy="406.98" r="2.85" fill="#ff0000"/>
<circle cx="365.83" cy="408.14" r="2.85" fill="#ff0000"/>
<circle cx="368.02" cy="408.11" r="2.85" fill="#ff0000"/>
<circle cx="370.20" cy="407.62" r="2.85" fill="#ff0000"/>
<circle cx="372.39" cy="406.45" r="2.85" fill="#ff0000"/>
<circle cx="374.58" cy="407.74" r="2.85" fill="#ff0000"/>
<circle cx="376.76" cy="408.21" r="2.85" fill="#ff0000"/>
<circle cx="378.95" cy="408.30" r="2.85" fill="#ff0000"/>
<circle cx="381.14" cy="407.07" r="2.85" fill="#ff0000"/>
<circle cx="383.32" cy="407.59" r="2.85" fill="#ff0000"/>
<circle cx="385.51" cy="408.33" r="2.85" fill="#ff0000"/>
<circle cx="387.70" cy="409.19" r="2.85" fill="#ff0000"/>
<circle cx="389.88" cy="409.31" r="2.85" fill="#ff0000"/>
<circle cx="392.07" cy="408.45" r="2.85" fill="#ff0000"/>
<circle cx="394.25" cy="408.52" r="2.85" fill="#ff0000"/>
<circle cx="396.44" cy="408.41" r="2.85" fill="#ff0000"/>
<circle cx="398.63" cy="408.93" r="2.85" fill="#ff0000"/>
<circle cx="400.81" cy="408.41" r="2.85" fill="#ff0000"/>
<circle cx="403.00" cy="408.63" r="2.85" fill="#ff0000"/>
<circle cx="405.19" cy="407.88" r="2.85" fill="#ff0000"/>
<circle cx="407.37" cy="408.62" r="2.85" fill="#ff0000"/>
<circle cx="409.56" cy="408.62" r="2.85" fill="#ff0000"/>
<circle cx="411.75" cy="408.58" r="2.85" fill="#ff0000"/>
<circle cx="413.93" cy="408.03" r="2.85" fill="#ff0000"/>
<circle cx="416.12" cy="408.44" r="2.85" fill="#ff0000"/>
<circle cx="418.31" cy="409.25" r="2.85" fill="#ff0000"/>
<circle cx="420.49" cy="409.29" r="2.85" fill="#ff0000"/>
<circle cx="422.68" cy="409.07" r="2.85" fill="#ff0000"/>
<circle cx="424.87" cy="408.31" r="2.85" fill="#ff0000"/>
<circle cx="427.05" cy="408.95" r="2.85" fill="#ff0000"/>
<circle cx="429.24" cy="409.00" r="2.85" fill="#ff0000"/>
<circle cx="431.43" cy="409.46" r="2.85" fill="#ff0000"/>
<circle cx="433.61" cy="408.27" r="2.85" fill="#ff0000"/>
<circle cx="435.80" cy="408.24" r="2.85" fill="#ff0000"/>
<circle cx="437.98" cy="408.12" r="2.85" fill="#ff0000"/>
<circle cx="440.17" cy="408.83" r="2.85" fill="#ff0000"/>
<circle cx="442.36" cy="408.41" r="2.85" fill="#ff0000"/>
<circle cx="444.54" cy="407.75" r="2.85" fill="#ff0000"/>
<circle cx="446.73" cy="407.47" r="2.85" fill="#ff0000"/>
<circle cx="448.92" cy="407.69" r="2.85" fill="#ff0000"/>
<circle cx="451.10" cy="408.71" r="2.85" fill="#ff0000"/>
<circle cx="453.29" cy="408.39" r="2.85" fill="#ff0000"/>
<circle cx="455.48" cy="408.49" r="2.85" fill="#ff0000"/>
<circle cx="457.66" cy="408.31" r="2.85" fill="#ff0000"/>
<circle cx="459.85" cy="409.76" r="2.85" fill="#ff0000"/>
<circle cx="462.04" cy="410.06" r="2.85" fill="#ff0000"/>
<circle cx="464.22" cy="410.50" r="2.85" fill="#ff0000"/>
<circle cx="466.41" cy="409.88" r="2.85" fill="#ff0000"/>
<circle cx="468.60" cy="410.54" r="2.85" fill="#ff0000"/>
<circle cx="470.78" cy="411.18" r="2.85" fill="#ff0000"/>
<circle cx="472.97" cy="411.77" r="2.85" fill="#ff0000"/>
<circle cx="475.16" cy="411.60" r="2.85" fill="#ff0000"/>
<circle cx="477.34" cy="411.18" r="2.85" fill="#ff0000"/>
<circle cx="479.53" cy="411.86" r="2.85" fill="#ff0000"/>
<circle cx="481.71" cy="411.97" r="2.85" fill="#ff0000"/>
<circle cx="483.90" cy="412.43" r="2.85" fill="#ff0000"/>
<circle cx="486.09" cy="411.30" r="2.85" fill="#ff0000"/>
<circle cx="488.27" cy="411.76" r="2.85" fill="#ff0000"/>
<circle cx="490.46" cy="411.95" r="2.85" fill="#ff0000"/>
<circle cx="492.65" cy="413.39" r="2.85" fill="#ff0000"/>
<circle cx="494.83" cy="413.24" r="2.85" fill="#ff0000"/>
<circle cx="497.02" cy="413.16" r="2.85" fill="#ff0000"/>
<circle cx="499.21" cy="412.83" r="2.85" fill="#ff0000"/>
<circle cx="501.39" cy="413.14" r="2.85" fill="#ff0000"/>
<circle cx="503.58" cy="413.56" r="2.85" fill="#ff0000"/>
<circle cx="505.77" cy="413.14" r="2.85" fill="#ff0000"/>
<circle cx="507.95" cy="413.17" r="2.85" fill="#ff0000"/>
<circle cx="510.14" cy="412.95" r="2.85" fill="#ff0000"/>
<circle cx="512.33" cy="414.23" r="2.85" fill="#ff0000"/>
<circle cx="514.51" cy="414.47" r="2.85" fill="#ff0000"/>
<circle cx="516.70" cy="414.97" r="2.85" fill="#ff0000"/>
<circle cx="518.88" cy="414.12" r="2.85" fill="#ff0000"/>
<circle cx="521.07" cy="414.24" r="2.85" fill="#ff0000"/>
<circle cx="523.26" cy="414.17" r="2.85" fill="#ff0000"/>
<circle cx="525.44" cy="414.62" r="2.85" fill="#ff0000"/>
<circle cx="527.63" cy="414.42" r="2.85" fill="#ff0000"/>
<circle cx="529.82" cy="414.26" r="2.85" fill="#ff0000"/>
<circle cx="532.00" cy="414.67" r="2.85" fill="#ff0000"/>
<circle cx="534.19" cy="415.23" r="2.85" fill="#ff0000"/>
<circle cx="536.38" cy="415.90" r="2.85" fill="#ff0000"/>
<circle cx="538.56" cy="415.23" r="2.85" fill="#ff0000"/>
<circle cx="540.75" cy="415.26" r="2.85" fill="#ff0000"/>
<circle cx="324.29" cy="415.20" r="2.9" fill="#00ff00"/>
<circle cx="326.47" cy="415.29" r="2.9" fill="#00ff00"/>
<circle cx="328.66" cy="415.38" r="2.9" fill="#00ff00"/>
<circle cx="330.85" cy="415.47" r="2.9" fill="#00ff00"/>
<circle cx="333.03" cy="415.56" r="2.9" fill="#00ff00"/>
<circle cx="335.22" cy="415.64" r="2.9" fill="#00ff00"/>
<circle cx="337.41" cy="415.73" r="2.9" fill="#00ff00"/>
<circle cx="339.59" cy="415.82" r="2.9" fill="#00ff00"/>
<circle cx="341.78" cy="415.91" r="2.9" fill="#00ff00"/>
<circle cx="343.97" cy="416.00" r="2.9" fill="#00ff00"/>
<circle cx="346.15" cy="416.07" r="2.9" fill="#00ff00"/>
<circle cx="348.34" cy="416.14" r="2.9" fill="#00ff00"/>
<circle cx="350.52" cy="416.21" r="2.9" fill="#00ff00"/>
<circle cx="352.71" cy="416.28" r="2.9" fill="#00ff00"/>
<circle cx="354.90" cy="416.35" r="2.9" fill="#00ff00"/>
<circle cx="357.08" cy="416.42" r="2.9" fill="#00ff00"/>
<circle cx="359.27" cy="416.49" r="2.9" fill="#00ff00"/>
<circle cx="361.46" cy="416.56" r="2.9" fill="#00ff00"/>
<circle cx="363.64" cy="416.63" r="2.9" fill="#00ff00"/>
<circle cx="365.83" cy="416.70" r="2.9" fill="#00ff00"/>
<circle cx="368.02" cy="416.77" r="2.9" fill="#00ff00"/>
<circle cx="370.20" cy="416.84" r="2.9" fill="#00ff00"/>
<circle cx="372.39" cy="416.91" r="2.9" fill="#00ff00"/>
<circle cx="374.58" cy="416.98" r="2.9" fill="#00ff00"/>
<circle cx="376.76" cy="417.05" r="2.9" fill="#00ff00"/>
<circle cx="378.95" cy="417.12" r="2.9" fill="#00ff00"/>
<circle cx="381.14" cy="417.19" r="2.9" fill="#00ff00"/>
<circle cx="383.32" cy="417.26" r="2.9" fill="#00ff00"/>
<circle cx="385.51" cy="417.33" r="2.9" fill="#00ff00"/>
<circle cx="387.70" cy="417.40" r="2.9" fill="#00ff00"/>
<circle cx="389.88" cy="417.46" r="2.9" fill="#00ff00"/>
<circle cx="392.07" cy="417.52" r="2.9" fill="#00ff00"/>
<circle cx="394.25" cy="417.58" r="2.9" fill="#00ff00"/>
<circle cx="396.44" cy="417.64" r="2.9" fill="#00ff00"/>
<circle cx="398.63" cy="417.70" r="2.9" fill="#00ff00"/>
<circle cx="400.81" cy="417.76" r="2.9" fill="#00ff00"/>
<circle cx="403.00" cy="417.82" r="2.9" fill="#00ff00"/>
<circle cx="405.19" cy="417.88" r="2.9" fill="#00ff00"/>
<circle cx="407.37" cy="417.94" r="2.9" fill="#00ff00"/>
<circle cx="409.56" cy="418.00" r="2.9" fill="#00ff00"/>
<polyline points="328.66,412.78 330.85,412.87 333.03,412.96 335.22,413.04 337.41,413.13 339.59,413.22 341.78,413.31 343.97,413.40 346.15,413.47 348.34,413.54 350.52,413.61 352.71,413.68 354.90,413.75 357.08,413.82 359.27,413.89 361.46,413.96 363.64,414.03 365.83,414.10 368.02,414.17 370.20,414.24 372.39,414.31 374.58,414.38 376.76,414.45 378.95,414.52 381.14,414.59 383.32,414.66 385.51,414.73 387.70,414.80 389.88,414.86 392.07,414.92 394.25,414.98 396.44,415.04 398.63,415.10 400.81,415.16 403.00,415.22 405.19,415.28 407.37,415.34 409.56,415.40" fill="none" stroke="#0000ff" stroke-width="1.1" stroke-linejoin="round" stroke-linecap="round"/>
<rect x="311.8" y="370.9" width="229.30" height="136.80" fill="none" stroke="#000" stroke-width="1.6" stroke-linejoin="round"/>
<line x1="311.80" y1="374.70" x2="314.30" y2="374.70" stroke="#000" stroke-width="1.3"/>
<line x1="311.80" y1="393.65" x2="314.30" y2="393.65" stroke="#000" stroke-width="1.3"/>
<line x1="311.80" y1="412.60" x2="314.30" y2="412.60" stroke="#000" stroke-width="1.3"/>
<line x1="311.80" y1="384.18" x2="313.50" y2="384.18" stroke="#000" stroke-width="1.2"/>
<line x1="311.80" y1="403.12" x2="313.50" y2="403.12" stroke="#000" stroke-width="1.2"/>
<line x1="311.80" y1="422.08" x2="313.50" y2="422.08" stroke="#000" stroke-width="1.2"/>
<line x1="322.10" y1="507.70" x2="322.10" y2="505.20" stroke="#000" stroke-width="1.2"/>
<line x1="343.97" y1="507.70" x2="343.97" y2="506.10" stroke="#000" stroke-width="1.2"/>
<line x1="365.83" y1="507.70" x2="365.83" y2="505.20" stroke="#000" stroke-width="1.2"/>
<line x1="387.70" y1="507.70" x2="387.70" y2="506.10" stroke="#000" stroke-width="1.2"/>
<line x1="409.56" y1="507.70" x2="409.56" y2="505.20" stroke="#000" stroke-width="1.2"/>
<line x1="431.43" y1="507.70" x2="431.43" y2="506.10" stroke="#000" stroke-width="1.2"/>
<line x1="453.29" y1="507.70" x2="453.29" y2="505.20" stroke="#000" stroke-width="1.2"/>
<line x1="475.16" y1="507.70" x2="475.16" y2="506.10" stroke="#000" stroke-width="1.2"/>
<line x1="497.02" y1="507.70" x2="497.02" y2="505.20" stroke="#000" stroke-width="1.2"/>
<line x1="518.88" y1="507.70" x2="518.88" y2="506.10" stroke="#000" stroke-width="1.2"/>
<line x1="540.75" y1="507.70" x2="540.75" y2="505.20" stroke="#000" stroke-width="1.2"/>
<rect x="307.8" y="425.00" width="8" height="2.4" fill="#fff"/>
<line x1="309.10" y1="426.40" x2="314.40" y2="424.10" stroke="#000" stroke-width="1.15"/>
<line x1="309.10" y1="428.50" x2="314.40" y2="426.20" stroke="#000" stroke-width="1.15"/>
<rect x="537.1" y="424.50" width="8" height="2.4" fill="#fff"/>
<line x1="538.40" y1="425.90" x2="543.70" y2="423.60" stroke="#000" stroke-width="1.15"/>
<line x1="538.40" y1="428.00" x2="543.70" y2="425.70" stroke="#000" stroke-width="1.15"/>
<line x1="311.80" y1="468.00" x2="313.30" y2="468.00" stroke="#000" stroke-width="1.1"/>
<text x="292.89" y="377.71" font-size="9.04" font-weight="bold" fill="#000" textLength="15.08" lengthAdjust="spacingAndGlyphs" stroke="#000" stroke-width="0.25">250</text>
<text x="292.89" y="396.71" font-size="9.04" font-weight="bold" fill="#000" textLength="15.08" lengthAdjust="spacingAndGlyphs" stroke="#000" stroke-width="0.25">200</text>
<text x="292.89" y="415.61" font-size="9.04" font-weight="bold" fill="#000" textLength="15.08" lengthAdjust="spacingAndGlyphs" stroke="#000" stroke-width="0.25">150</text>
<text x="302.34" y="511.31" font-size="9.04" font-weight="bold" fill="#000" textLength="5.03" lengthAdjust="spacingAndGlyphs" stroke="#000" stroke-width="0.25">0</text>
<text x="319.60" y="519.31" font-size="8.76" font-weight="bold" fill="#000" textLength="5.02" lengthAdjust="spacingAndGlyphs" stroke="#000" stroke-width="0.25">0</text>
<text x="360.84" y="519.31" font-size="8.76" font-weight="bold" fill="#000" textLength="10.03" lengthAdjust="spacingAndGlyphs" stroke="#000" stroke-width="0.25">20</text>
<text x="404.66" y="519.31" font-size="8.76" font-weight="bold" fill="#000" textLength="10.03" lengthAdjust="spacingAndGlyphs" stroke="#000" stroke-width="0.25">40</text>
<text x="448.29" y="519.31" font-size="8.76" font-weight="bold" fill="#000" textLength="10.03" lengthAdjust="spacingAndGlyphs" stroke="#000" stroke-width="0.25">60</text>
<text x="492.05" y="519.31" font-size="8.76" font-weight="bold" fill="#000" textLength="10.03" lengthAdjust="spacingAndGlyphs" stroke="#000" stroke-width="0.25">80</text>
<text x="533.13" y="519.31" font-size="8.76" font-weight="bold" fill="#000" textLength="15.05" lengthAdjust="spacingAndGlyphs" stroke="#000" stroke-width="0.25">100</text>
<text x="394.31" y="536.09" font-size="9.23" font-weight="bold" fill="#000" textLength="62.63" lengthAdjust="spacingAndGlyphs" stroke="#000" stroke-width="0.25">Cycle number</text>
<text transform="translate(288.02,484.99) rotate(-90)" font-size="9.82" font-weight="bold" fill="#000" textLength="78.37" lengthAdjust="spacingAndGlyphs" stroke="#000" stroke-width="0.25">Capacity (mAh/g)</text>
<text x="283.96" y="359.88" font-size="13.63" font-weight="normal" fill="#000" textLength="15.89" lengthAdjust="spacingAndGlyphs" stroke="#000" stroke-width="0.45">(f)</text>
<text x="485.76" y="384.11" font-size="9.18" font-weight="bold" fill="#000" textLength="40.37" lengthAdjust="spacingAndGlyphs" stroke="#000" stroke-width="0.25">LFP SSB</text>
<text x="364.39" y="459.80" font-size="9.66" font-weight="bold" fill="#ff0000" textLength="75.05" lengthAdjust="spacingAndGlyphs" stroke="#ff0000" stroke-width="0.25">With buffer layer</text>
<text x="364.39" y="471.43" font-size="9.01" font-weight="bold" fill="#00ff00" textLength="90.35" lengthAdjust="spacingAndGlyphs" stroke="#00ff00" stroke-width="0.25">Without buffer layer</text>
</svg>
</body></html>
